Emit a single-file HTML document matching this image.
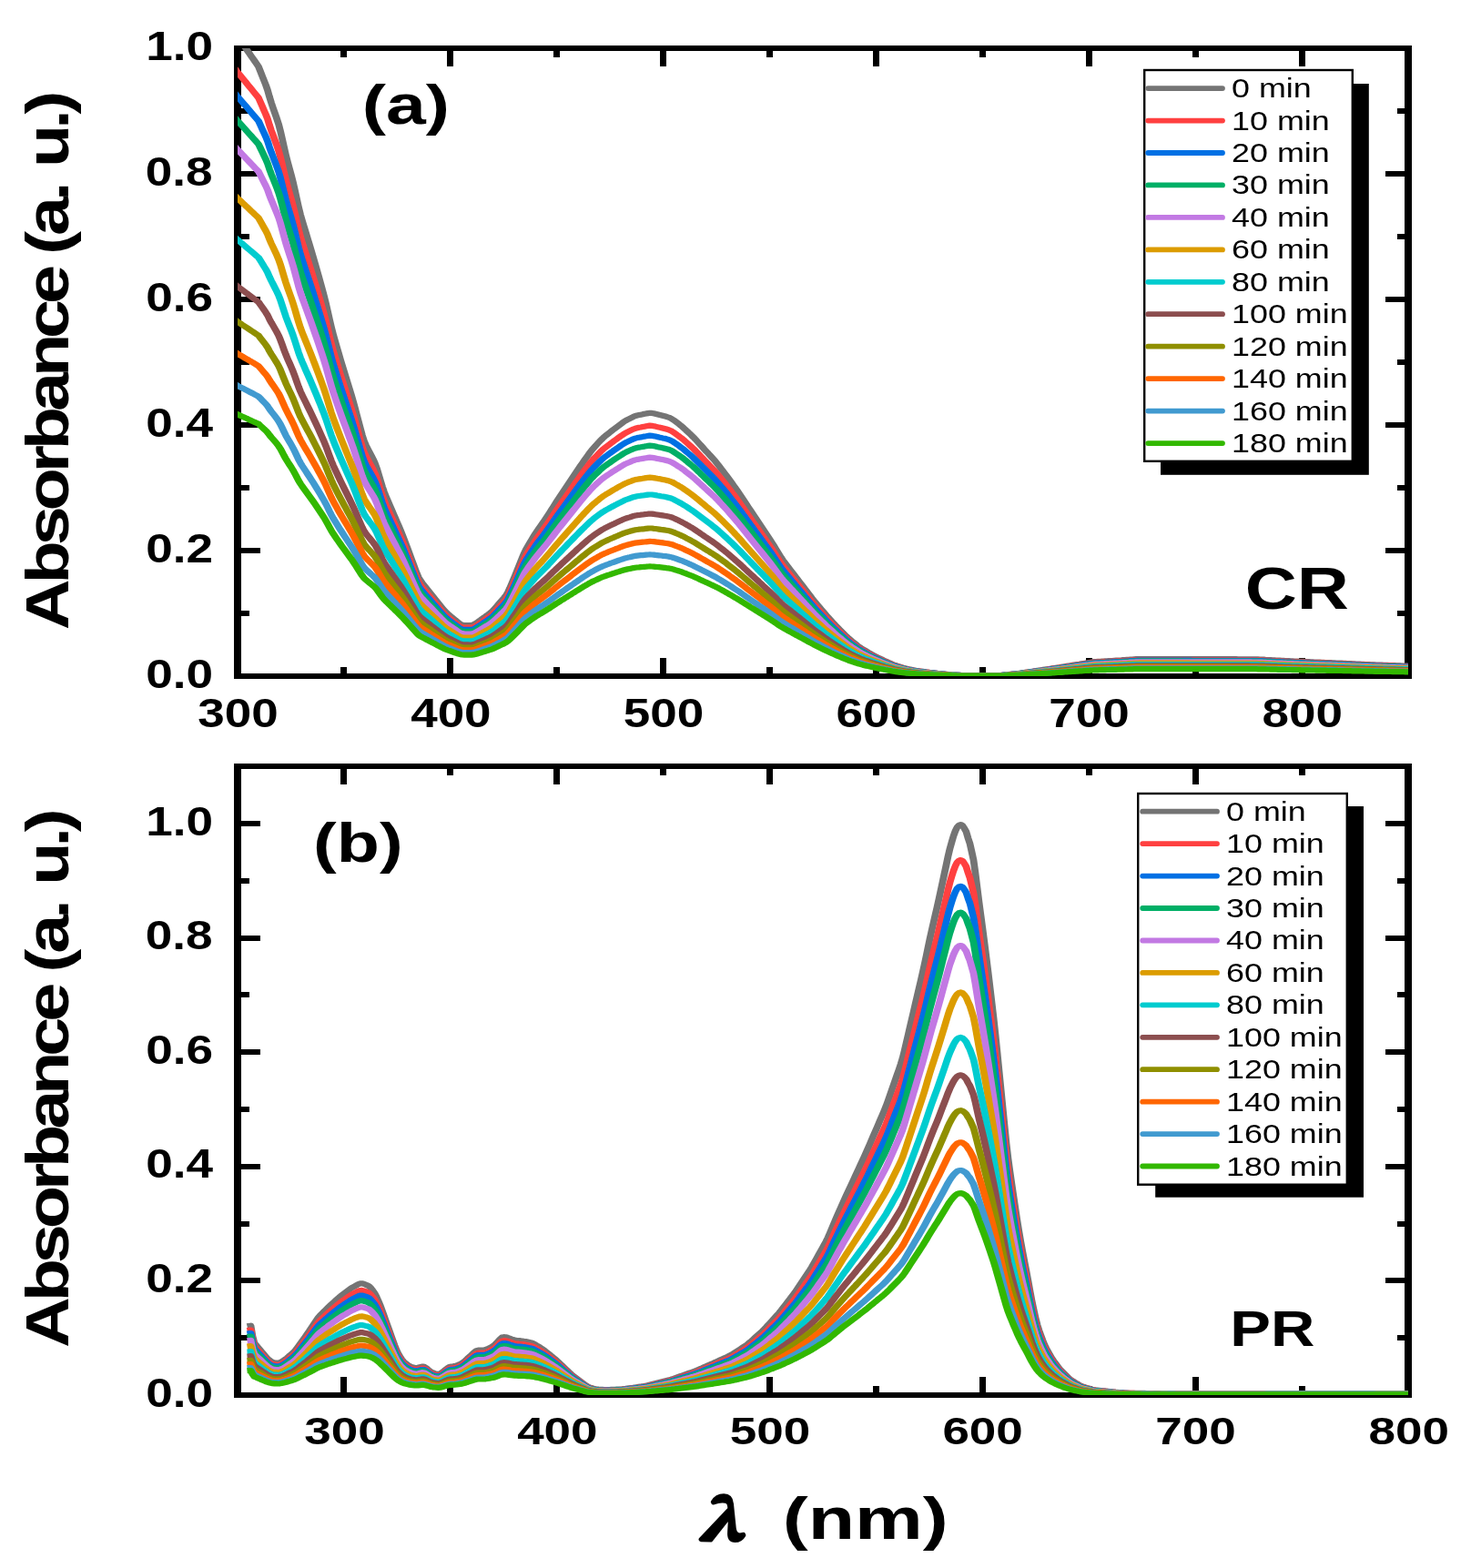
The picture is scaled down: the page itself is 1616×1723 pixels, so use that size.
<!DOCTYPE html><html><head><meta charset="utf-8"><title>Absorbance spectra</title><style>html,body{margin:0;padding:0;background:#fff}svg{display:block}</style></head><body><svg width="1616" height="1723" viewBox="0 0 1616 1723">
<defs><clipPath id="ca"><rect x="261" y="53" width="1286" height="690"/></clipPath><clipPath id="cb"><rect x="261" y="842" width="1286" height="691"/></clipPath></defs>
<rect width="100%" height="100%" fill="#fff"/>
<g fill="#000">
<rect x="257" y="50" width="1294" height="6"/>
<rect x="257" y="740" width="1294" height="6"/>
<rect x="257" y="50" width="8" height="696"/>
<rect x="1543" y="50" width="8" height="696"/>
<rect x="491" y="723" width="7" height="17"/>
<rect x="491" y="56" width="7" height="17"/>
<rect x="725" y="723" width="7" height="17"/>
<rect x="725" y="56" width="7" height="17"/>
<rect x="959" y="723" width="7" height="17"/>
<rect x="959" y="56" width="7" height="17"/>
<rect x="1193" y="723" width="7" height="17"/>
<rect x="1193" y="56" width="7" height="17"/>
<rect x="1427" y="723" width="7" height="17"/>
<rect x="1427" y="56" width="7" height="17"/>
<rect x="374" y="733" width="7" height="7"/>
<rect x="374" y="56" width="7" height="7"/>
<rect x="608" y="733" width="7" height="7"/>
<rect x="608" y="56" width="7" height="7"/>
<rect x="842" y="733" width="7" height="7"/>
<rect x="842" y="56" width="7" height="7"/>
<rect x="1076" y="733" width="7" height="7"/>
<rect x="1076" y="56" width="7" height="7"/>
<rect x="1310" y="733" width="7" height="7"/>
<rect x="1310" y="56" width="7" height="7"/>
<rect x="265" y="602" width="21" height="6"/>
<rect x="1522" y="602" width="21" height="6"/>
<rect x="265" y="464" width="21" height="6"/>
<rect x="1522" y="464" width="21" height="6"/>
<rect x="265" y="326" width="21" height="6"/>
<rect x="1522" y="326" width="21" height="6"/>
<rect x="265" y="188" width="21" height="6"/>
<rect x="1522" y="188" width="21" height="6"/>
<rect x="265" y="671" width="9" height="6"/>
<rect x="1535" y="671" width="8" height="6"/>
<rect x="265" y="533" width="9" height="6"/>
<rect x="1535" y="533" width="8" height="6"/>
<rect x="265" y="395" width="9" height="6"/>
<rect x="1535" y="395" width="8" height="6"/>
<rect x="265" y="257" width="9" height="6"/>
<rect x="1535" y="257" width="8" height="6"/>
<rect x="265" y="119" width="9" height="6"/>
<rect x="1535" y="119" width="8" height="6"/>
<rect x="257" y="839" width="1294" height="6"/>
<rect x="257" y="1530" width="1294" height="6"/>
<rect x="257" y="839" width="8" height="697"/>
<rect x="1543" y="839" width="8" height="697"/>
<rect x="374" y="1513" width="7" height="17"/>
<rect x="374" y="845" width="7" height="17"/>
<rect x="608" y="1513" width="7" height="17"/>
<rect x="608" y="845" width="7" height="17"/>
<rect x="842" y="1513" width="7" height="17"/>
<rect x="842" y="845" width="7" height="17"/>
<rect x="1076" y="1513" width="7" height="17"/>
<rect x="1076" y="845" width="7" height="17"/>
<rect x="1310" y="1513" width="7" height="17"/>
<rect x="1310" y="845" width="7" height="17"/>
<rect x="491" y="1523" width="7" height="7"/>
<rect x="491" y="845" width="7" height="7"/>
<rect x="725" y="1523" width="7" height="7"/>
<rect x="725" y="845" width="7" height="7"/>
<rect x="959" y="1523" width="7" height="7"/>
<rect x="959" y="845" width="7" height="7"/>
<rect x="1193" y="1523" width="7" height="7"/>
<rect x="1193" y="845" width="7" height="7"/>
<rect x="1427" y="1523" width="7" height="7"/>
<rect x="1427" y="845" width="7" height="7"/>
<rect x="265" y="1404" width="21" height="6"/>
<rect x="1522" y="1404" width="21" height="6"/>
<rect x="265" y="1279" width="21" height="6"/>
<rect x="1522" y="1279" width="21" height="6"/>
<rect x="265" y="1153" width="21" height="6"/>
<rect x="1522" y="1153" width="21" height="6"/>
<rect x="265" y="1028" width="21" height="6"/>
<rect x="1522" y="1028" width="21" height="6"/>
<rect x="265" y="902" width="21" height="6"/>
<rect x="1522" y="902" width="21" height="6"/>
<rect x="265" y="1467" width="9" height="6"/>
<rect x="1535" y="1467" width="8" height="6"/>
<rect x="265" y="1342" width="9" height="6"/>
<rect x="1535" y="1342" width="8" height="6"/>
<rect x="265" y="1216" width="9" height="6"/>
<rect x="1535" y="1216" width="8" height="6"/>
<rect x="265" y="1090" width="9" height="6"/>
<rect x="1535" y="1090" width="8" height="6"/>
<rect x="265" y="965" width="9" height="6"/>
<rect x="1535" y="965" width="8" height="6"/>
</g>
<g clip-path="url(#ca)"><g transform="scale(1.25,1)" fill="none" stroke-width="6.2" stroke-linejoin="round">
<path d="M200.00,24.3 L201.60,27.2 L203.20,30.1 L204.80,33 L206.40,35.8 L208.00,38.7 L209.60,41.6 L211.20,44.4 L212.80,47.3 L214.40,50.2 L216.00,53.1 L217.60,55.9 L219.20,58.8 L220.80,61.7 L222.40,64.6 L224.00,67.4 L225.60,70.3 L227.20,73.2 L228.80,78.2 L230.40,83.4 L232.00,88.4 L233.60,93.4 L235.20,99.1 L236.80,106.3 L238.40,112.8 L240.00,118.7 L241.60,124.4 L243.20,130.1 L244.80,136.2 L246.40,143.8 L248.00,152.5 L249.60,161.6 L251.20,170.2 L252.80,178 L254.40,185.4 L256.00,192.7 L257.60,200.6 L259.20,209.3 L260.80,218.5 L262.40,227.6 L264.00,235.7 L265.60,242.7 L267.20,249.3 L268.80,255.8 L270.40,262.4 L272.00,268.9 L273.60,275.6 L275.20,282.4 L276.80,289.4 L278.40,296.4 L280.00,303.4 L281.60,310.6 L283.20,317.9 L284.80,325.3 L286.40,333.3 L288.00,342 L289.60,351 L291.20,359.5 L292.80,367.3 L294.40,374.4 L296.00,381.4 L297.60,388.3 L299.20,395.1 L300.80,401.7 L302.40,408.3 L304.00,414.8 L305.60,421.3 L307.20,427.8 L308.80,434.3 L310.40,441.2 L312.00,448.5 L313.60,456.1 L315.20,463.7 L316.80,471.2 L318.40,478.5 L320.00,484.7 L321.60,489.3 L323.20,493.3 L324.80,497.1 L326.40,500.9 L328.00,504.9 L329.60,509.3 L331.20,514.8 L332.80,521.4 L334.40,528.1 L336.00,534.7 L337.60,540.6 L339.20,545.6 L340.80,550.3 L342.40,554.9 L344.00,559.6 L345.60,564.2 L347.20,568.8 L348.80,573.4 L350.40,578.1 L352.00,582.7 L353.60,587.6 L355.20,592.8 L356.80,598.1 L358.40,603.5 L360.00,608.9 L361.60,614.3 L363.20,619.7 L364.80,625.1 L366.40,630.3 L368.00,634.8 L369.60,638.1 L371.20,640.8 L372.80,643.3 L374.40,645.8 L376.00,648.3 L377.60,650.8 L379.20,653.3 L380.80,655.9 L382.40,658.4 L384.00,660.9 L385.60,663.4 L387.20,665.9 L388.80,668.4 L390.40,670.8 L392.00,672.8 L393.60,674.6 L395.20,676.3 L396.80,678 L398.40,679.6 L400.00,681.3 L401.60,682.9 L403.20,684.6 L404.80,686 L406.40,686.7 L408.00,687 L409.60,687 L411.20,687 L412.80,687 L414.40,686.9 L416.00,686.5 L417.60,685.5 L419.20,684.2 L420.80,682.7 L422.40,681.3 L424.00,679.8 L425.60,678.4 L427.20,676.9 L428.80,675.5 L430.40,674 L432.00,672.4 L433.60,670.5 L435.20,668.2 L436.80,665.9 L438.40,663.6 L440.00,661.3 L441.60,659 L443.20,656.7 L444.80,654.1 L446.40,650.7 L448.00,646.4 L449.60,641.7 L451.20,637 L452.80,632.2 L454.40,627.3 L456.00,622.3 L457.60,617.3 L459.20,612.3 L460.80,607.6 L462.40,603.5 L464.00,600 L465.60,596.6 L467.20,593.2 L468.80,589.9 L470.40,586.7 L472.00,583.7 L473.60,580.8 L475.20,577.9 L476.80,575.1 L478.40,572.2 L480.00,569.2 L481.60,566.2 L483.20,563.1 L484.80,559.9 L486.40,556.8 L488.00,553.6 L489.60,550.5 L491.20,547.5 L492.80,544.4 L494.40,541.4 L496.00,538.4 L497.60,535.4 L499.20,532.4 L500.80,529.4 L502.40,526.4 L504.00,523.4 L505.60,520.4 L507.20,517.4 L508.80,514.5 L510.40,511.5 L512.00,508.7 L513.60,505.8 L515.20,503 L516.80,500.2 L518.40,497.4 L520.00,494.8 L521.60,492.5 L523.20,490.2 L524.80,488 L526.40,485.8 L528.00,483.7 L529.60,481.7 L531.20,479.9 L532.80,478.3 L534.40,476.7 L536.00,475.1 L537.60,473.5 L539.20,471.9 L540.80,470.4 L542.40,468.9 L544.00,467.4 L545.60,465.9 L547.20,464.4 L548.80,463 L550.40,461.9 L552.00,460.8 L553.60,459.8 L555.20,458.8 L556.80,457.8 L558.40,457 L560.00,456.5 L561.60,456.1 L563.20,455.7 L564.80,455.3 L566.40,454.8 L568.00,454.4 L569.60,454.1 L571.20,453.8 L572.80,453.9 L574.40,454.3 L576.00,454.8 L577.60,455.3 L579.20,455.8 L580.80,456.3 L582.40,456.8 L584.00,457.3 L585.60,457.8 L587.20,458.5 L588.80,459.2 L590.40,460.3 L592.00,461.6 L593.60,463.1 L595.20,464.6 L596.80,466.1 L598.40,467.7 L600.00,469.4 L601.60,471.2 L603.20,473.1 L604.80,474.9 L606.40,476.8 L608.00,478.7 L609.60,480.7 L611.20,482.8 L612.80,485 L614.40,487.2 L616.00,489.4 L617.60,491.6 L619.20,493.9 L620.80,496.1 L622.40,498.2 L624.00,500.4 L625.60,502.6 L627.20,504.8 L628.80,507.1 L630.40,509.6 L632.00,512.2 L633.60,514.8 L635.20,517.4 L636.80,520 L638.40,522.6 L640.00,525.3 L641.60,528.1 L643.20,530.9 L644.80,533.7 L646.40,536.4 L648.00,539.3 L649.60,542.2 L651.20,545.2 L652.80,548.2 L654.40,551.2 L656.00,554.2 L657.60,557.3 L659.20,560.3 L660.80,563.3 L662.40,566.2 L664.00,569.2 L665.60,572.2 L667.20,575.2 L668.80,578.2 L670.40,581.2 L672.00,584.2 L673.60,587.2 L675.20,590.2 L676.80,593.2 L678.40,596.3 L680.00,599.5 L681.60,602.8 L683.20,606.1 L684.80,609.4 L686.40,612.6 L688.00,615.5 L689.60,618.1 L691.20,620.8 L692.80,623.4 L694.40,626 L696.00,628.6 L697.60,631.2 L699.20,633.8 L700.80,636.4 L702.40,639 L704.00,641.6 L705.60,644.2 L707.20,646.8 L708.80,649.4 L710.40,652 L712.00,654.6 L713.60,657.3 L715.20,659.8 L716.80,662.2 L718.40,664.6 L720.00,667 L721.60,669.4 L723.20,671.8 L724.80,674.1 L726.40,676.4 L728.00,678.6 L729.60,680.8 L731.20,683 L732.80,685.2 L734.40,687.3 L736.00,689.4 L737.60,691.5 L739.20,693.5 L740.80,695.5 L742.40,697.5 L744.00,699.4 L745.60,701.2 L747.20,702.9 L748.80,704.6 L750.40,706.2 L752.00,707.8 L753.60,709.4 L755.20,710.9 L756.80,712.2 L758.40,713.4 L760.00,714.6 L761.60,715.8 L763.20,717 L764.80,718.1 L766.40,719.2 L768.00,720.3 L769.60,721.3 L771.20,722.3 L772.80,723.3 L774.40,724.2 L776.00,725.2 L777.60,726.1 L779.20,727 L780.80,727.9 L782.40,728.8 L784.00,729.7 L785.60,730.5 L787.20,731.2 L788.80,731.9 L790.40,732.5 L792.00,733.1 L793.60,733.7 L795.20,734.2 L796.80,734.7 L798.40,735.2 L800.00,735.6 L801.60,736 L803.20,736.4 L804.80,736.8 L806.40,737.1 L808.00,737.4 L809.60,737.7 L811.20,737.9 L812.80,738.2 L814.40,738.5 L816.00,738.7 L817.60,739 L819.20,739.2 L820.80,739.4 L822.40,739.6 L824.00,739.9 L825.60,740.1 L827.20,740.3 L828.80,740.5 L830.40,740.7 L832.00,740.9 L833.60,741.1 L835.20,741.2 L836.80,741.3 L838.40,741.5 L840.00,741.6 L841.60,741.7 L843.20,741.8 L844.80,742 L846.40,742.1 L848.00,742.1 L849.60,742.1 L851.20,742.1 L852.80,742.1 L854.40,742.1 L856.00,742.1 L857.60,742.1 L859.20,742.1 L860.80,742.1 L862.40,742.1 L864.00,742.1 L865.60,742.1 L867.20,742.1 L868.80,742.1 L870.40,742.1 L872.00,742.1 L873.60,742.1 L875.20,742.1 L876.80,742.1 L878.40,742 L880.00,741.9 L881.60,741.7 L883.20,741.5 L884.80,741.3 L886.40,741.1 L888.00,740.9 L889.60,740.7 L891.20,740.5 L892.80,740.3 L894.40,740.1 L896.00,739.8 L897.60,739.5 L899.20,739.2 L900.80,738.9 L902.40,738.6 L904.00,738.3 L905.60,738 L907.20,737.7 L908.80,737.4 L910.40,737.1 L912.00,736.8 L913.60,736.5 L915.20,736.2 L916.80,735.9 L918.40,735.6 L920.00,735.3 L921.60,735 L923.20,734.7 L924.80,734.4 L926.40,734.1 L928.00,733.8 L929.60,733.5 L931.20,733.2 L932.80,732.8 L934.40,732.5 L936.00,732.2 L937.60,731.9 L939.20,731.6 L940.80,731.3 L942.40,730.9 L944.00,730.6 L945.60,730.3 L947.20,730 L948.80,729.7 L950.40,729.3 L952.00,729 L953.60,728.7 L955.20,728.4 L956.80,728 L958.40,727.7 L960.00,727.4 L961.60,727.2 L963.20,727 L964.80,726.9 L966.40,726.8 L968.00,726.7 L969.60,726.5 L971.20,726.4 L972.80,726.3 L974.40,726.2 L976.00,726.1 L977.60,726 L979.20,725.8 L980.80,725.7 L982.40,725.6 L984.00,725.5 L985.60,725.4 L987.20,725.2 L988.80,725.1 L990.40,724.9 L992.00,724.8 L993.60,724.6 L995.20,724.5 L996.80,724.3 L998.40,724.2 L1000.00,724.1 L1001.60,724.1 L1003.20,724.1 L1004.80,724.1 L1006.40,724.1 L1008.00,724.1 L1009.60,724.1 L1011.20,724.1 L1012.80,724.1 L1014.40,724.1 L1016.00,724.1 L1017.60,724.1 L1019.20,724.1 L1020.80,724.1 L1022.40,724.1 L1024.00,724.1 L1025.60,724.1 L1027.20,724.1 L1028.80,724.1 L1030.40,724.1 L1032.00,724.1 L1033.60,724.1 L1035.20,724.1 L1036.80,724.1 L1038.40,724.1 L1040.00,724.1 L1041.60,724.1 L1043.20,724.1 L1044.80,724.1 L1046.40,724.1 L1048.00,724.1 L1049.60,724.1 L1051.20,724.1 L1052.80,724.1 L1054.40,724.2 L1056.00,724.2 L1057.60,724.2 L1059.20,724.2 L1060.80,724.2 L1062.40,724.2 L1064.00,724.2 L1065.60,724.2 L1067.20,724.2 L1068.80,724.2 L1070.40,724.2 L1072.00,724.2 L1073.60,724.2 L1075.20,724.2 L1076.80,724.2 L1078.40,724.2 L1080.00,724.2 L1081.60,724.2 L1083.20,724.2 L1084.80,724.2 L1086.40,724.2 L1088.00,724.3 L1089.60,724.3 L1091.20,724.3 L1092.80,724.3 L1094.40,724.3 L1096.00,724.3 L1097.60,724.3 L1099.20,724.3 L1100.80,724.3 L1102.40,724.3 L1104.00,724.3 L1105.60,724.4 L1107.20,724.5 L1108.80,724.6 L1110.40,724.7 L1112.00,724.9 L1113.60,725 L1115.20,725.1 L1116.80,725.2 L1118.40,725.3 L1120.00,725.4 L1121.60,725.5 L1123.20,725.6 L1124.80,725.7 L1126.40,725.8 L1128.00,725.9 L1129.60,726 L1131.20,726.1 L1132.80,726.2 L1134.40,726.3 L1136.00,726.4 L1137.60,726.5 L1139.20,726.6 L1140.80,726.7 L1142.40,726.8 L1144.00,726.9 L1145.60,726.9 L1147.20,727 L1148.80,727.1 L1150.40,727.2 L1152.00,727.3 L1153.60,727.4 L1155.20,727.5 L1156.80,727.6 L1158.40,727.6 L1160.00,727.7 L1161.60,727.8 L1163.20,727.9 L1164.80,728 L1166.40,728 L1168.00,728.1 L1169.60,728.2 L1171.20,728.3 L1172.80,728.4 L1174.40,728.5 L1176.00,728.5 L1177.60,728.6 L1179.20,728.7 L1180.80,728.8 L1182.40,728.9 L1184.00,729 L1185.60,729.1 L1187.20,729.2 L1188.80,729.3 L1190.40,729.4 L1192.00,729.5 L1193.60,729.6 L1195.20,729.7 L1196.80,729.8 L1198.40,729.9 L1200.00,730 L1201.60,730.1 L1203.20,730.2 L1204.80,730.3 L1206.40,730.3 L1208.00,730.4 L1209.60,730.5 L1211.20,730.6 L1212.80,730.6 L1214.40,730.7 L1216.00,730.8 L1217.60,730.8 L1219.20,730.9 L1220.80,731 L1222.40,731.1 L1224.00,731.1 L1225.60,731.2 L1227.20,731.3 L1228.80,731.4 L1230.40,731.4 L1232.00,731.5 L1233.60,731.6 L1235.20,731.7 L1236.80,731.7 L1238.40,731.8" stroke="#747474"/>
<path d="M200.00,64.6 L201.60,67.3 L203.20,70 L204.80,72.7 L206.40,75.4 L208.00,78.1 L209.60,80.6 L211.20,83 L212.80,85.4 L214.40,87.9 L216.00,90.3 L217.60,92.8 L219.20,95.2 L220.80,97.7 L222.40,100.1 L224.00,102.6 L225.60,105 L227.20,107.5 L228.80,112 L230.40,116.6 L232.00,121.2 L233.60,125.7 L235.20,130.8 L236.80,137.4 L238.40,143.3 L240.00,148.7 L241.60,154.1 L243.20,159.5 L244.80,165.4 L246.40,172.5 L248.00,180.9 L249.60,189.5 L251.20,197.7 L252.80,205.1 L254.40,212.1 L256.00,219.1 L257.60,226.6 L259.20,234.9 L260.80,243.7 L262.40,252.3 L264.00,260 L265.60,266.7 L267.20,273 L268.80,279.2 L270.40,285.5 L272.00,291.7 L273.60,298 L275.20,304.5 L276.80,311.2 L278.40,317.8 L280.00,324.5 L281.60,331.3 L283.20,338.3 L284.80,345.4 L286.40,353 L288.00,361.3 L289.60,369.8 L291.20,377.9 L292.80,385.3 L294.40,392.1 L296.00,398.7 L297.60,405.3 L299.20,411.8 L300.80,418.1 L302.40,424.3 L304.00,430.5 L305.60,436.7 L307.20,442.9 L308.80,449.2 L310.40,455.7 L312.00,462.7 L313.60,469.8 L315.20,477.1 L316.80,484.3 L318.40,491.2 L320.00,497.1 L321.60,501.5 L323.20,505.3 L324.80,508.9 L326.40,512.6 L328.00,516.3 L329.60,520.5 L331.20,525.8 L332.80,532 L334.40,538.4 L336.00,544.7 L337.60,550.3 L339.20,555.1 L340.80,559.5 L342.40,564 L344.00,568.4 L345.60,572.8 L347.20,577.2 L348.80,581.6 L350.40,586 L352.00,590.4 L353.60,595.1 L355.20,600 L356.80,605.1 L358.40,610.2 L360.00,615.4 L361.60,620.5 L363.20,625.7 L364.80,630.8 L366.40,635.7 L368.00,640 L369.60,643.1 L371.20,645.7 L372.80,648.1 L374.40,650.5 L376.00,652.9 L377.60,655.3 L379.20,657.7 L380.80,660 L382.40,662.4 L384.00,664.8 L385.60,667.2 L387.20,669.6 L388.80,672 L390.40,674.3 L392.00,676.2 L393.60,677.9 L395.20,679.5 L396.80,681.1 L398.40,682.7 L400.00,684.2 L401.60,685.8 L403.20,687.4 L404.80,688.7 L406.40,689.4 L408.00,689.6 L409.60,689.7 L411.20,689.7 L412.80,689.7 L414.40,689.6 L416.00,689.2 L417.60,688.3 L419.20,687 L420.80,685.6 L422.40,684.2 L424.00,682.9 L425.60,681.5 L427.20,680.1 L428.80,678.7 L430.40,677.3 L432.00,675.8 L433.60,673.9 L435.20,671.8 L436.80,669.6 L438.40,667.5 L440.00,665.3 L441.60,663.1 L443.20,660.9 L444.80,658.4 L446.40,655.2 L448.00,651.1 L449.60,646.6 L451.20,642.1 L452.80,637.5 L454.40,632.9 L456.00,628.1 L457.60,623.3 L459.20,618.6 L460.80,614.1 L462.40,610.2 L464.00,606.8 L465.60,603.6 L467.20,600.4 L468.80,597.3 L470.40,594.2 L472.00,591.3 L473.60,588.6 L475.20,585.8 L476.80,583.1 L478.40,580.4 L480.00,577.6 L481.60,574.7 L483.20,571.7 L484.80,568.7 L486.40,565.7 L488.00,562.7 L489.60,559.8 L491.20,556.8 L492.80,554 L494.40,551.1 L496.00,548.3 L497.60,545.4 L499.20,542.5 L500.80,539.7 L502.40,536.8 L504.00,534 L505.60,531.1 L507.20,528.3 L508.80,525.4 L510.40,522.6 L512.00,519.9 L513.60,517.2 L515.20,514.5 L516.80,511.9 L518.40,509.2 L520.00,506.7 L521.60,504.5 L523.20,502.4 L524.80,500.3 L526.40,498.2 L528.00,496.1 L529.60,494.2 L531.20,492.5 L532.80,491 L534.40,489.5 L536.00,488 L537.60,486.4 L539.20,484.9 L540.80,483.5 L542.40,482.1 L544.00,480.6 L545.60,479.2 L547.20,477.8 L548.80,476.5 L550.40,475.4 L552.00,474.4 L553.60,473.4 L555.20,472.4 L556.80,471.5 L558.40,470.8 L560.00,470.3 L561.60,469.8 L563.20,469.5 L564.80,469.1 L566.40,468.7 L568.00,468.3 L569.60,467.9 L571.20,467.7 L572.80,467.8 L574.40,468.2 L576.00,468.6 L577.60,469.1 L579.20,469.6 L580.80,470 L582.40,470.5 L584.00,471 L585.60,471.5 L587.20,472.1 L588.80,472.9 L590.40,473.8 L592.00,475.1 L593.60,476.5 L595.20,478 L596.80,479.4 L598.40,480.9 L600.00,482.5 L601.60,484.2 L603.20,486 L604.80,487.8 L606.40,489.6 L608.00,491.4 L609.60,493.3 L611.20,495.3 L612.80,497.4 L614.40,499.5 L616.00,501.6 L617.60,503.7 L619.20,505.8 L620.80,507.9 L622.40,510 L624.00,512.1 L625.60,514.2 L627.20,516.3 L628.80,518.5 L630.40,520.8 L632.00,523.2 L633.60,525.7 L635.20,528.2 L636.80,530.7 L638.40,533.2 L640.00,535.8 L641.60,538.4 L643.20,541 L644.80,543.7 L646.40,546.4 L648.00,549.1 L649.60,551.8 L651.20,554.7 L652.80,557.5 L654.40,560.4 L656.00,563.3 L657.60,566.2 L659.20,569 L660.80,571.9 L662.40,574.7 L664.00,577.6 L665.60,580.4 L667.20,583.3 L668.80,586.1 L670.40,589 L672.00,591.8 L673.60,594.7 L675.20,597.5 L676.80,600.4 L678.40,603.3 L680.00,606.4 L681.60,609.6 L683.20,612.7 L684.80,615.8 L686.40,618.8 L688.00,621.6 L689.60,624.1 L691.20,626.6 L692.80,629.1 L694.40,631.6 L696.00,634.1 L697.60,636.6 L699.20,639 L700.80,641.5 L702.40,644 L704.00,646.4 L705.60,648.9 L707.20,651.4 L708.80,653.9 L710.40,656.4 L712.00,658.9 L713.60,661.4 L715.20,663.8 L716.80,666.1 L718.40,668.4 L720.00,670.7 L721.60,672.9 L723.20,675.2 L724.80,677.4 L726.40,679.6 L728.00,681.7 L729.60,683.8 L731.20,685.9 L732.80,688 L734.40,690 L736.00,692 L737.60,693.9 L739.20,695.8 L740.80,697.7 L742.40,699.6 L744.00,701.5 L745.60,703.3 L747.20,704.9 L748.80,706.4 L750.40,707.9 L752.00,709.5 L753.60,711 L755.20,712.4 L756.80,713.7 L758.40,714.8 L760.00,716 L761.60,717.1 L763.20,718.2 L764.80,719.3 L766.40,720.4 L768.00,721.3 L769.60,722.3 L771.20,723.2 L772.80,724.2 L774.40,725.1 L776.00,726.1 L777.60,726.9 L779.20,727.8 L780.80,728.7 L782.40,729.5 L784.00,730.4 L785.60,731.1 L787.20,731.8 L788.80,732.4 L790.40,733 L792.00,733.5 L793.60,734.1 L795.20,734.7 L796.80,735.1 L798.40,735.5 L800.00,735.9 L801.60,736.3 L803.20,736.7 L804.80,737.1 L806.40,737.4 L808.00,737.7 L809.60,737.9 L811.20,738.2 L812.80,738.4 L814.40,738.7 L816.00,738.9 L817.60,739.1 L819.20,739.4 L820.80,739.6 L822.40,739.8 L824.00,740 L825.60,740.2 L827.20,740.4 L828.80,740.7 L830.40,740.9 L832.00,741 L833.60,741.2 L835.20,741.3 L836.80,741.4 L838.40,741.5 L840.00,741.7 L841.60,741.8 L843.20,741.9 L844.80,742 L846.40,742.1 L848.00,742.1 L849.60,742.1 L851.20,742.1 L852.80,742.1 L854.40,742.1 L856.00,742.1 L857.60,742.1 L859.20,742.1 L860.80,742.1 L862.40,742.1 L864.00,742.1 L865.60,742.1 L867.20,742.1 L868.80,742.1 L870.40,742.1 L872.00,742.1 L873.60,742.1 L875.20,742.1 L876.80,742.1 L878.40,742.1 L880.00,742 L881.60,741.8 L883.20,741.6 L884.80,741.4 L886.40,741.2 L888.00,741 L889.60,740.8 L891.20,740.6 L892.80,740.4 L894.40,740.2 L896.00,740 L897.60,739.7 L899.20,739.4 L900.80,739.1 L902.40,738.8 L904.00,738.5 L905.60,738.3 L907.20,738 L908.80,737.7 L910.40,737.4 L912.00,737.1 L913.60,736.8 L915.20,736.6 L916.80,736.3 L918.40,736 L920.00,735.7 L921.60,735.4 L923.20,735.1 L924.80,734.8 L926.40,734.5 L928.00,734.2 L929.60,733.9 L931.20,733.6 L932.80,733.3 L934.40,733 L936.00,732.7 L937.60,732.4 L939.20,732.1 L940.80,731.8 L942.40,731.5 L944.00,731.2 L945.60,730.9 L947.20,730.6 L948.80,730.3 L950.40,730 L952.00,729.7 L953.60,729.4 L955.20,729.1 L956.80,728.8 L958.40,728.5 L960.00,728.2 L961.60,727.9 L963.20,727.8 L964.80,727.7 L966.40,727.6 L968.00,727.5 L969.60,727.3 L971.20,727.2 L972.80,727.1 L974.40,727 L976.00,726.9 L977.60,726.8 L979.20,726.7 L980.80,726.6 L982.40,726.4 L984.00,726.3 L985.60,726.2 L987.20,726.1 L988.80,725.9 L990.40,725.8 L992.00,725.7 L993.60,725.5 L995.20,725.4 L996.80,725.2 L998.40,725.1 L1000.00,725 L1001.60,725 L1003.20,725 L1004.80,725 L1006.40,725 L1008.00,725 L1009.60,725 L1011.20,725 L1012.80,725 L1014.40,725 L1016.00,725 L1017.60,725 L1019.20,725 L1020.80,725 L1022.40,725 L1024.00,725 L1025.60,725 L1027.20,725 L1028.80,725 L1030.40,725 L1032.00,725 L1033.60,725 L1035.20,725 L1036.80,725 L1038.40,725 L1040.00,725 L1041.60,725 L1043.20,725 L1044.80,725 L1046.40,725 L1048.00,725 L1049.60,725 L1051.20,725 L1052.80,725.1 L1054.40,725.1 L1056.00,725.1 L1057.60,725.1 L1059.20,725.1 L1060.80,725.1 L1062.40,725.1 L1064.00,725.1 L1065.60,725.1 L1067.20,725.1 L1068.80,725.1 L1070.40,725.1 L1072.00,725.1 L1073.60,725.1 L1075.20,725.1 L1076.80,725.1 L1078.40,725.1 L1080.00,725.1 L1081.60,725.1 L1083.20,725.1 L1084.80,725.1 L1086.40,725.1 L1088.00,725.2 L1089.60,725.2 L1091.20,725.2 L1092.80,725.2 L1094.40,725.2 L1096.00,725.2 L1097.60,725.2 L1099.20,725.2 L1100.80,725.2 L1102.40,725.2 L1104.00,725.2 L1105.60,725.3 L1107.20,725.4 L1108.80,725.5 L1110.40,725.6 L1112.00,725.7 L1113.60,725.8 L1115.20,725.9 L1116.80,726 L1118.40,726.2 L1120.00,726.3 L1121.60,726.4 L1123.20,726.5 L1124.80,726.6 L1126.40,726.7 L1128.00,726.8 L1129.60,726.8 L1131.20,726.9 L1132.80,727 L1134.40,727.1 L1136.00,727.2 L1137.60,727.3 L1139.20,727.4 L1140.80,727.5 L1142.40,727.5 L1144.00,727.6 L1145.60,727.7 L1147.20,727.8 L1148.80,727.9 L1150.40,728 L1152.00,728.1 L1153.60,728.1 L1155.20,728.2 L1156.80,728.3 L1158.40,728.4 L1160.00,728.4 L1161.60,728.5 L1163.20,728.6 L1164.80,728.7 L1166.40,728.8 L1168.00,728.8 L1169.60,728.9 L1171.20,729 L1172.80,729.1 L1174.40,729.2 L1176.00,729.2 L1177.60,729.3 L1179.20,729.4 L1180.80,729.5 L1182.40,729.6 L1184.00,729.7 L1185.60,729.8 L1187.20,729.9 L1188.80,729.9 L1190.40,730 L1192.00,730.1 L1193.60,730.2 L1195.20,730.3 L1196.80,730.4 L1198.40,730.5 L1200.00,730.6 L1201.60,730.7 L1203.20,730.8 L1204.80,730.9 L1206.40,730.9 L1208.00,731 L1209.60,731.1 L1211.20,731.2 L1212.80,731.2 L1214.40,731.3 L1216.00,731.4 L1217.60,731.4 L1219.20,731.5 L1220.80,731.6 L1222.40,731.6 L1224.00,731.7 L1225.60,731.8 L1227.20,731.8 L1228.80,731.9 L1230.40,732 L1232.00,732.1 L1233.60,732.1 L1235.20,732.2 L1236.80,732.3 L1238.40,732.3" stroke="#ff4040"/>
<path d="M200.00,91.9 L201.60,94.5 L203.20,97.1 L204.80,99.7 L206.40,102.3 L208.00,104.9 L209.60,107.2 L211.20,109.6 L212.80,111.9 L214.40,114.2 L216.00,116.5 L217.60,118.9 L219.20,121.2 L220.80,123.6 L222.40,125.9 L224.00,128.2 L225.60,130.6 L227.20,132.9 L228.80,137.3 L230.40,141.7 L232.00,146 L233.60,150.3 L235.20,155.3 L236.80,161.6 L238.40,167.3 L240.00,172.4 L241.60,177.6 L243.20,182.8 L244.80,188.4 L246.40,195.3 L248.00,203.3 L249.60,211.6 L251.20,219.5 L252.80,226.6 L254.40,233.3 L256.00,240 L257.60,247.2 L259.20,255.2 L260.80,263.6 L262.40,271.9 L264.00,279.3 L265.60,285.7 L267.20,291.8 L268.80,297.7 L270.40,303.7 L272.00,309.7 L273.60,315.8 L275.20,322 L276.80,328.4 L278.40,334.8 L280.00,341.2 L281.60,347.8 L283.20,354.4 L284.80,361.2 L286.40,368.6 L288.00,376.5 L289.60,384.7 L291.20,392.5 L292.80,399.6 L294.40,406.1 L296.00,412.5 L297.60,418.8 L299.20,425 L300.80,431.1 L302.40,437.1 L304.00,443 L305.60,448.9 L307.20,454.9 L308.80,460.9 L310.40,467.2 L312.00,473.8 L313.60,480.7 L315.20,487.7 L316.80,494.6 L318.40,501.3 L320.00,506.9 L321.60,511.2 L323.20,514.8 L324.80,518.3 L326.40,521.8 L328.00,525.3 L329.60,529.4 L331.20,534.5 L332.80,540.4 L334.40,546.6 L336.00,552.6 L337.60,558 L339.20,562.6 L340.80,566.9 L342.40,571.1 L344.00,575.3 L345.60,579.6 L347.20,583.8 L348.80,588 L350.40,592.3 L352.00,596.5 L353.60,601 L355.20,605.7 L356.80,610.6 L358.40,615.5 L360.00,620.5 L361.60,625.4 L363.20,630.3 L364.80,635.3 L366.40,640 L368.00,644.1 L369.60,647.1 L371.20,649.6 L372.80,651.9 L374.40,654.2 L376.00,656.5 L377.60,658.8 L379.20,661.1 L380.80,663.4 L382.40,665.7 L384.00,668 L385.60,670.3 L387.20,672.6 L388.80,674.8 L390.40,677 L392.00,678.9 L393.60,680.5 L395.20,682 L396.80,683.5 L398.40,685.1 L400.00,686.6 L401.60,688.1 L403.20,689.6 L404.80,690.9 L406.40,691.6 L408.00,691.8 L409.60,691.8 L411.20,691.8 L412.80,691.8 L414.40,691.8 L416.00,691.4 L417.60,690.5 L419.20,689.2 L420.80,687.9 L422.40,686.6 L424.00,685.3 L425.60,683.9 L427.20,682.6 L428.80,681.3 L430.40,679.9 L432.00,678.5 L433.60,676.7 L435.20,674.7 L436.80,672.6 L438.40,670.5 L440.00,668.4 L441.60,666.3 L443.20,664.1 L444.80,661.8 L446.40,658.7 L448.00,654.7 L449.60,650.5 L451.20,646.1 L452.80,641.7 L454.40,637.3 L456.00,632.7 L457.60,628.1 L459.20,623.5 L460.80,619.2 L462.40,615.5 L464.00,612.3 L465.60,609.2 L467.20,606.1 L468.80,603.1 L470.40,600.1 L472.00,597.4 L473.60,594.7 L475.20,592.1 L476.80,589.5 L478.40,586.9 L480.00,584.2 L481.60,581.4 L483.20,578.5 L484.80,575.7 L486.40,572.8 L488.00,569.9 L489.60,567.1 L491.20,564.3 L492.80,561.5 L494.40,558.8 L496.00,556 L497.60,553.3 L499.20,550.5 L500.80,547.8 L502.40,545.1 L504.00,542.3 L505.60,539.6 L507.20,536.8 L508.80,534.1 L510.40,531.4 L512.00,528.8 L513.60,526.2 L515.20,523.7 L516.80,521.1 L518.40,518.6 L520.00,516.2 L521.60,514 L523.20,512 L524.80,510 L526.40,508 L528.00,506 L529.60,504.2 L531.20,502.5 L532.80,501 L534.40,499.6 L536.00,498.1 L537.60,496.7 L539.20,495.2 L540.80,493.8 L542.40,492.5 L544.00,491.1 L545.60,489.7 L547.20,488.4 L548.80,487.1 L550.40,486 L552.00,485.1 L553.60,484.1 L555.20,483.2 L556.80,482.3 L558.40,481.6 L560.00,481.1 L561.60,480.7 L563.20,480.4 L564.80,480 L566.40,479.6 L568.00,479.3 L569.60,478.9 L571.20,478.7 L572.80,478.8 L574.40,479.2 L576.00,479.6 L577.60,480 L579.20,480.5 L580.80,480.9 L582.40,481.4 L584.00,481.8 L585.60,482.3 L587.20,482.9 L588.80,483.6 L590.40,484.6 L592.00,485.8 L593.60,487.2 L595.20,488.5 L596.80,489.9 L598.40,491.4 L600.00,492.9 L601.60,494.6 L603.20,496.3 L604.80,498 L606.40,499.7 L608.00,501.4 L609.60,503.2 L611.20,505.2 L612.80,507.2 L614.40,509.2 L616.00,511.2 L617.60,513.3 L619.20,515.3 L620.80,517.3 L622.40,519.3 L624.00,521.3 L625.60,523.3 L627.20,525.3 L628.80,527.4 L630.40,529.7 L632.00,532 L633.60,534.4 L635.20,536.8 L636.80,539.1 L638.40,541.5 L640.00,544 L641.60,546.6 L643.20,549.1 L644.80,551.7 L646.40,554.2 L648.00,556.8 L649.60,559.5 L651.20,562.2 L652.80,565 L654.40,567.7 L656.00,570.5 L657.60,573.2 L659.20,576 L660.80,578.7 L662.40,581.4 L664.00,584.2 L665.60,586.9 L667.20,589.6 L668.80,592.4 L670.40,595.1 L672.00,597.8 L673.60,600.6 L675.20,603.3 L676.80,606.1 L678.40,608.9 L680.00,611.9 L681.60,614.9 L683.20,617.9 L684.80,620.9 L686.40,623.8 L688.00,626.4 L689.60,628.9 L691.20,631.3 L692.80,633.7 L694.40,636 L696.00,638.4 L697.60,640.8 L699.20,643.2 L700.80,645.6 L702.40,647.9 L704.00,650.3 L705.60,652.7 L707.20,655.1 L708.80,657.5 L710.40,659.9 L712.00,662.2 L713.60,664.6 L715.20,666.9 L716.80,669.2 L718.40,671.4 L720.00,673.6 L721.60,675.7 L723.20,677.9 L724.80,680.1 L726.40,682.1 L728.00,684.1 L729.60,686.2 L731.20,688.2 L732.80,690.2 L734.40,692.1 L736.00,694 L737.60,695.9 L739.20,697.7 L740.80,699.5 L742.40,701.4 L744.00,703.2 L745.60,704.8 L747.20,706.4 L748.80,707.9 L750.40,709.3 L752.00,710.8 L753.60,712.3 L755.20,713.6 L756.80,714.8 L758.40,715.9 L760.00,717 L761.60,718.1 L763.20,719.2 L764.80,720.3 L766.40,721.3 L768.00,722.2 L769.60,723.1 L771.20,724 L772.80,725 L774.40,725.9 L776.00,726.7 L777.60,727.6 L779.20,728.4 L780.80,729.2 L782.40,730.1 L784.00,730.9 L785.60,731.6 L787.20,732.3 L788.80,732.8 L790.40,733.4 L792.00,733.9 L793.60,734.5 L795.20,735 L796.80,735.5 L798.40,735.8 L800.00,736.2 L801.60,736.6 L803.20,737 L804.80,737.3 L806.40,737.6 L808.00,737.9 L809.60,738.1 L811.20,738.4 L812.80,738.6 L814.40,738.9 L816.00,739.1 L817.60,739.3 L819.20,739.5 L820.80,739.7 L822.40,739.9 L824.00,740.1 L825.60,740.3 L827.20,740.5 L828.80,740.7 L830.40,740.9 L832.00,741.1 L833.60,741.2 L835.20,741.4 L836.80,741.5 L838.40,741.6 L840.00,741.7 L841.60,741.8 L843.20,741.9 L844.80,742.1 L846.40,742.1 L848.00,742.2 L849.60,742.2 L851.20,742.2 L852.80,742.2 L854.40,742.2 L856.00,742.2 L857.60,742.2 L859.20,742.2 L860.80,742.2 L862.40,742.2 L864.00,742.2 L865.60,742.2 L867.20,742.2 L868.80,742.2 L870.40,742.2 L872.00,742.2 L873.60,742.2 L875.20,742.2 L876.80,742.2 L878.40,742.1 L880.00,742 L881.60,741.8 L883.20,741.6 L884.80,741.5 L886.40,741.3 L888.00,741.1 L889.60,740.9 L891.20,740.7 L892.80,740.5 L894.40,740.3 L896.00,740.1 L897.60,739.8 L899.20,739.5 L900.80,739.3 L902.40,739 L904.00,738.7 L905.60,738.4 L907.20,738.2 L908.80,737.9 L910.40,737.6 L912.00,737.4 L913.60,737.1 L915.20,736.8 L916.80,736.5 L918.40,736.3 L920.00,736 L921.60,735.7 L923.20,735.4 L924.80,735.2 L926.40,734.9 L928.00,734.6 L929.60,734.3 L931.20,734 L932.80,733.7 L934.40,733.4 L936.00,733.1 L937.60,732.8 L939.20,732.6 L940.80,732.3 L942.40,732 L944.00,731.7 L945.60,731.4 L947.20,731.1 L948.80,730.8 L950.40,730.5 L952.00,730.2 L953.60,729.9 L955.20,729.6 L956.80,729.3 L958.40,729 L960.00,728.8 L961.60,728.5 L963.20,728.4 L964.80,728.3 L966.40,728.2 L968.00,728.1 L969.60,728 L971.20,727.9 L972.80,727.7 L974.40,727.6 L976.00,727.5 L977.60,727.4 L979.20,727.3 L980.80,727.2 L982.40,727.1 L984.00,727 L985.60,726.9 L987.20,726.8 L988.80,726.6 L990.40,726.5 L992.00,726.4 L993.60,726.2 L995.20,726.1 L996.80,725.9 L998.40,725.8 L1000.00,725.7 L1001.60,725.7 L1003.20,725.7 L1004.80,725.7 L1006.40,725.7 L1008.00,725.7 L1009.60,725.7 L1011.20,725.7 L1012.80,725.7 L1014.40,725.7 L1016.00,725.7 L1017.60,725.7 L1019.20,725.7 L1020.80,725.7 L1022.40,725.7 L1024.00,725.7 L1025.60,725.7 L1027.20,725.7 L1028.80,725.7 L1030.40,725.7 L1032.00,725.7 L1033.60,725.7 L1035.20,725.7 L1036.80,725.7 L1038.40,725.7 L1040.00,725.7 L1041.60,725.7 L1043.20,725.7 L1044.80,725.7 L1046.40,725.7 L1048.00,725.8 L1049.60,725.8 L1051.20,725.8 L1052.80,725.8 L1054.40,725.8 L1056.00,725.8 L1057.60,725.8 L1059.20,725.8 L1060.80,725.8 L1062.40,725.8 L1064.00,725.8 L1065.60,725.8 L1067.20,725.8 L1068.80,725.8 L1070.40,725.8 L1072.00,725.8 L1073.60,725.8 L1075.20,725.8 L1076.80,725.8 L1078.40,725.8 L1080.00,725.8 L1081.60,725.8 L1083.20,725.9 L1084.80,725.9 L1086.40,725.9 L1088.00,725.9 L1089.60,725.9 L1091.20,725.9 L1092.80,725.9 L1094.40,725.9 L1096.00,725.9 L1097.60,725.9 L1099.20,725.9 L1100.80,725.9 L1102.40,725.9 L1104.00,725.9 L1105.60,726 L1107.20,726.1 L1108.80,726.2 L1110.40,726.3 L1112.00,726.4 L1113.60,726.5 L1115.20,726.6 L1116.80,726.7 L1118.40,726.8 L1120.00,726.9 L1121.60,727 L1123.20,727.1 L1124.80,727.2 L1126.40,727.3 L1128.00,727.4 L1129.60,727.5 L1131.20,727.6 L1132.80,727.7 L1134.40,727.7 L1136.00,727.8 L1137.60,727.9 L1139.20,728 L1140.80,728.1 L1142.40,728.2 L1144.00,728.2 L1145.60,728.3 L1147.20,728.4 L1148.80,728.5 L1150.40,728.6 L1152.00,728.7 L1153.60,728.7 L1155.20,728.8 L1156.80,728.9 L1158.40,729 L1160.00,729 L1161.60,729.1 L1163.20,729.2 L1164.80,729.3 L1166.40,729.3 L1168.00,729.4 L1169.60,729.5 L1171.20,729.6 L1172.80,729.6 L1174.40,729.7 L1176.00,729.8 L1177.60,729.9 L1179.20,729.9 L1180.80,730 L1182.40,730.1 L1184.00,730.2 L1185.60,730.3 L1187.20,730.4 L1188.80,730.5 L1190.40,730.6 L1192.00,730.6 L1193.60,730.7 L1195.20,730.8 L1196.80,730.9 L1198.40,731 L1200.00,731.1 L1201.60,731.2 L1203.20,731.3 L1204.80,731.3 L1206.40,731.4 L1208.00,731.5 L1209.60,731.6 L1211.20,731.6 L1212.80,731.7 L1214.40,731.8 L1216.00,731.8 L1217.60,731.9 L1219.20,732 L1220.80,732 L1222.40,732.1 L1224.00,732.2 L1225.60,732.2 L1227.20,732.3 L1228.80,732.4 L1230.40,732.4 L1232.00,732.5 L1233.60,732.6 L1235.20,732.6 L1236.80,732.7 L1238.40,732.7" stroke="#0070e4"/>
<path d="M200.00,119.2 L201.60,121.7 L203.20,124.2 L204.80,126.7 L206.40,129.2 L208.00,131.7 L209.60,133.9 L211.20,136.1 L212.80,138.3 L214.40,140.5 L216.00,142.8 L217.60,145 L219.20,147.2 L220.80,149.4 L222.40,151.7 L224.00,153.9 L225.60,156.1 L227.20,158.4 L228.80,162.5 L230.40,166.7 L232.00,170.9 L233.60,175 L235.20,179.7 L236.80,185.8 L238.40,191.2 L240.00,196.1 L241.60,201.1 L243.20,206.1 L244.80,211.5 L246.40,218.1 L248.00,225.7 L249.60,233.7 L251.20,241.2 L252.80,248.1 L254.40,254.5 L256.00,261 L257.60,267.8 L259.20,275.4 L260.80,283.5 L262.40,291.5 L264.00,298.6 L265.60,304.7 L267.20,310.5 L268.80,316.3 L270.40,322 L272.00,327.7 L273.60,333.6 L275.20,339.5 L276.80,345.6 L278.40,351.8 L280.00,357.9 L281.60,364.2 L283.20,370.6 L284.80,377.1 L286.40,384.1 L288.00,391.7 L289.60,399.6 L291.20,407.1 L292.80,413.8 L294.40,420.1 L296.00,426.2 L297.60,432.3 L299.20,438.3 L300.80,444.1 L302.40,449.8 L304.00,455.5 L305.60,461.2 L307.20,466.9 L308.80,472.6 L310.40,478.6 L312.00,485 L313.60,491.6 L315.20,498.3 L316.80,504.9 L318.40,511.3 L320.00,516.7 L321.60,520.8 L323.20,524.3 L324.80,527.6 L326.40,531 L328.00,534.4 L329.60,538.2 L331.20,543.1 L332.80,548.8 L334.40,554.8 L336.00,560.5 L337.60,565.7 L339.20,570.1 L340.80,574.2 L342.40,578.2 L344.00,582.3 L345.60,586.4 L347.20,590.4 L348.80,594.5 L350.40,598.5 L352.00,602.6 L353.60,606.9 L355.20,611.4 L356.80,616.1 L358.40,620.8 L360.00,625.6 L361.60,630.3 L363.20,635 L364.80,639.7 L366.40,644.3 L368.00,648.2 L369.60,651.1 L371.20,653.4 L372.80,655.6 L374.40,657.9 L376.00,660.1 L377.60,662.3 L379.20,664.5 L380.80,666.7 L382.40,668.9 L384.00,671.1 L385.60,673.3 L387.20,675.5 L388.80,677.7 L390.40,679.7 L392.00,681.5 L393.60,683.1 L395.20,684.6 L396.80,686 L398.40,687.5 L400.00,688.9 L401.60,690.4 L403.20,691.8 L404.80,693 L406.40,693.7 L408.00,693.9 L409.60,693.9 L411.20,693.9 L412.80,693.9 L414.40,693.9 L416.00,693.5 L417.60,692.7 L419.20,691.5 L420.80,690.2 L422.40,688.9 L424.00,687.7 L425.60,686.4 L427.20,685.1 L428.80,683.9 L430.40,682.6 L432.00,681.1 L433.60,679.4 L435.20,677.5 L436.80,675.5 L438.40,673.5 L440.00,671.5 L441.60,669.5 L443.20,667.4 L444.80,665.1 L446.40,662.2 L448.00,658.4 L449.60,654.3 L451.20,650.1 L452.80,646 L454.40,641.7 L456.00,637.3 L457.60,632.9 L459.20,628.5 L460.80,624.4 L462.40,620.8 L464.00,617.7 L465.60,614.7 L467.20,611.8 L468.80,608.9 L470.40,606.1 L472.00,603.4 L473.60,600.9 L475.20,598.4 L476.80,595.9 L478.40,593.4 L480.00,590.8 L481.60,588.1 L483.20,585.4 L484.80,582.6 L486.40,579.9 L488.00,577.1 L489.60,574.4 L491.20,571.7 L492.80,569.1 L494.40,566.4 L496.00,563.8 L497.60,561.2 L499.20,558.5 L500.80,555.9 L502.40,553.3 L504.00,550.7 L505.60,548 L507.20,545.4 L508.80,542.8 L510.40,540.2 L512.00,537.7 L513.60,535.2 L515.20,532.8 L516.80,530.3 L518.40,527.9 L520.00,525.6 L521.60,523.5 L523.20,521.6 L524.80,519.7 L526.40,517.7 L528.00,515.8 L529.60,514.1 L531.20,512.5 L532.80,511.1 L534.40,509.7 L536.00,508.3 L537.60,506.9 L539.20,505.5 L540.80,504.2 L542.40,502.9 L544.00,501.6 L545.60,500.3 L547.20,499 L548.80,497.8 L550.40,496.7 L552.00,495.8 L553.60,494.9 L555.20,494 L556.80,493.2 L558.40,492.5 L560.00,492 L561.60,491.6 L563.20,491.3 L564.80,490.9 L566.40,490.6 L568.00,490.2 L569.60,489.9 L571.20,489.7 L572.80,489.8 L574.40,490.1 L576.00,490.5 L577.60,491 L579.20,491.4 L580.80,491.8 L582.40,492.2 L584.00,492.7 L585.60,493.2 L587.20,493.7 L588.80,494.4 L590.40,495.3 L592.00,496.5 L593.60,497.8 L595.20,499.1 L596.80,500.5 L598.40,501.8 L600.00,503.3 L601.60,504.9 L603.20,506.5 L604.80,508.2 L606.40,509.8 L608.00,511.5 L609.60,513.2 L611.20,515.1 L612.80,517 L614.40,518.9 L616.00,520.9 L617.60,522.8 L619.20,524.7 L620.80,526.7 L622.40,528.6 L624.00,530.5 L625.60,532.4 L627.20,534.4 L628.80,536.4 L630.40,538.5 L632.00,540.8 L633.60,543.1 L635.20,545.3 L636.80,547.6 L638.40,549.9 L640.00,552.3 L641.60,554.7 L643.20,557.2 L644.80,559.6 L646.40,562.1 L648.00,564.5 L649.60,567.1 L651.20,569.7 L652.80,572.4 L654.40,575 L656.00,577.7 L657.60,580.3 L659.20,582.9 L660.80,585.6 L662.40,588.2 L664.00,590.8 L665.60,593.4 L667.20,596 L668.80,598.6 L670.40,601.3 L672.00,603.9 L673.60,606.5 L675.20,609.1 L676.80,611.8 L678.40,614.5 L680.00,617.3 L681.60,620.2 L683.20,623.1 L684.80,626 L686.40,628.8 L688.00,631.3 L689.60,633.6 L691.20,635.9 L692.80,638.2 L694.40,640.5 L696.00,642.8 L697.60,645.1 L699.20,647.3 L700.80,649.6 L702.40,651.9 L704.00,654.2 L705.60,656.4 L707.20,658.7 L708.80,661 L710.40,663.3 L712.00,665.6 L713.60,667.9 L715.20,670.1 L716.80,672.3 L718.40,674.4 L720.00,676.4 L721.60,678.5 L723.20,680.6 L724.80,682.7 L726.40,684.7 L728.00,686.6 L729.60,688.5 L731.20,690.4 L732.80,692.4 L734.40,694.2 L736.00,696.1 L737.60,697.8 L739.20,699.6 L740.80,701.4 L742.40,703.1 L744.00,704.8 L745.60,706.4 L747.20,707.9 L748.80,709.3 L750.40,710.7 L752.00,712.1 L753.60,713.5 L755.20,714.8 L756.80,716 L758.40,717.1 L760.00,718.1 L761.60,719.2 L763.20,720.2 L764.80,721.2 L766.40,722.2 L768.00,723.1 L769.60,723.9 L771.20,724.8 L772.80,725.7 L774.40,726.6 L776.00,727.4 L777.60,728.2 L779.20,729 L780.80,729.8 L782.40,730.6 L784.00,731.4 L785.60,732.1 L787.20,732.7 L788.80,733.2 L790.40,733.8 L792.00,734.3 L793.60,734.8 L795.20,735.3 L796.80,735.8 L798.40,736.1 L800.00,736.5 L801.60,736.9 L803.20,737.2 L804.80,737.5 L806.40,737.9 L808.00,738.1 L809.60,738.3 L811.20,738.6 L812.80,738.8 L814.40,739 L816.00,739.2 L817.60,739.5 L819.20,739.7 L820.80,739.9 L822.40,740 L824.00,740.2 L825.60,740.4 L827.20,740.6 L828.80,740.8 L830.40,741 L832.00,741.2 L833.60,741.3 L835.20,741.4 L836.80,741.5 L838.40,741.6 L840.00,741.8 L841.60,741.9 L843.20,742 L844.80,742.1 L846.40,742.2 L848.00,742.2 L849.60,742.2 L851.20,742.2 L852.80,742.2 L854.40,742.2 L856.00,742.2 L857.60,742.2 L859.20,742.2 L860.80,742.2 L862.40,742.2 L864.00,742.2 L865.60,742.2 L867.20,742.2 L868.80,742.2 L870.40,742.2 L872.00,742.2 L873.60,742.2 L875.20,742.2 L876.80,742.2 L878.40,742.2 L880.00,742 L881.60,741.9 L883.20,741.7 L884.80,741.5 L886.40,741.4 L888.00,741.2 L889.60,741 L891.20,740.8 L892.80,740.6 L894.40,740.4 L896.00,740.2 L897.60,739.9 L899.20,739.7 L900.80,739.4 L902.40,739.2 L904.00,738.9 L905.60,738.6 L907.20,738.4 L908.80,738.1 L910.40,737.9 L912.00,737.6 L913.60,737.3 L915.20,737.1 L916.80,736.8 L918.40,736.6 L920.00,736.3 L921.60,736 L923.20,735.8 L924.80,735.5 L926.40,735.2 L928.00,734.9 L929.60,734.7 L931.20,734.4 L932.80,734.1 L934.40,733.8 L936.00,733.5 L937.60,733.3 L939.20,733 L940.80,732.7 L942.40,732.4 L944.00,732.2 L945.60,731.9 L947.20,731.6 L948.80,731.3 L950.40,731 L952.00,730.8 L953.60,730.5 L955.20,730.2 L956.80,729.9 L958.40,729.6 L960.00,729.4 L961.60,729.1 L963.20,729 L964.80,728.9 L966.40,728.8 L968.00,728.7 L969.60,728.6 L971.20,728.5 L972.80,728.4 L974.40,728.3 L976.00,728.2 L977.60,728.1 L979.20,728 L980.80,727.9 L982.40,727.8 L984.00,727.7 L985.60,727.6 L987.20,727.4 L988.80,727.3 L990.40,727.2 L992.00,727 L993.60,726.9 L995.20,726.8 L996.80,726.6 L998.40,726.5 L1000.00,726.5 L1001.60,726.4 L1003.20,726.4 L1004.80,726.4 L1006.40,726.4 L1008.00,726.4 L1009.60,726.4 L1011.20,726.4 L1012.80,726.4 L1014.40,726.4 L1016.00,726.4 L1017.60,726.4 L1019.20,726.4 L1020.80,726.4 L1022.40,726.4 L1024.00,726.4 L1025.60,726.4 L1027.20,726.4 L1028.80,726.4 L1030.40,726.4 L1032.00,726.4 L1033.60,726.4 L1035.20,726.4 L1036.80,726.4 L1038.40,726.4 L1040.00,726.5 L1041.60,726.5 L1043.20,726.5 L1044.80,726.5 L1046.40,726.5 L1048.00,726.5 L1049.60,726.5 L1051.20,726.5 L1052.80,726.5 L1054.40,726.5 L1056.00,726.5 L1057.60,726.5 L1059.20,726.5 L1060.80,726.5 L1062.40,726.5 L1064.00,726.5 L1065.60,726.5 L1067.20,726.5 L1068.80,726.5 L1070.40,726.5 L1072.00,726.5 L1073.60,726.5 L1075.20,726.5 L1076.80,726.5 L1078.40,726.6 L1080.00,726.6 L1081.60,726.6 L1083.20,726.6 L1084.80,726.6 L1086.40,726.6 L1088.00,726.6 L1089.60,726.6 L1091.20,726.6 L1092.80,726.6 L1094.40,726.6 L1096.00,726.6 L1097.60,726.6 L1099.20,726.6 L1100.80,726.6 L1102.40,726.6 L1104.00,726.7 L1105.60,726.7 L1107.20,726.8 L1108.80,726.9 L1110.40,727 L1112.00,727.1 L1113.60,727.2 L1115.20,727.3 L1116.80,727.4 L1118.40,727.5 L1120.00,727.6 L1121.60,727.7 L1123.20,727.8 L1124.80,727.9 L1126.40,728 L1128.00,728.1 L1129.60,728.1 L1131.20,728.2 L1132.80,728.3 L1134.40,728.4 L1136.00,728.5 L1137.60,728.5 L1139.20,728.6 L1140.80,728.7 L1142.40,728.8 L1144.00,728.9 L1145.60,728.9 L1147.20,729 L1148.80,729.1 L1150.40,729.2 L1152.00,729.2 L1153.60,729.3 L1155.20,729.4 L1156.80,729.5 L1158.40,729.5 L1160.00,729.6 L1161.60,729.7 L1163.20,729.8 L1164.80,729.8 L1166.40,729.9 L1168.00,730 L1169.60,730 L1171.20,730.1 L1172.80,730.2 L1174.40,730.3 L1176.00,730.3 L1177.60,730.4 L1179.20,730.5 L1180.80,730.6 L1182.40,730.6 L1184.00,730.7 L1185.60,730.8 L1187.20,730.9 L1188.80,731 L1190.40,731.1 L1192.00,731.2 L1193.60,731.2 L1195.20,731.3 L1196.80,731.4 L1198.40,731.5 L1200.00,731.6 L1201.60,731.7 L1203.20,731.8 L1204.80,731.8 L1206.40,731.9 L1208.00,732 L1209.60,732 L1211.20,732.1 L1212.80,732.2 L1214.40,732.2 L1216.00,732.3 L1217.60,732.4 L1219.20,732.4 L1220.80,732.5 L1222.40,732.5 L1224.00,732.6 L1225.60,732.7 L1227.20,732.7 L1228.80,732.8 L1230.40,732.9 L1232.00,732.9 L1233.60,733 L1235.20,733.1 L1236.80,733.1 L1238.40,733.2" stroke="#00af66"/>
<path d="M200.00,151.5 L201.60,153.9 L203.20,156.3 L204.80,158.6 L206.40,161 L208.00,163.4 L209.60,165.4 L211.20,167.5 L212.80,169.6 L214.40,171.7 L216.00,173.8 L217.60,175.9 L219.20,178 L220.80,180.1 L222.40,182.2 L224.00,184.3 L225.60,186.4 L227.20,188.5 L228.80,192.4 L230.40,196.4 L232.00,200.4 L233.60,204.3 L235.20,208.7 L236.80,214.4 L238.40,219.6 L240.00,224.2 L241.60,228.9 L243.20,233.7 L244.80,238.8 L246.40,245 L248.00,252.3 L249.60,259.9 L251.20,267 L252.80,273.5 L254.40,279.6 L256.00,285.7 L257.60,292.2 L259.20,299.5 L260.80,307.1 L262.40,314.7 L264.00,321.4 L265.60,327.3 L267.20,332.7 L268.80,338.2 L270.40,343.6 L272.00,349.1 L273.60,354.6 L275.20,360.3 L276.80,366.1 L278.40,371.9 L280.00,377.7 L281.60,383.7 L283.20,389.7 L284.80,395.9 L286.40,402.6 L288.00,409.8 L289.60,417.2 L291.20,424.3 L292.80,430.8 L294.40,436.7 L296.00,442.5 L297.60,448.2 L299.20,453.9 L300.80,459.4 L302.40,464.8 L304.00,470.2 L305.60,475.6 L307.20,481 L308.80,486.5 L310.40,492.2 L312.00,498.3 L313.60,504.6 L315.20,510.9 L316.80,517.2 L318.40,523.2 L320.00,528.3 L321.60,532.2 L323.20,535.5 L324.80,538.7 L326.40,541.9 L328.00,545.1 L329.60,548.8 L331.20,553.4 L332.80,558.8 L334.40,564.4 L336.00,569.9 L337.60,574.8 L339.20,579 L340.80,582.9 L342.40,586.7 L344.00,590.6 L345.60,594.4 L347.20,598.2 L348.80,602.1 L350.40,605.9 L352.00,609.8 L353.60,613.9 L355.20,618.2 L356.80,622.6 L358.40,627.1 L360.00,631.6 L361.60,636.1 L363.20,640.6 L364.80,645 L366.40,649.4 L368.00,653.1 L369.60,655.8 L371.20,658 L372.80,660.1 L374.40,662.2 L376.00,664.3 L377.60,666.4 L379.20,668.5 L380.80,670.6 L382.40,672.7 L384.00,674.8 L385.60,676.9 L387.20,679 L388.80,681 L390.40,683 L392.00,684.7 L393.60,686.2 L395.20,687.6 L396.80,688.9 L398.40,690.3 L400.00,691.7 L401.60,693.1 L403.20,694.5 L404.80,695.6 L406.40,696.2 L408.00,696.4 L409.60,696.5 L411.20,696.5 L412.80,696.5 L414.40,696.4 L416.00,696.1 L417.60,695.2 L419.20,694.1 L420.80,692.9 L422.40,691.7 L424.00,690.5 L425.60,689.3 L427.20,688.1 L428.80,686.9 L430.40,685.7 L432.00,684.3 L433.60,682.7 L435.20,680.9 L436.80,679 L438.40,677.1 L440.00,675.1 L441.60,673.2 L443.20,671.3 L444.80,669.1 L446.40,666.3 L448.00,662.8 L449.60,658.9 L451.20,654.9 L452.80,650.9 L454.40,646.9 L456.00,642.7 L457.60,638.5 L459.20,634.4 L460.80,630.4 L462.40,627.1 L464.00,624.1 L465.60,621.3 L467.20,618.5 L468.80,615.8 L470.40,613.1 L472.00,610.6 L473.60,608.2 L475.20,605.8 L476.80,603.4 L478.40,601 L480.00,598.6 L481.60,596.1 L483.20,593.5 L484.80,590.9 L486.40,588.3 L488.00,585.6 L489.60,583.1 L491.20,580.5 L492.80,578 L494.40,575.5 L496.00,573 L497.60,570.5 L499.20,568 L500.80,565.5 L502.40,563 L504.00,560.5 L505.60,558.1 L507.20,555.6 L508.80,553.1 L510.40,550.6 L512.00,548.3 L513.60,545.9 L515.20,543.6 L516.80,541.2 L518.40,538.9 L520.00,536.8 L521.60,534.8 L523.20,533 L524.80,531.1 L526.40,529.3 L528.00,527.5 L529.60,525.8 L531.20,524.4 L532.80,523 L534.40,521.7 L536.00,520.4 L537.60,519 L539.20,517.7 L540.80,516.5 L542.40,515.2 L544.00,514 L545.60,512.7 L547.20,511.5 L548.80,510.3 L550.40,509.4 L552.00,508.5 L553.60,507.7 L555.20,506.8 L556.80,506 L558.40,505.4 L560.00,504.9 L561.60,504.6 L563.20,504.2 L564.80,503.9 L566.40,503.5 L568.00,503.2 L569.60,502.9 L571.20,502.7 L572.80,502.8 L574.40,503.1 L576.00,503.5 L577.60,503.9 L579.20,504.3 L580.80,504.7 L582.40,505.1 L584.00,505.5 L585.60,506 L587.20,506.5 L588.80,507.2 L590.40,508 L592.00,509.1 L593.60,510.4 L595.20,511.7 L596.80,512.9 L598.40,514.2 L600.00,515.6 L601.60,517.1 L603.20,518.7 L604.80,520.2 L606.40,521.8 L608.00,523.4 L609.60,525 L611.20,526.8 L612.80,528.6 L614.40,530.5 L616.00,532.3 L617.60,534.1 L619.20,536 L620.80,537.8 L622.40,539.6 L624.00,541.4 L625.60,543.3 L627.20,545.1 L628.80,547 L630.40,549 L632.00,551.2 L633.60,553.3 L635.20,555.5 L636.80,557.6 L638.40,559.8 L640.00,562.1 L641.60,564.4 L643.20,566.7 L644.80,569 L646.40,571.4 L648.00,573.7 L649.60,576.1 L651.20,578.6 L652.80,581.1 L654.40,583.6 L656.00,586.1 L657.60,588.7 L659.20,591.2 L660.80,593.6 L662.40,596.1 L664.00,598.6 L665.60,601.1 L667.20,603.6 L668.80,606 L670.40,608.5 L672.00,611 L673.60,613.5 L675.20,616 L676.80,618.5 L678.40,621.1 L680.00,623.8 L681.60,626.5 L683.20,629.3 L684.80,632 L686.40,634.6 L688.00,637 L689.60,639.2 L691.20,641.4 L692.80,643.6 L694.40,645.8 L696.00,647.9 L697.60,650.1 L699.20,652.2 L700.80,654.4 L702.40,656.6 L704.00,658.7 L705.60,660.9 L707.20,663.1 L708.80,665.2 L710.40,667.4 L712.00,669.6 L713.60,671.7 L715.20,673.9 L716.80,675.9 L718.40,677.9 L720.00,679.9 L721.60,681.9 L723.20,683.8 L724.80,685.8 L726.40,687.7 L728.00,689.5 L729.60,691.3 L731.20,693.1 L732.80,695 L734.40,696.8 L736.00,698.5 L737.60,700.2 L739.20,701.8 L740.80,703.5 L742.40,705.2 L744.00,706.8 L745.60,708.3 L747.20,709.7 L748.80,711.1 L750.40,712.4 L752.00,713.7 L753.60,715 L755.20,716.3 L756.80,717.4 L758.40,718.4 L760.00,719.4 L761.60,720.4 L763.20,721.4 L764.80,722.3 L766.40,723.2 L768.00,724.1 L769.60,724.9 L771.20,725.8 L772.80,726.6 L774.40,727.4 L776.00,728.2 L777.60,729 L779.20,729.7 L780.80,730.5 L782.40,731.2 L784.00,732 L785.60,732.6 L787.20,733.2 L788.80,733.7 L790.40,734.2 L792.00,734.7 L793.60,735.2 L795.20,735.7 L796.80,736.1 L798.40,736.5 L800.00,736.8 L801.60,737.2 L803.20,737.5 L804.80,737.8 L806.40,738.1 L808.00,738.4 L809.60,738.6 L811.20,738.8 L812.80,739 L814.40,739.2 L816.00,739.4 L817.60,739.6 L819.20,739.8 L820.80,740 L822.40,740.2 L824.00,740.4 L825.60,740.6 L827.20,740.8 L828.80,740.9 L830.40,741.1 L832.00,741.3 L833.60,741.4 L835.20,741.5 L836.80,741.6 L838.40,741.7 L840.00,741.8 L841.60,741.9 L843.20,742 L844.80,742.1 L846.40,742.2 L848.00,742.2 L849.60,742.3 L851.20,742.3 L852.80,742.3 L854.40,742.3 L856.00,742.3 L857.60,742.3 L859.20,742.3 L860.80,742.3 L862.40,742.3 L864.00,742.3 L865.60,742.3 L867.20,742.3 L868.80,742.3 L870.40,742.3 L872.00,742.3 L873.60,742.3 L875.20,742.2 L876.80,742.2 L878.40,742.2 L880.00,742.1 L881.60,741.9 L883.20,741.8 L884.80,741.6 L886.40,741.4 L888.00,741.3 L889.60,741.1 L891.20,740.9 L892.80,740.8 L894.40,740.6 L896.00,740.3 L897.60,740.1 L899.20,739.9 L900.80,739.6 L902.40,739.4 L904.00,739.1 L905.60,738.9 L907.20,738.6 L908.80,738.4 L910.40,738.1 L912.00,737.9 L913.60,737.6 L915.20,737.4 L916.80,737.1 L918.40,736.9 L920.00,736.6 L921.60,736.4 L923.20,736.1 L924.80,735.9 L926.40,735.6 L928.00,735.3 L929.60,735.1 L931.20,734.8 L932.80,734.6 L934.40,734.3 L936.00,734 L937.60,733.8 L939.20,733.5 L940.80,733.2 L942.40,733 L944.00,732.7 L945.60,732.4 L947.20,732.2 L948.80,731.9 L950.40,731.7 L952.00,731.4 L953.60,731.1 L955.20,730.8 L956.80,730.6 L958.40,730.3 L960.00,730.1 L961.60,729.9 L963.20,729.7 L964.80,729.6 L966.40,729.5 L968.00,729.4 L969.60,729.3 L971.20,729.2 L972.80,729.1 L974.40,729 L976.00,728.9 L977.60,728.8 L979.20,728.7 L980.80,728.6 L982.40,728.5 L984.00,728.4 L985.60,728.3 L987.20,728.2 L988.80,728.1 L990.40,728 L992.00,727.9 L993.60,727.7 L995.20,727.6 L996.80,727.5 L998.40,727.4 L1000.00,727.3 L1001.60,727.3 L1003.20,727.3 L1004.80,727.3 L1006.40,727.3 L1008.00,727.3 L1009.60,727.3 L1011.20,727.3 L1012.80,727.3 L1014.40,727.3 L1016.00,727.3 L1017.60,727.3 L1019.20,727.3 L1020.80,727.3 L1022.40,727.3 L1024.00,727.3 L1025.60,727.3 L1027.20,727.3 L1028.80,727.3 L1030.40,727.3 L1032.00,727.3 L1033.60,727.3 L1035.20,727.3 L1036.80,727.3 L1038.40,727.3 L1040.00,727.3 L1041.60,727.3 L1043.20,727.3 L1044.80,727.3 L1046.40,727.3 L1048.00,727.3 L1049.60,727.3 L1051.20,727.3 L1052.80,727.3 L1054.40,727.3 L1056.00,727.3 L1057.60,727.3 L1059.20,727.3 L1060.80,727.4 L1062.40,727.4 L1064.00,727.4 L1065.60,727.4 L1067.20,727.4 L1068.80,727.4 L1070.40,727.4 L1072.00,727.4 L1073.60,727.4 L1075.20,727.4 L1076.80,727.4 L1078.40,727.4 L1080.00,727.4 L1081.60,727.4 L1083.20,727.4 L1084.80,727.4 L1086.40,727.4 L1088.00,727.4 L1089.60,727.4 L1091.20,727.4 L1092.80,727.4 L1094.40,727.4 L1096.00,727.4 L1097.60,727.4 L1099.20,727.4 L1100.80,727.5 L1102.40,727.5 L1104.00,727.5 L1105.60,727.6 L1107.20,727.6 L1108.80,727.7 L1110.40,727.8 L1112.00,727.9 L1113.60,728 L1115.20,728.1 L1116.80,728.2 L1118.40,728.3 L1120.00,728.4 L1121.60,728.5 L1123.20,728.6 L1124.80,728.7 L1126.40,728.7 L1128.00,728.8 L1129.60,728.9 L1131.20,729 L1132.80,729.1 L1134.40,729.1 L1136.00,729.2 L1137.60,729.3 L1139.20,729.4 L1140.80,729.4 L1142.40,729.5 L1144.00,729.6 L1145.60,729.7 L1147.20,729.7 L1148.80,729.8 L1150.40,729.9 L1152.00,730 L1153.60,730 L1155.20,730.1 L1156.80,730.2 L1158.40,730.2 L1160.00,730.3 L1161.60,730.4 L1163.20,730.4 L1164.80,730.5 L1166.40,730.6 L1168.00,730.6 L1169.60,730.7 L1171.20,730.8 L1172.80,730.8 L1174.40,730.9 L1176.00,731 L1177.60,731.1 L1179.20,731.1 L1180.80,731.2 L1182.40,731.3 L1184.00,731.4 L1185.60,731.4 L1187.20,731.5 L1188.80,731.6 L1190.40,731.7 L1192.00,731.8 L1193.60,731.8 L1195.20,731.9 L1196.80,732 L1198.40,732.1 L1200.00,732.2 L1201.60,732.2 L1203.20,732.3 L1204.80,732.4 L1206.40,732.5 L1208.00,732.5 L1209.60,732.6 L1211.20,732.7 L1212.80,732.7 L1214.40,732.8 L1216.00,732.8 L1217.60,732.9 L1219.20,733 L1220.80,733 L1222.40,733.1 L1224.00,733.1 L1225.60,733.2 L1227.20,733.3 L1228.80,733.3 L1230.40,733.4 L1232.00,733.4 L1233.60,733.5 L1235.20,733.6 L1236.80,733.6 L1238.40,733.7" stroke="#c279e3"/>
<path d="M200.00,206.2 L201.60,208.3 L203.20,210.5 L204.80,212.6 L206.40,214.7 L208.00,216.9 L209.60,218.8 L211.20,220.6 L212.80,222.5 L214.40,224.4 L216.00,226.2 L217.60,228.1 L219.20,230 L220.80,231.9 L222.40,233.8 L224.00,235.7 L225.60,237.5 L227.20,239.4 L228.80,243 L230.40,246.6 L232.00,250.1 L233.60,253.6 L235.20,257.6 L236.80,262.8 L238.40,267.5 L240.00,271.7 L241.60,275.9 L243.20,280.2 L244.80,284.9 L246.40,290.6 L248.00,297.2 L249.60,304 L251.20,310.5 L252.80,316.4 L254.40,322 L256.00,327.5 L257.60,333.5 L259.20,340 L260.80,347 L262.40,353.8 L264.00,360 L265.60,365.3 L267.20,370.3 L268.80,375.2 L270.40,380.1 L272.00,385.1 L273.60,390.1 L275.20,395.3 L276.80,400.5 L278.40,405.8 L280.00,411.1 L281.60,416.5 L283.20,422 L284.80,427.7 L286.40,433.7 L288.00,440.3 L289.60,447 L291.20,453.5 L292.80,459.3 L294.40,464.7 L296.00,470 L297.60,475.2 L299.20,480.4 L300.80,485.4 L302.40,490.3 L304.00,495.2 L305.60,500.1 L307.20,505 L308.80,510 L310.40,515.2 L312.00,520.7 L313.60,526.4 L315.20,532.1 L316.80,537.8 L318.40,543.3 L320.00,548 L321.60,551.5 L323.20,554.5 L324.80,557.4 L326.40,560.2 L328.00,563.2 L329.60,566.5 L331.20,570.7 L332.80,575.7 L334.40,580.8 L336.00,585.7 L337.60,590.2 L339.20,594 L340.80,597.5 L342.40,601 L344.00,604.5 L345.60,608 L347.20,611.5 L348.80,615 L350.40,618.5 L352.00,622 L353.60,625.7 L355.20,629.6 L356.80,633.6 L358.40,637.7 L360.00,641.8 L361.60,645.9 L363.20,649.9 L364.80,654 L366.40,657.9 L368.00,661.3 L369.60,663.8 L371.20,665.8 L372.80,667.7 L374.40,669.6 L376.00,671.5 L377.60,673.4 L379.20,675.3 L380.80,677.2 L382.40,679.1 L384.00,681 L385.60,682.9 L387.20,684.8 L388.80,686.7 L390.40,688.5 L392.00,690 L393.60,691.4 L395.20,692.6 L396.80,693.9 L398.40,695.1 L400.00,696.4 L401.60,697.7 L403.20,698.9 L404.80,699.9 L406.40,700.5 L408.00,700.7 L409.60,700.7 L411.20,700.7 L412.80,700.7 L414.40,700.7 L416.00,700.4 L417.60,699.6 L419.20,698.6 L420.80,697.5 L422.40,696.4 L424.00,695.3 L425.60,694.2 L427.20,693.1 L428.80,692 L430.40,690.9 L432.00,689.7 L433.60,688.2 L435.20,686.6 L436.80,684.8 L438.40,683.1 L440.00,681.3 L441.60,679.6 L443.20,677.9 L444.80,675.9 L446.40,673.3 L448.00,670.1 L449.60,666.6 L451.20,663 L452.80,659.4 L454.40,655.7 L456.00,651.9 L457.60,648.1 L459.20,644.3 L460.80,640.7 L462.40,637.7 L464.00,635 L465.60,632.5 L467.20,629.9 L468.80,627.4 L470.40,625 L472.00,622.7 L473.60,620.5 L475.20,618.4 L476.80,616.2 L478.40,614 L480.00,611.8 L481.60,609.5 L483.20,607.1 L484.80,604.8 L486.40,602.4 L488.00,600 L489.60,597.7 L491.20,595.4 L492.80,593.1 L494.40,590.8 L496.00,588.6 L497.60,586.3 L499.20,584 L500.80,581.8 L502.40,579.5 L504.00,577.2 L505.60,575 L507.20,572.7 L508.80,570.4 L510.40,568.2 L512.00,566.1 L513.60,563.9 L515.20,561.8 L516.80,559.7 L518.40,557.6 L520.00,555.6 L521.60,553.8 L523.20,552.2 L524.80,550.5 L526.40,548.9 L528.00,547.2 L529.60,545.7 L531.20,544.4 L532.80,543.1 L534.40,541.9 L536.00,540.7 L537.60,539.5 L539.20,538.3 L540.80,537.2 L542.40,536 L544.00,534.9 L545.60,533.8 L547.20,532.7 L548.80,531.6 L550.40,530.7 L552.00,529.9 L553.60,529.2 L555.20,528.4 L556.80,527.7 L558.40,527.1 L560.00,526.7 L561.60,526.4 L563.20,526.1 L564.80,525.8 L566.40,525.4 L568.00,525.1 L569.60,524.8 L571.20,524.7 L572.80,524.8 L574.40,525.1 L576.00,525.4 L577.60,525.8 L579.20,526.1 L580.80,526.5 L582.40,526.9 L584.00,527.3 L585.60,527.7 L587.20,528.2 L588.80,528.8 L590.40,529.5 L592.00,530.5 L593.60,531.7 L595.20,532.8 L596.80,534 L598.40,535.1 L600.00,536.4 L601.60,537.8 L603.20,539.2 L604.80,540.6 L606.40,542 L608.00,543.5 L609.60,545 L611.20,546.6 L612.80,548.2 L614.40,549.9 L616.00,551.6 L617.60,553.2 L619.20,554.9 L620.80,556.6 L622.40,558.2 L624.00,559.9 L625.60,561.5 L627.20,563.2 L628.80,564.9 L630.40,566.8 L632.00,568.7 L633.60,570.7 L635.20,572.6 L636.80,574.6 L638.40,576.6 L640.00,578.6 L641.60,580.7 L643.20,582.8 L644.80,584.9 L646.40,587.1 L648.00,589.2 L649.60,591.4 L651.20,593.6 L652.80,595.9 L654.40,598.2 L656.00,600.5 L657.60,602.8 L659.20,605 L660.80,607.3 L662.40,609.6 L664.00,611.8 L665.60,614.1 L667.20,616.3 L668.80,618.6 L670.40,620.8 L672.00,623.1 L673.60,625.4 L675.20,627.6 L676.80,629.9 L678.40,632.2 L680.00,634.7 L681.60,637.2 L683.20,639.7 L684.80,642.1 L686.40,644.5 L688.00,646.7 L689.60,648.7 L691.20,650.7 L692.80,652.7 L694.40,654.7 L696.00,656.6 L697.60,658.6 L699.20,660.5 L700.80,662.5 L702.40,664.5 L704.00,666.4 L705.60,668.4 L707.20,670.4 L708.80,672.3 L710.40,674.3 L712.00,676.3 L713.60,678.3 L715.20,680.2 L716.80,682 L718.40,683.8 L720.00,685.6 L721.60,687.4 L723.20,689.2 L724.80,691 L726.40,692.7 L728.00,694.4 L729.60,696 L731.20,697.7 L732.80,699.3 L734.40,701 L736.00,702.6 L737.60,704.1 L739.20,705.6 L740.80,707.1 L742.40,708.6 L744.00,710.1 L745.60,711.5 L747.20,712.8 L748.80,714 L750.40,715.2 L752.00,716.4 L753.60,717.6 L755.20,718.7 L756.80,719.7 L758.40,720.6 L760.00,721.5 L761.60,722.5 L763.20,723.4 L764.80,724.2 L766.40,725.1 L768.00,725.8 L769.60,726.6 L771.20,727.3 L772.80,728.1 L774.40,728.8 L776.00,729.6 L777.60,730.3 L779.20,730.9 L780.80,731.6 L782.40,732.3 L784.00,733 L785.60,733.6 L787.20,734.1 L788.80,734.6 L790.40,735 L792.00,735.5 L793.60,736 L795.20,736.4 L796.80,736.8 L798.40,737.1 L800.00,737.4 L801.60,737.7 L803.20,738 L804.80,738.3 L806.40,738.6 L808.00,738.8 L809.60,739 L811.20,739.2 L812.80,739.4 L814.40,739.6 L816.00,739.8 L817.60,739.9 L819.20,740.1 L820.80,740.3 L822.40,740.5 L824.00,740.6 L825.60,740.8 L827.20,741 L828.80,741.1 L830.40,741.3 L832.00,741.4 L833.60,741.5 L835.20,741.6 L836.80,741.7 L838.40,741.8 L840.00,741.9 L841.60,742 L843.20,742.1 L844.80,742.2 L846.40,742.3 L848.00,742.3 L849.60,742.3 L851.20,742.3 L852.80,742.3 L854.40,742.3 L856.00,742.3 L857.60,742.3 L859.20,742.3 L860.80,742.3 L862.40,742.3 L864.00,742.3 L865.60,742.3 L867.20,742.3 L868.80,742.3 L870.40,742.3 L872.00,742.3 L873.60,742.3 L875.20,742.3 L876.80,742.3 L878.40,742.3 L880.00,742.2 L881.60,742 L883.20,741.9 L884.80,741.7 L886.40,741.6 L888.00,741.4 L889.60,741.3 L891.20,741.1 L892.80,741 L894.40,740.8 L896.00,740.6 L897.60,740.4 L899.20,740.1 L900.80,739.9 L902.40,739.7 L904.00,739.5 L905.60,739.2 L907.20,739 L908.80,738.8 L910.40,738.6 L912.00,738.3 L913.60,738.1 L915.20,737.9 L916.80,737.7 L918.40,737.4 L920.00,737.2 L921.60,737 L923.20,736.8 L924.80,736.5 L926.40,736.3 L928.00,736 L929.60,735.8 L931.20,735.6 L932.80,735.3 L934.40,735.1 L936.00,734.8 L937.60,734.6 L939.20,734.4 L940.80,734.1 L942.40,733.9 L944.00,733.7 L945.60,733.4 L947.20,733.2 L948.80,732.9 L950.40,732.7 L952.00,732.4 L953.60,732.2 L955.20,732 L956.80,731.7 L958.40,731.5 L960.00,731.2 L961.60,731.1 L963.20,730.9 L964.80,730.8 L966.40,730.8 L968.00,730.7 L969.60,730.6 L971.20,730.5 L972.80,730.4 L974.40,730.3 L976.00,730.2 L977.60,730.1 L979.20,730 L980.80,730 L982.40,729.9 L984.00,729.8 L985.60,729.7 L987.20,729.6 L988.80,729.5 L990.40,729.4 L992.00,729.2 L993.60,729.1 L995.20,729 L996.80,728.9 L998.40,728.8 L1000.00,728.8 L1001.60,728.7 L1003.20,728.7 L1004.80,728.7 L1006.40,728.7 L1008.00,728.7 L1009.60,728.7 L1011.20,728.7 L1012.80,728.7 L1014.40,728.7 L1016.00,728.7 L1017.60,728.7 L1019.20,728.7 L1020.80,728.7 L1022.40,728.7 L1024.00,728.7 L1025.60,728.7 L1027.20,728.7 L1028.80,728.7 L1030.40,728.7 L1032.00,728.7 L1033.60,728.7 L1035.20,728.7 L1036.80,728.7 L1038.40,728.7 L1040.00,728.7 L1041.60,728.7 L1043.20,728.7 L1044.80,728.7 L1046.40,728.8 L1048.00,728.8 L1049.60,728.8 L1051.20,728.8 L1052.80,728.8 L1054.40,728.8 L1056.00,728.8 L1057.60,728.8 L1059.20,728.8 L1060.80,728.8 L1062.40,728.8 L1064.00,728.8 L1065.60,728.8 L1067.20,728.8 L1068.80,728.8 L1070.40,728.8 L1072.00,728.8 L1073.60,728.8 L1075.20,728.8 L1076.80,728.8 L1078.40,728.8 L1080.00,728.8 L1081.60,728.8 L1083.20,728.8 L1084.80,728.8 L1086.40,728.8 L1088.00,728.8 L1089.60,728.8 L1091.20,728.9 L1092.80,728.9 L1094.40,728.9 L1096.00,728.9 L1097.60,728.9 L1099.20,728.9 L1100.80,728.9 L1102.40,728.9 L1104.00,728.9 L1105.60,729 L1107.20,729.1 L1108.80,729.1 L1110.40,729.2 L1112.00,729.3 L1113.60,729.4 L1115.20,729.5 L1116.80,729.6 L1118.40,729.6 L1120.00,729.7 L1121.60,729.8 L1123.20,729.9 L1124.80,730 L1126.40,730.1 L1128.00,730.1 L1129.60,730.2 L1131.20,730.3 L1132.80,730.3 L1134.40,730.4 L1136.00,730.5 L1137.60,730.5 L1139.20,730.6 L1140.80,730.7 L1142.40,730.7 L1144.00,730.8 L1145.60,730.9 L1147.20,730.9 L1148.80,731 L1150.40,731.1 L1152.00,731.1 L1153.60,731.2 L1155.20,731.3 L1156.80,731.3 L1158.40,731.4 L1160.00,731.5 L1161.60,731.5 L1163.20,731.6 L1164.80,731.6 L1166.40,731.7 L1168.00,731.8 L1169.60,731.8 L1171.20,731.9 L1172.80,732 L1174.40,732 L1176.00,732.1 L1177.60,732.1 L1179.20,732.2 L1180.80,732.3 L1182.40,732.4 L1184.00,732.4 L1185.60,732.5 L1187.20,732.6 L1188.80,732.6 L1190.40,732.7 L1192.00,732.8 L1193.60,732.9 L1195.20,732.9 L1196.80,733 L1198.40,733.1 L1200.00,733.2 L1201.60,733.2 L1203.20,733.3 L1204.80,733.4 L1206.40,733.4 L1208.00,733.5 L1209.60,733.6 L1211.20,733.6 L1212.80,733.7 L1214.40,733.7 L1216.00,733.8 L1217.60,733.8 L1219.20,733.9 L1220.80,733.9 L1222.40,734 L1224.00,734 L1225.60,734.1 L1227.20,734.2 L1228.80,734.2 L1230.40,734.3 L1232.00,734.3 L1233.60,734.4 L1235.20,734.4 L1236.80,734.5 L1238.40,734.5" stroke="#dc9c00"/>
<path d="M200.00,252.9 L201.60,254.8 L203.20,256.8 L204.80,258.8 L206.40,260.7 L208.00,262.7 L209.60,264.3 L211.20,266 L212.80,267.7 L214.40,269.4 L216.00,271.1 L217.60,272.8 L219.20,274.5 L220.80,276.2 L222.40,277.9 L224.00,279.6 L225.60,281.3 L227.20,283 L228.80,286.2 L230.40,289.4 L232.00,292.7 L233.60,295.8 L235.20,299.5 L236.80,304.2 L238.40,308.4 L240.00,312.3 L241.60,316.2 L243.20,320.1 L244.80,324.3 L246.40,329.5 L248.00,335.6 L249.60,341.8 L251.20,347.8 L252.80,353.1 L254.40,358.2 L256.00,363.3 L257.60,368.7 L259.20,374.7 L260.80,381.1 L262.40,387.3 L264.00,392.9 L265.60,397.8 L267.20,402.3 L268.80,406.9 L270.40,411.4 L272.00,415.9 L273.60,420.5 L275.20,425.2 L276.80,430 L278.40,434.8 L280.00,439.7 L281.60,444.6 L283.20,449.7 L284.80,454.8 L286.40,460.3 L288.00,466.3 L289.60,472.5 L291.20,478.4 L292.80,483.7 L294.40,488.7 L296.00,493.5 L297.60,498.3 L299.20,503 L300.80,507.5 L302.40,512 L304.00,516.5 L305.60,521 L307.20,525.5 L308.80,530 L310.40,534.8 L312.00,539.8 L313.60,545 L315.20,550.3 L316.80,555.5 L318.40,560.5 L320.00,564.8 L321.60,568 L323.20,570.7 L324.80,573.3 L326.40,576 L328.00,578.7 L329.60,581.7 L331.20,585.6 L332.80,590.1 L334.40,594.7 L336.00,599.3 L337.60,603.3 L339.20,606.8 L340.80,610 L342.40,613.2 L344.00,616.4 L345.60,619.6 L347.20,622.8 L348.80,626 L350.40,629.2 L352.00,632.4 L353.60,635.8 L355.20,639.3 L356.80,643 L358.40,646.8 L360.00,650.5 L361.60,654.2 L363.20,657.9 L364.80,661.7 L366.40,665.3 L368.00,668.3 L369.60,670.6 L371.20,672.5 L372.80,674.2 L374.40,675.9 L376.00,677.7 L377.60,679.4 L379.20,681.1 L380.80,682.9 L382.40,684.6 L384.00,686.3 L385.60,688.1 L387.20,689.8 L388.80,691.5 L390.40,693.2 L392.00,694.6 L393.60,695.8 L395.20,697 L396.80,698.1 L398.40,699.3 L400.00,700.4 L401.60,701.6 L403.20,702.7 L404.80,703.6 L406.40,704.2 L408.00,704.3 L409.60,704.4 L411.20,704.4 L412.80,704.4 L414.40,704.3 L416.00,704 L417.60,703.3 L419.20,702.4 L420.80,701.4 L422.40,700.4 L424.00,699.4 L425.60,698.4 L427.20,697.4 L428.80,696.4 L430.40,695.4 L432.00,694.3 L433.60,692.9 L435.20,691.4 L436.80,689.8 L438.40,688.2 L440.00,686.7 L441.60,685.1 L443.20,683.5 L444.80,681.7 L446.40,679.3 L448.00,676.4 L449.60,673.1 L451.20,669.9 L452.80,666.6 L454.40,663.2 L456.00,659.7 L457.60,656.3 L459.20,652.8 L460.80,649.5 L462.40,646.7 L464.00,644.3 L465.60,642 L467.20,639.7 L468.80,637.4 L470.40,635.1 L472.00,633.1 L473.60,631.1 L475.20,629.1 L476.80,627.1 L478.40,625.1 L480.00,623.1 L481.60,621 L483.20,618.8 L484.80,616.7 L486.40,614.5 L488.00,612.3 L489.60,610.2 L491.20,608.1 L492.80,606 L494.40,603.9 L496.00,601.9 L497.60,599.8 L499.20,597.7 L500.80,595.6 L502.40,593.6 L504.00,591.5 L505.60,589.4 L507.20,587.4 L508.80,585.3 L510.40,583.3 L512.00,581.3 L513.60,579.4 L515.20,577.4 L516.80,575.5 L518.40,573.6 L520.00,571.8 L521.60,570.1 L523.20,568.6 L524.80,567.1 L526.40,565.6 L528.00,564.1 L529.60,562.7 L531.20,561.5 L532.80,560.3 L534.40,559.2 L536.00,558.1 L537.60,557 L539.20,556 L540.80,554.9 L542.40,553.9 L544.00,552.8 L545.60,551.8 L547.20,550.8 L548.80,549.8 L550.40,549 L552.00,548.3 L553.60,547.6 L555.20,546.9 L556.80,546.2 L558.40,545.7 L560.00,545.3 L561.60,545 L563.20,544.7 L564.80,544.5 L566.40,544.2 L568.00,543.9 L569.60,543.6 L571.20,543.5 L572.80,543.5 L574.40,543.8 L576.00,544.1 L577.60,544.5 L579.20,544.8 L580.80,545.2 L582.40,545.5 L584.00,545.8 L585.60,546.2 L587.20,546.7 L588.80,547.2 L590.40,547.9 L592.00,548.8 L593.60,549.9 L595.20,550.9 L596.80,552 L598.40,553 L600.00,554.2 L601.60,555.4 L603.20,556.7 L604.80,558 L606.40,559.3 L608.00,560.6 L609.60,562 L611.20,563.5 L612.80,565 L614.40,566.5 L616.00,568 L617.60,569.6 L619.20,571.1 L620.80,572.6 L622.40,574.1 L624.00,575.6 L625.60,577.1 L627.20,578.7 L628.80,580.3 L630.40,581.9 L632.00,583.7 L633.60,585.5 L635.20,587.3 L636.80,589.1 L638.40,590.9 L640.00,592.8 L641.60,594.7 L643.20,596.6 L644.80,598.5 L646.40,600.5 L648.00,602.4 L649.60,604.4 L651.20,606.5 L652.80,608.6 L654.40,610.7 L656.00,612.8 L657.60,614.8 L659.20,616.9 L660.80,619 L662.40,621 L664.00,623.1 L665.60,625.2 L667.20,627.2 L668.80,629.3 L670.40,631.3 L672.00,633.4 L673.60,635.5 L675.20,637.6 L676.80,639.6 L678.40,641.8 L680.00,644 L681.60,646.3 L683.20,648.6 L684.80,650.8 L686.40,653 L688.00,655 L689.60,656.9 L691.20,658.7 L692.80,660.5 L694.40,662.3 L696.00,664.1 L697.60,665.9 L699.20,667.6 L700.80,669.4 L702.40,671.2 L704.00,673 L705.60,674.8 L707.20,676.6 L708.80,678.4 L710.40,680.2 L712.00,682 L713.60,683.8 L715.20,685.6 L716.80,687.3 L718.40,688.9 L720.00,690.6 L721.60,692.2 L723.20,693.9 L724.80,695.5 L726.40,697 L728.00,698.6 L729.60,700.1 L731.20,701.6 L732.80,703.1 L734.40,704.6 L736.00,706 L737.60,707.4 L739.20,708.8 L740.80,710.2 L742.40,711.6 L744.00,712.9 L745.60,714.2 L747.20,715.4 L748.80,716.5 L750.40,717.6 L752.00,718.7 L753.60,719.8 L755.20,720.8 L756.80,721.7 L758.40,722.6 L760.00,723.4 L761.60,724.2 L763.20,725 L764.80,725.8 L766.40,726.6 L768.00,727.3 L769.60,728 L771.20,728.7 L772.80,729.4 L774.40,730.1 L776.00,730.7 L777.60,731.4 L779.20,732 L780.80,732.6 L782.40,733.2 L784.00,733.8 L785.60,734.4 L787.20,734.9 L788.80,735.3 L790.40,735.7 L792.00,736.1 L793.60,736.6 L795.20,737 L796.80,737.3 L798.40,737.6 L800.00,737.9 L801.60,738.2 L803.20,738.4 L804.80,738.7 L806.40,738.9 L808.00,739.2 L809.60,739.3 L811.20,739.5 L812.80,739.7 L814.40,739.9 L816.00,740 L817.60,740.2 L819.20,740.4 L820.80,740.5 L822.40,740.7 L824.00,740.8 L825.60,741 L827.20,741.1 L828.80,741.3 L830.40,741.4 L832.00,741.6 L833.60,741.7 L835.20,741.8 L836.80,741.8 L838.40,741.9 L840.00,742 L841.60,742.1 L843.20,742.2 L844.80,742.3 L846.40,742.3 L848.00,742.4 L849.60,742.4 L851.20,742.4 L852.80,742.4 L854.40,742.4 L856.00,742.4 L857.60,742.4 L859.20,742.4 L860.80,742.4 L862.40,742.4 L864.00,742.4 L865.60,742.4 L867.20,742.4 L868.80,742.4 L870.40,742.4 L872.00,742.4 L873.60,742.4 L875.20,742.4 L876.80,742.4 L878.40,742.3 L880.00,742.2 L881.60,742.1 L883.20,742 L884.80,741.8 L886.40,741.7 L888.00,741.6 L889.60,741.4 L891.20,741.3 L892.80,741.1 L894.40,741 L896.00,740.8 L897.60,740.6 L899.20,740.4 L900.80,740.2 L902.40,740 L904.00,739.8 L905.60,739.6 L907.20,739.4 L908.80,739.2 L910.40,738.9 L912.00,738.7 L913.60,738.5 L915.20,738.3 L916.80,738.1 L918.40,737.9 L920.00,737.7 L921.60,737.5 L923.20,737.3 L924.80,737.1 L926.40,736.9 L928.00,736.6 L929.60,736.4 L931.20,736.2 L932.80,736 L934.40,735.8 L936.00,735.6 L937.60,735.3 L939.20,735.1 L940.80,734.9 L942.40,734.7 L944.00,734.5 L945.60,734.2 L947.20,734 L948.80,733.8 L950.40,733.6 L952.00,733.4 L953.60,733.1 L955.20,732.9 L956.80,732.7 L958.40,732.5 L960.00,732.3 L961.60,732.1 L963.20,732 L964.80,731.9 L966.40,731.8 L968.00,731.7 L969.60,731.6 L971.20,731.6 L972.80,731.5 L974.40,731.4 L976.00,731.3 L977.60,731.2 L979.20,731.2 L980.80,731.1 L982.40,731 L984.00,730.9 L985.60,730.8 L987.20,730.7 L988.80,730.6 L990.40,730.5 L992.00,730.4 L993.60,730.3 L995.20,730.2 L996.80,730.1 L998.40,730 L1000.00,730 L1001.60,730 L1003.20,730 L1004.80,730 L1006.40,730 L1008.00,730 L1009.60,730 L1011.20,730 L1012.80,730 L1014.40,730 L1016.00,730 L1017.60,730 L1019.20,730 L1020.80,730 L1022.40,730 L1024.00,730 L1025.60,730 L1027.20,730 L1028.80,730 L1030.40,730 L1032.00,730 L1033.60,730 L1035.20,730 L1036.80,730 L1038.40,730 L1040.00,730 L1041.60,730 L1043.20,730 L1044.80,730 L1046.40,730 L1048.00,730 L1049.60,730 L1051.20,730 L1052.80,730 L1054.40,730 L1056.00,730 L1057.60,730 L1059.20,730 L1060.80,730 L1062.40,730 L1064.00,730 L1065.60,730 L1067.20,730 L1068.80,730 L1070.40,730 L1072.00,730 L1073.60,730 L1075.20,730 L1076.80,730 L1078.40,730 L1080.00,730 L1081.60,730.1 L1083.20,730.1 L1084.80,730.1 L1086.40,730.1 L1088.00,730.1 L1089.60,730.1 L1091.20,730.1 L1092.80,730.1 L1094.40,730.1 L1096.00,730.1 L1097.60,730.1 L1099.20,730.1 L1100.80,730.1 L1102.40,730.1 L1104.00,730.1 L1105.60,730.2 L1107.20,730.3 L1108.80,730.3 L1110.40,730.4 L1112.00,730.5 L1113.60,730.6 L1115.20,730.6 L1116.80,730.7 L1118.40,730.8 L1120.00,730.9 L1121.60,730.9 L1123.20,731 L1124.80,731.1 L1126.40,731.2 L1128.00,731.2 L1129.60,731.3 L1131.20,731.4 L1132.80,731.4 L1134.40,731.5 L1136.00,731.5 L1137.60,731.6 L1139.20,731.7 L1140.80,731.7 L1142.40,731.8 L1144.00,731.9 L1145.60,731.9 L1147.20,732 L1148.80,732 L1150.40,732.1 L1152.00,732.2 L1153.60,732.2 L1155.20,732.3 L1156.80,732.3 L1158.40,732.4 L1160.00,732.5 L1161.60,732.5 L1163.20,732.6 L1164.80,732.6 L1166.40,732.7 L1168.00,732.7 L1169.60,732.8 L1171.20,732.9 L1172.80,732.9 L1174.40,733 L1176.00,733 L1177.60,733.1 L1179.20,733.1 L1180.80,733.2 L1182.40,733.3 L1184.00,733.3 L1185.60,733.4 L1187.20,733.5 L1188.80,733.5 L1190.40,733.6 L1192.00,733.7 L1193.60,733.7 L1195.20,733.8 L1196.80,733.9 L1198.40,733.9 L1200.00,734 L1201.60,734.1 L1203.20,734.1 L1204.80,734.2 L1206.40,734.3 L1208.00,734.3 L1209.60,734.4 L1211.20,734.4 L1212.80,734.5 L1214.40,734.5 L1216.00,734.6 L1217.60,734.6 L1219.20,734.7 L1220.80,734.7 L1222.40,734.8 L1224.00,734.8 L1225.60,734.9 L1227.20,734.9 L1228.80,735 L1230.40,735 L1232.00,735.1 L1233.60,735.1 L1235.20,735.2 L1236.80,735.2 L1238.40,735.3" stroke="#00cccf"/>
<path d="M200.00,305.3 L201.60,307.1 L203.20,308.8 L204.80,310.6 L206.40,312.3 L208.00,314.1 L209.60,315.6 L211.20,317 L212.80,318.5 L214.40,320 L216.00,321.5 L217.60,322.9 L219.20,324.4 L220.80,325.9 L222.40,327.4 L224.00,328.9 L225.60,330.4 L227.20,331.9 L228.80,334.7 L230.40,337.6 L232.00,340.4 L233.60,343.3 L235.20,346.5 L236.80,350.7 L238.40,354.4 L240.00,357.8 L241.60,361.3 L243.20,364.8 L244.80,368.6 L246.40,373.3 L248.00,378.7 L249.60,384.3 L251.20,389.6 L252.80,394.4 L254.40,398.9 L256.00,403.5 L257.60,408.3 L259.20,413.7 L260.80,419.4 L262.40,425 L264.00,430 L265.60,434.3 L267.20,438.4 L268.80,442.4 L270.40,446.5 L272.00,450.5 L273.60,454.6 L275.20,458.8 L276.80,463.1 L278.40,467.4 L280.00,471.8 L281.60,476.2 L283.20,480.7 L284.80,485.3 L286.40,490.2 L288.00,495.6 L289.60,501.1 L291.20,506.4 L292.80,511.2 L294.40,515.6 L296.00,519.9 L297.60,524.2 L299.20,528.4 L300.80,532.4 L302.40,536.5 L304.00,540.5 L305.60,544.5 L307.20,548.5 L308.80,552.6 L310.40,556.8 L312.00,561.3 L313.60,566 L315.20,570.7 L316.80,575.3 L318.40,579.8 L320.00,583.6 L321.60,586.5 L323.20,588.9 L324.80,591.3 L326.40,593.7 L328.00,596.1 L329.60,598.8 L331.20,602.2 L332.80,606.2 L334.40,610.4 L336.00,614.5 L337.60,618.1 L339.20,621.2 L340.80,624.1 L342.40,627 L344.00,629.8 L345.60,632.7 L347.20,635.5 L348.80,638.4 L350.40,641.2 L352.00,644.1 L353.60,647.1 L355.20,650.3 L356.80,653.6 L358.40,656.9 L360.00,660.3 L361.60,663.6 L363.20,666.9 L364.80,670.3 L366.40,673.5 L368.00,676.2 L369.60,678.3 L371.20,679.9 L372.80,681.5 L374.40,683 L376.00,684.6 L377.60,686.1 L379.20,687.7 L380.80,689.2 L382.40,690.8 L384.00,692.3 L385.60,693.9 L387.20,695.4 L388.80,697 L390.40,698.4 L392.00,699.7 L393.60,700.8 L395.20,701.8 L396.80,702.9 L398.40,703.9 L400.00,704.9 L401.60,705.9 L403.20,707 L404.80,707.8 L406.40,708.3 L408.00,708.4 L409.60,708.4 L411.20,708.4 L412.80,708.5 L414.40,708.4 L416.00,708.2 L417.60,707.5 L419.20,706.7 L420.80,705.8 L422.40,704.9 L424.00,704 L425.60,703.1 L427.20,702.2 L428.80,701.3 L430.40,700.4 L432.00,699.4 L433.60,698.2 L435.20,696.9 L436.80,695.5 L438.40,694 L440.00,692.6 L441.60,691.2 L443.20,689.8 L444.80,688.2 L446.40,686.1 L448.00,683.4 L449.60,680.5 L451.20,677.6 L452.80,674.6 L454.40,671.6 L456.00,668.6 L457.60,665.4 L459.20,662.3 L460.80,659.4 L462.40,656.9 L464.00,654.7 L465.60,652.7 L467.20,650.6 L468.80,648.5 L470.40,646.6 L472.00,644.7 L473.60,642.9 L475.20,641.1 L476.80,639.4 L478.40,637.6 L480.00,635.8 L481.60,633.9 L483.20,632 L484.80,630 L486.40,628.1 L488.00,626.2 L489.60,624.2 L491.20,622.4 L492.80,620.5 L494.40,618.6 L496.00,616.8 L497.60,614.9 L499.20,613.1 L500.80,611.2 L502.40,609.4 L504.00,607.5 L505.60,605.7 L507.20,603.8 L508.80,602 L510.40,600.2 L512.00,598.4 L513.60,596.7 L515.20,594.9 L516.80,593.2 L518.40,591.5 L520.00,589.9 L521.60,588.4 L523.20,587 L524.80,585.7 L526.40,584.3 L528.00,583 L529.60,581.8 L531.20,580.7 L532.80,579.7 L534.40,578.7 L536.00,577.7 L537.60,576.7 L539.20,575.8 L540.80,574.8 L542.40,573.9 L544.00,572.9 L545.60,572 L547.20,571.1 L548.80,570.3 L550.40,569.5 L552.00,568.9 L553.60,568.3 L555.20,567.6 L556.80,567 L558.40,566.6 L560.00,566.2 L561.60,566 L563.20,565.7 L564.80,565.5 L566.40,565.2 L568.00,565 L569.60,564.7 L571.20,564.6 L572.80,564.6 L574.40,564.9 L576.00,565.2 L577.60,565.5 L579.20,565.8 L580.80,566.1 L582.40,566.4 L584.00,566.7 L585.60,567 L587.20,567.4 L588.80,567.9 L590.40,568.5 L592.00,569.4 L593.60,570.3 L595.20,571.2 L596.80,572.2 L598.40,573.1 L600.00,574.2 L601.60,575.3 L603.20,576.4 L604.80,577.6 L606.40,578.8 L608.00,579.9 L609.60,581.2 L611.20,582.5 L612.80,583.8 L614.40,585.2 L616.00,586.6 L617.60,587.9 L619.20,589.3 L620.80,590.6 L622.40,592 L624.00,593.3 L625.60,594.7 L627.20,596.1 L628.80,597.5 L630.40,599 L632.00,600.6 L633.60,602.2 L635.20,603.8 L636.80,605.4 L638.40,607 L640.00,608.7 L641.60,610.4 L643.20,612.1 L644.80,613.8 L646.40,615.6 L648.00,617.3 L649.60,619.1 L651.20,620.9 L652.80,622.8 L654.40,624.7 L656.00,626.5 L657.60,628.4 L659.20,630.3 L660.80,632.1 L662.40,633.9 L664.00,635.8 L665.60,637.6 L667.20,639.5 L668.80,641.3 L670.40,643.2 L672.00,645 L673.60,646.9 L675.20,648.7 L676.80,650.6 L678.40,652.5 L680.00,654.5 L681.60,656.5 L683.20,658.6 L684.80,660.6 L686.40,662.5 L688.00,664.3 L689.60,666 L691.20,667.6 L692.80,669.2 L694.40,670.8 L696.00,672.4 L697.60,674 L699.20,675.6 L700.80,677.2 L702.40,678.8 L704.00,680.4 L705.60,682 L707.20,683.6 L708.80,685.3 L710.40,686.9 L712.00,688.5 L713.60,690.1 L715.20,691.7 L716.80,693.2 L718.40,694.7 L720.00,696.1 L721.60,697.6 L723.20,699.1 L724.80,700.5 L726.40,701.9 L728.00,703.3 L729.60,704.6 L731.20,706 L732.80,707.3 L734.40,708.7 L736.00,709.9 L737.60,711.2 L739.20,712.4 L740.80,713.7 L742.40,714.9 L744.00,716.1 L745.60,717.2 L747.20,718.3 L748.80,719.3 L750.40,720.3 L752.00,721.3 L753.60,722.2 L755.20,723.2 L756.80,724 L758.40,724.7 L760.00,725.5 L761.60,726.2 L763.20,726.9 L764.80,727.7 L766.40,728.3 L768.00,729 L769.60,729.6 L771.20,730.2 L772.80,730.8 L774.40,731.4 L776.00,732 L777.60,732.6 L779.20,733.1 L780.80,733.7 L782.40,734.3 L784.00,734.8 L785.60,735.3 L787.20,735.7 L788.80,736.1 L790.40,736.5 L792.00,736.9 L793.60,737.2 L795.20,737.6 L796.80,737.9 L798.40,738.2 L800.00,738.4 L801.60,738.7 L803.20,738.9 L804.80,739.2 L806.40,739.4 L808.00,739.6 L809.60,739.7 L811.20,739.9 L812.80,740 L814.40,740.2 L816.00,740.4 L817.60,740.5 L819.20,740.6 L820.80,740.8 L822.40,740.9 L824.00,741.1 L825.60,741.2 L827.20,741.3 L828.80,741.5 L830.40,741.6 L832.00,741.7 L833.60,741.8 L835.20,741.9 L836.80,742 L838.40,742 L840.00,742.1 L841.60,742.2 L843.20,742.3 L844.80,742.4 L846.40,742.4 L848.00,742.4 L849.60,742.4 L851.20,742.4 L852.80,742.4 L854.40,742.4 L856.00,742.4 L857.60,742.4 L859.20,742.4 L860.80,742.4 L862.40,742.4 L864.00,742.4 L865.60,742.4 L867.20,742.4 L868.80,742.4 L870.40,742.4 L872.00,742.4 L873.60,742.4 L875.20,742.4 L876.80,742.4 L878.40,742.4 L880.00,742.3 L881.60,742.2 L883.20,742.1 L884.80,742 L886.40,741.8 L888.00,741.7 L889.60,741.6 L891.20,741.5 L892.80,741.3 L894.40,741.2 L896.00,741 L897.60,740.8 L899.20,740.7 L900.80,740.5 L902.40,740.3 L904.00,740.1 L905.60,739.9 L907.20,739.7 L908.80,739.6 L910.40,739.4 L912.00,739.2 L913.60,739 L915.20,738.8 L916.80,738.6 L918.40,738.5 L920.00,738.3 L921.60,738.1 L923.20,737.9 L924.80,737.7 L926.40,737.5 L928.00,737.3 L929.60,737.1 L931.20,736.9 L932.80,736.7 L934.40,736.5 L936.00,736.3 L937.60,736.1 L939.20,735.9 L940.80,735.8 L942.40,735.6 L944.00,735.4 L945.60,735.2 L947.20,735 L948.80,734.8 L950.40,734.6 L952.00,734.4 L953.60,734.2 L955.20,734 L956.80,733.8 L958.40,733.6 L960.00,733.4 L961.60,733.2 L963.20,733.1 L964.80,733.1 L966.40,733 L968.00,732.9 L969.60,732.9 L971.20,732.8 L972.80,732.7 L974.40,732.6 L976.00,732.6 L977.60,732.5 L979.20,732.4 L980.80,732.3 L982.40,732.3 L984.00,732.2 L985.60,732.1 L987.20,732 L988.80,731.9 L990.40,731.9 L992.00,731.8 L993.60,731.7 L995.20,731.6 L996.80,731.5 L998.40,731.4 L1000.00,731.4 L1001.60,731.3 L1003.20,731.3 L1004.80,731.3 L1006.40,731.3 L1008.00,731.3 L1009.60,731.3 L1011.20,731.3 L1012.80,731.3 L1014.40,731.3 L1016.00,731.3 L1017.60,731.3 L1019.20,731.3 L1020.80,731.3 L1022.40,731.3 L1024.00,731.3 L1025.60,731.3 L1027.20,731.3 L1028.80,731.3 L1030.40,731.3 L1032.00,731.3 L1033.60,731.3 L1035.20,731.3 L1036.80,731.3 L1038.40,731.3 L1040.00,731.3 L1041.60,731.3 L1043.20,731.3 L1044.80,731.4 L1046.40,731.4 L1048.00,731.4 L1049.60,731.4 L1051.20,731.4 L1052.80,731.4 L1054.40,731.4 L1056.00,731.4 L1057.60,731.4 L1059.20,731.4 L1060.80,731.4 L1062.40,731.4 L1064.00,731.4 L1065.60,731.4 L1067.20,731.4 L1068.80,731.4 L1070.40,731.4 L1072.00,731.4 L1073.60,731.4 L1075.20,731.4 L1076.80,731.4 L1078.40,731.4 L1080.00,731.4 L1081.60,731.4 L1083.20,731.4 L1084.80,731.4 L1086.40,731.4 L1088.00,731.4 L1089.60,731.4 L1091.20,731.4 L1092.80,731.4 L1094.40,731.4 L1096.00,731.4 L1097.60,731.4 L1099.20,731.5 L1100.80,731.5 L1102.40,731.5 L1104.00,731.5 L1105.60,731.5 L1107.20,731.6 L1108.80,731.7 L1110.40,731.7 L1112.00,731.8 L1113.60,731.9 L1115.20,731.9 L1116.80,732 L1118.40,732.1 L1120.00,732.2 L1121.60,732.2 L1123.20,732.3 L1124.80,732.4 L1126.40,732.4 L1128.00,732.5 L1129.60,732.5 L1131.20,732.6 L1132.80,732.6 L1134.40,732.7 L1136.00,732.8 L1137.60,732.8 L1139.20,732.9 L1140.80,732.9 L1142.40,733 L1144.00,733 L1145.60,733.1 L1147.20,733.1 L1148.80,733.2 L1150.40,733.3 L1152.00,733.3 L1153.60,733.4 L1155.20,733.4 L1156.80,733.5 L1158.40,733.5 L1160.00,733.6 L1161.60,733.6 L1163.20,733.7 L1164.80,733.7 L1166.40,733.8 L1168.00,733.8 L1169.60,733.9 L1171.20,733.9 L1172.80,734 L1174.40,734 L1176.00,734.1 L1177.60,734.1 L1179.20,734.2 L1180.80,734.2 L1182.40,734.3 L1184.00,734.4 L1185.60,734.4 L1187.20,734.5 L1188.80,734.5 L1190.40,734.6 L1192.00,734.7 L1193.60,734.7 L1195.20,734.8 L1196.80,734.8 L1198.40,734.9 L1200.00,735 L1201.60,735 L1203.20,735.1 L1204.80,735.1 L1206.40,735.2 L1208.00,735.2 L1209.60,735.3 L1211.20,735.3 L1212.80,735.4 L1214.40,735.4 L1216.00,735.5 L1217.60,735.5 L1219.20,735.5 L1220.80,735.6 L1222.40,735.6 L1224.00,735.7 L1225.60,735.7 L1227.20,735.8 L1228.80,735.8 L1230.40,735.9 L1232.00,735.9 L1233.60,736 L1235.20,736 L1236.80,736 L1238.40,736.1" stroke="#8c4e4f"/>
<path d="M200.00,344.9 L201.60,346.5 L203.20,348 L204.80,349.6 L206.40,351.2 L208.00,352.8 L209.60,354.1 L211.20,355.4 L212.80,356.8 L214.40,358.1 L216.00,359.4 L217.60,360.7 L219.20,362 L220.80,363.4 L222.40,364.7 L224.00,366 L225.60,367.4 L227.20,368.7 L228.80,371.3 L230.40,373.9 L232.00,376.4 L233.60,379 L235.20,381.9 L236.80,385.7 L238.40,389.1 L240.00,392.2 L241.60,395.3 L243.20,398.5 L244.80,402 L246.40,406.2 L248.00,411.2 L249.60,416.3 L251.20,421.1 L252.80,425.5 L254.40,429.6 L256.00,433.7 L257.60,438.1 L259.20,443 L260.80,448.2 L262.40,453.3 L264.00,457.9 L265.60,461.8 L267.20,465.5 L268.80,469.2 L270.40,472.9 L272.00,476.6 L273.60,480.3 L275.20,484.2 L276.80,488.1 L278.40,492 L280.00,496 L281.60,500 L283.20,504.1 L284.80,508.3 L286.40,512.8 L288.00,517.7 L289.60,522.7 L291.20,527.5 L292.80,531.8 L294.40,535.8 L296.00,539.8 L297.60,543.7 L299.20,547.5 L300.80,551.2 L302.40,554.9 L304.00,558.5 L305.60,562.2 L307.20,565.8 L308.80,569.5 L310.40,573.4 L312.00,577.5 L313.60,581.7 L315.20,586 L316.80,590.3 L318.40,594.4 L320.00,597.8 L321.60,600.4 L323.20,602.7 L324.80,604.8 L326.40,607 L328.00,609.2 L329.60,611.6 L331.20,614.8 L332.80,618.4 L334.40,622.2 L336.00,625.9 L337.60,629.2 L339.20,632.1 L340.80,634.7 L342.40,637.3 L344.00,639.9 L345.60,642.5 L347.20,645.1 L348.80,647.7 L350.40,650.3 L352.00,652.9 L353.60,655.7 L355.20,658.6 L356.80,661.6 L358.40,664.6 L360.00,667.7 L361.60,670.7 L363.20,673.7 L364.80,676.8 L366.40,679.7 L368.00,682.2 L369.60,684 L371.20,685.5 L372.80,687 L374.40,688.4 L376.00,689.8 L377.60,691.2 L379.20,692.6 L380.80,694 L382.40,695.4 L384.00,696.9 L385.60,698.3 L387.20,699.7 L388.80,701.1 L390.40,702.4 L392.00,703.6 L393.60,704.6 L395.20,705.5 L396.80,706.4 L398.40,707.4 L400.00,708.3 L401.60,709.3 L403.20,710.2 L404.80,710.9 L406.40,711.4 L408.00,711.5 L409.60,711.5 L411.20,711.5 L412.80,711.5 L414.40,711.5 L416.00,711.3 L417.60,710.7 L419.20,709.9 L420.80,709.1 L422.40,708.3 L424.00,707.5 L425.60,706.7 L427.20,705.9 L428.80,705.1 L430.40,704.2 L432.00,703.3 L433.60,702.2 L435.20,701 L436.80,699.7 L438.40,698.4 L440.00,697.1 L441.60,695.8 L443.20,694.5 L444.80,693.1 L446.40,691.2 L448.00,688.7 L449.60,686.1 L451.20,683.4 L452.80,680.7 L454.40,678 L456.00,675.2 L457.60,672.4 L459.20,669.5 L460.80,666.9 L462.40,664.6 L464.00,662.6 L465.60,660.7 L467.20,658.8 L468.80,657 L470.40,655.1 L472.00,653.4 L473.60,651.8 L475.20,650.2 L476.80,648.6 L478.40,647 L480.00,645.3 L481.60,643.6 L483.20,641.9 L484.80,640.1 L486.40,638.3 L488.00,636.6 L489.60,634.8 L491.20,633.1 L492.80,631.4 L494.40,629.7 L496.00,628 L497.60,626.3 L499.20,624.7 L500.80,623 L502.40,621.3 L504.00,619.6 L505.60,617.9 L507.20,616.2 L508.80,614.6 L510.40,612.9 L512.00,611.3 L513.60,609.7 L515.20,608.1 L516.80,606.6 L518.40,605 L520.00,603.5 L521.60,602.2 L523.20,600.9 L524.80,599.7 L526.40,598.5 L528.00,597.3 L529.60,596.1 L531.20,595.1 L532.80,594.2 L534.40,593.3 L536.00,592.4 L537.60,591.5 L539.20,590.7 L540.80,589.8 L542.40,589 L544.00,588.1 L545.60,587.3 L547.20,586.4 L548.80,585.7 L550.40,585 L552.00,584.4 L553.60,583.8 L555.20,583.3 L556.80,582.7 L558.40,582.3 L560.00,582 L561.60,581.7 L563.20,581.5 L564.80,581.3 L566.40,581.1 L568.00,580.8 L569.60,580.6 L571.20,580.5 L572.80,580.5 L574.40,580.8 L576.00,581 L577.60,581.3 L579.20,581.6 L580.80,581.9 L582.40,582.1 L584.00,582.4 L585.60,582.7 L587.20,583.1 L588.80,583.5 L590.40,584.1 L592.00,584.8 L593.60,585.7 L595.20,586.5 L596.80,587.4 L598.40,588.3 L600.00,589.2 L601.60,590.2 L603.20,591.3 L604.80,592.3 L606.40,593.4 L608.00,594.5 L609.60,595.6 L611.20,596.8 L612.80,598 L614.40,599.3 L616.00,600.5 L617.60,601.7 L619.20,603 L620.80,604.2 L622.40,605.4 L624.00,606.7 L625.60,607.9 L627.20,609.2 L628.80,610.4 L630.40,611.8 L632.00,613.3 L633.60,614.7 L635.20,616.2 L636.80,617.6 L638.40,619.1 L640.00,620.7 L641.60,622.2 L643.20,623.8 L644.80,625.3 L646.40,626.9 L648.00,628.5 L649.60,630.1 L651.20,631.8 L652.80,633.5 L654.40,635.2 L656.00,636.9 L657.60,638.6 L659.20,640.3 L660.80,642 L662.40,643.7 L664.00,645.3 L665.60,647 L667.20,648.7 L668.80,650.4 L670.40,652.1 L672.00,653.7 L673.60,655.4 L675.20,657.1 L676.80,658.8 L678.40,660.6 L680.00,662.4 L681.60,664.2 L683.20,666.1 L684.80,667.9 L686.40,669.7 L688.00,671.3 L689.60,672.8 L691.20,674.3 L692.80,675.8 L694.40,677.2 L696.00,678.7 L697.60,680.2 L699.20,681.6 L700.80,683.1 L702.40,684.5 L704.00,686 L705.60,687.5 L707.20,688.9 L708.80,690.4 L710.40,691.9 L712.00,693.3 L713.60,694.8 L715.20,696.2 L716.80,697.6 L718.40,699 L720.00,700.3 L721.60,701.6 L723.20,703 L724.80,704.3 L726.40,705.6 L728.00,706.8 L729.60,708 L731.20,709.3 L732.80,710.5 L734.40,711.7 L736.00,712.9 L737.60,714 L739.20,715.2 L740.80,716.3 L742.40,717.4 L744.00,718.5 L745.60,719.5 L747.20,720.5 L748.80,721.4 L750.40,722.3 L752.00,723.2 L753.60,724.1 L755.20,724.9 L756.80,725.7 L758.40,726.4 L760.00,727 L761.60,727.7 L763.20,728.4 L764.80,729 L766.40,729.6 L768.00,730.2 L769.60,730.8 L771.20,731.3 L772.80,731.9 L774.40,732.5 L776.00,733 L777.60,733.5 L779.20,734 L780.80,734.5 L782.40,735 L784.00,735.5 L785.60,736 L787.20,736.4 L788.80,736.7 L790.40,737.1 L792.00,737.4 L793.60,737.8 L795.20,738.1 L796.80,738.4 L798.40,738.6 L800.00,738.8 L801.60,739.1 L803.20,739.3 L804.80,739.5 L806.40,739.7 L808.00,739.9 L809.60,740 L811.20,740.2 L812.80,740.3 L814.40,740.5 L816.00,740.6 L817.60,740.7 L819.20,740.9 L820.80,741 L822.40,741.1 L824.00,741.2 L825.60,741.4 L827.20,741.5 L828.80,741.6 L830.40,741.7 L832.00,741.8 L833.60,741.9 L835.20,742 L836.80,742.1 L838.40,742.1 L840.00,742.2 L841.60,742.3 L843.20,742.4 L844.80,742.4 L846.40,742.5 L848.00,742.5 L849.60,742.5 L851.20,742.5 L852.80,742.5 L854.40,742.5 L856.00,742.5 L857.60,742.5 L859.20,742.5 L860.80,742.5 L862.40,742.5 L864.00,742.5 L865.60,742.5 L867.20,742.5 L868.80,742.5 L870.40,742.5 L872.00,742.5 L873.60,742.5 L875.20,742.5 L876.80,742.5 L878.40,742.5 L880.00,742.4 L881.60,742.3 L883.20,742.2 L884.80,742.1 L886.40,741.9 L888.00,741.8 L889.60,741.7 L891.20,741.6 L892.80,741.5 L894.40,741.4 L896.00,741.2 L897.60,741 L899.20,740.9 L900.80,740.7 L902.40,740.5 L904.00,740.4 L905.60,740.2 L907.20,740 L908.80,739.9 L910.40,739.7 L912.00,739.5 L913.60,739.4 L915.20,739.2 L916.80,739 L918.40,738.9 L920.00,738.7 L921.60,738.5 L923.20,738.4 L924.80,738.2 L926.40,738 L928.00,737.8 L929.60,737.6 L931.20,737.5 L932.80,737.3 L934.40,737.1 L936.00,736.9 L937.60,736.8 L939.20,736.6 L940.80,736.4 L942.40,736.2 L944.00,736 L945.60,735.9 L947.20,735.7 L948.80,735.5 L950.40,735.3 L952.00,735.1 L953.60,735 L955.20,734.8 L956.80,734.6 L958.40,734.4 L960.00,734.2 L961.60,734.1 L963.20,734 L964.80,734 L966.40,733.9 L968.00,733.8 L969.60,733.8 L971.20,733.7 L972.80,733.6 L974.40,733.6 L976.00,733.5 L977.60,733.4 L979.20,733.4 L980.80,733.3 L982.40,733.2 L984.00,733.2 L985.60,733.1 L987.20,733 L988.80,732.9 L990.40,732.8 L992.00,732.8 L993.60,732.7 L995.20,732.6 L996.80,732.5 L998.40,732.4 L1000.00,732.4 L1001.60,732.4 L1003.20,732.4 L1004.80,732.4 L1006.40,732.4 L1008.00,732.4 L1009.60,732.4 L1011.20,732.4 L1012.80,732.4 L1014.40,732.4 L1016.00,732.4 L1017.60,732.4 L1019.20,732.4 L1020.80,732.4 L1022.40,732.4 L1024.00,732.4 L1025.60,732.4 L1027.20,732.4 L1028.80,732.4 L1030.40,732.4 L1032.00,732.4 L1033.60,732.4 L1035.20,732.4 L1036.80,732.4 L1038.40,732.4 L1040.00,732.4 L1041.60,732.4 L1043.20,732.4 L1044.80,732.4 L1046.40,732.4 L1048.00,732.4 L1049.60,732.4 L1051.20,732.4 L1052.80,732.4 L1054.40,732.4 L1056.00,732.4 L1057.60,732.4 L1059.20,732.4 L1060.80,732.4 L1062.40,732.4 L1064.00,732.4 L1065.60,732.4 L1067.20,732.4 L1068.80,732.4 L1070.40,732.4 L1072.00,732.4 L1073.60,732.4 L1075.20,732.4 L1076.80,732.4 L1078.40,732.4 L1080.00,732.4 L1081.60,732.5 L1083.20,732.5 L1084.80,732.5 L1086.40,732.5 L1088.00,732.5 L1089.60,732.5 L1091.20,732.5 L1092.80,732.5 L1094.40,732.5 L1096.00,732.5 L1097.60,732.5 L1099.20,732.5 L1100.80,732.5 L1102.40,732.5 L1104.00,732.5 L1105.60,732.6 L1107.20,732.6 L1108.80,732.7 L1110.40,732.7 L1112.00,732.8 L1113.60,732.9 L1115.20,732.9 L1116.80,733 L1118.40,733.1 L1120.00,733.1 L1121.60,733.2 L1123.20,733.2 L1124.80,733.3 L1126.40,733.4 L1128.00,733.4 L1129.60,733.5 L1131.20,733.5 L1132.80,733.6 L1134.40,733.6 L1136.00,733.7 L1137.60,733.7 L1139.20,733.8 L1140.80,733.8 L1142.40,733.9 L1144.00,733.9 L1145.60,734 L1147.20,734 L1148.80,734.1 L1150.40,734.1 L1152.00,734.2 L1153.60,734.2 L1155.20,734.3 L1156.80,734.3 L1158.40,734.4 L1160.00,734.4 L1161.60,734.5 L1163.20,734.5 L1164.80,734.5 L1166.40,734.6 L1168.00,734.6 L1169.60,734.7 L1171.20,734.7 L1172.80,734.8 L1174.40,734.8 L1176.00,734.9 L1177.60,734.9 L1179.20,735 L1180.80,735 L1182.40,735.1 L1184.00,735.1 L1185.60,735.2 L1187.20,735.2 L1188.80,735.3 L1190.40,735.3 L1192.00,735.4 L1193.60,735.5 L1195.20,735.5 L1196.80,735.6 L1198.40,735.6 L1200.00,735.7 L1201.60,735.7 L1203.20,735.8 L1204.80,735.8 L1206.40,735.9 L1208.00,735.9 L1209.60,736 L1211.20,736 L1212.80,736 L1214.40,736.1 L1216.00,736.1 L1217.60,736.2 L1219.20,736.2 L1220.80,736.3 L1222.40,736.3 L1224.00,736.3 L1225.60,736.4 L1227.20,736.4 L1228.80,736.5 L1230.40,736.5 L1232.00,736.5 L1233.60,736.6 L1235.20,736.6 L1236.80,736.7 L1238.40,736.7" stroke="#8f8f00"/>
<path d="M200.00,380.8 L201.60,382.2 L203.20,383.7 L204.80,385.1 L206.40,386.6 L208.00,388 L209.60,389.2 L211.20,390.4 L212.80,391.5 L214.40,392.7 L216.00,393.9 L217.60,395.1 L219.20,396.3 L220.80,397.4 L222.40,398.6 L224.00,399.8 L225.60,401 L227.20,402.2 L228.80,404.5 L230.40,406.9 L232.00,409.2 L233.60,411.5 L235.20,414.1 L236.80,417.5 L238.40,420.6 L240.00,423.4 L241.60,426.3 L243.20,429.2 L244.80,432.3 L246.40,436.2 L248.00,440.7 L249.60,445.3 L251.20,449.7 L252.80,453.7 L254.40,457.5 L256.00,461.3 L257.60,465.3 L259.20,469.7 L260.80,474.5 L262.40,479.1 L264.00,483.2 L265.60,486.8 L267.20,490.2 L268.80,493.6 L270.40,496.9 L272.00,500.3 L273.60,503.7 L275.20,507.2 L276.80,510.8 L278.40,514.3 L280.00,517.9 L281.60,521.6 L283.20,525.3 L284.80,529.1 L286.40,533.2 L288.00,537.7 L289.60,542.3 L291.20,546.7 L292.80,550.6 L294.40,554.3 L296.00,557.8 L297.60,561.4 L299.20,564.9 L300.80,568.3 L302.40,571.6 L304.00,574.9 L305.60,578.3 L307.20,581.6 L308.80,585 L310.40,588.5 L312.00,592.2 L313.60,596.1 L315.20,600 L316.80,603.9 L318.40,607.6 L320.00,610.7 L321.60,613.1 L323.20,615.2 L324.80,617.1 L326.40,619.1 L328.00,621.1 L329.60,623.3 L331.20,626.2 L332.80,629.5 L334.40,633 L336.00,636.4 L337.60,639.4 L339.20,641.9 L340.80,644.3 L342.40,646.7 L344.00,649.1 L345.60,651.4 L347.20,653.8 L348.80,656.2 L350.40,658.6 L352.00,660.9 L353.60,663.4 L355.20,666.1 L356.80,668.8 L358.40,671.6 L360.00,674.4 L361.60,677.1 L363.20,679.9 L364.80,682.6 L366.40,685.3 L368.00,687.6 L369.60,689.3 L371.20,690.7 L372.80,691.9 L374.40,693.2 L376.00,694.5 L377.60,695.8 L379.20,697.1 L380.80,698.4 L382.40,699.7 L384.00,701 L385.60,702.3 L387.20,703.5 L388.80,704.8 L390.40,706 L392.00,707.1 L393.60,708 L395.20,708.8 L396.80,709.7 L398.40,710.5 L400.00,711.4 L401.60,712.3 L403.20,713.1 L404.80,713.8 L406.40,714.2 L408.00,714.3 L409.60,714.3 L411.20,714.3 L412.80,714.3 L414.40,714.3 L416.00,714.1 L417.60,713.6 L419.20,712.9 L420.80,712.1 L422.40,711.4 L424.00,710.7 L425.60,709.9 L427.20,709.2 L428.80,708.4 L430.40,707.7 L432.00,706.8 L433.60,705.9 L435.20,704.7 L436.80,703.5 L438.40,702.4 L440.00,701.2 L441.60,700 L443.20,698.8 L444.80,697.5 L446.40,695.8 L448.00,693.6 L449.60,691.2 L451.20,688.7 L452.80,686.3 L454.40,683.8 L456.00,681.2 L457.60,678.6 L459.20,676.1 L460.80,673.7 L462.40,671.6 L464.00,669.8 L465.60,668 L467.20,666.3 L468.80,664.6 L470.40,663 L472.00,661.4 L473.60,659.9 L475.20,658.5 L476.80,657 L478.40,655.5 L480.00,654 L481.60,652.5 L483.20,650.9 L484.80,649.3 L486.40,647.7 L488.00,646 L489.60,644.5 L491.20,642.9 L492.80,641.3 L494.40,639.8 L496.00,638.3 L497.60,636.7 L499.20,635.2 L500.80,633.7 L502.40,632.1 L504.00,630.6 L505.60,629 L507.20,627.5 L508.80,626 L510.40,624.5 L512.00,623 L513.60,621.6 L515.20,620.1 L516.80,618.7 L518.40,617.3 L520.00,615.9 L521.60,614.7 L523.20,613.6 L524.80,612.5 L526.40,611.3 L528.00,610.2 L529.60,609.2 L531.20,608.3 L532.80,607.5 L534.40,606.6 L536.00,605.8 L537.60,605 L539.20,604.2 L540.80,603.4 L542.40,602.7 L544.00,601.9 L545.60,601.1 L547.20,600.4 L548.80,599.7 L550.40,599.1 L552.00,598.5 L553.60,598 L555.20,597.5 L556.80,597 L558.40,596.6 L560.00,596.3 L561.60,596.1 L563.20,595.9 L564.80,595.7 L566.40,595.5 L568.00,595.3 L569.60,595.1 L571.20,594.9 L572.80,595 L574.40,595.2 L576.00,595.4 L577.60,595.7 L579.20,595.9 L580.80,596.2 L582.40,596.4 L584.00,596.7 L585.60,597 L587.20,597.3 L588.80,597.7 L590.40,598.2 L592.00,598.9 L593.60,599.7 L595.20,600.5 L596.80,601.2 L598.40,602 L600.00,602.9 L601.60,603.8 L603.20,604.8 L604.80,605.7 L606.40,606.7 L608.00,607.7 L609.60,608.7 L611.20,609.8 L612.80,610.9 L614.40,612 L616.00,613.2 L617.60,614.3 L619.20,615.4 L620.80,616.6 L622.40,617.7 L624.00,618.8 L625.60,619.9 L627.20,621.1 L628.80,622.2 L630.40,623.5 L632.00,624.8 L633.60,626.1 L635.20,627.5 L636.80,628.8 L638.40,630.2 L640.00,631.5 L641.60,633 L643.20,634.4 L644.80,635.8 L646.40,637.2 L648.00,638.7 L649.60,640.2 L651.20,641.7 L652.80,643.3 L654.40,644.8 L656.00,646.4 L657.60,647.9 L659.20,649.4 L660.80,651 L662.40,652.5 L664.00,654 L665.60,655.6 L667.20,657.1 L668.80,658.6 L670.40,660.2 L672.00,661.7 L673.60,663.2 L675.20,664.8 L676.80,666.3 L678.40,667.9 L680.00,669.5 L681.60,671.2 L683.20,672.9 L684.80,674.6 L686.40,676.2 L688.00,677.7 L689.60,679.1 L691.20,680.4 L692.80,681.8 L694.40,683.1 L696.00,684.4 L697.60,685.8 L699.20,687.1 L700.80,688.4 L702.40,689.7 L704.00,691.1 L705.60,692.4 L707.20,693.7 L708.80,695.1 L710.40,696.4 L712.00,697.8 L713.60,699.1 L715.20,700.4 L716.80,701.7 L718.40,702.9 L720.00,704.1 L721.60,705.3 L723.20,706.5 L724.80,707.7 L726.40,708.9 L728.00,710 L729.60,711.2 L731.20,712.3 L732.80,713.4 L734.40,714.5 L736.00,715.6 L737.60,716.6 L739.20,717.6 L740.80,718.7 L742.40,719.7 L744.00,720.7 L745.60,721.6 L747.20,722.5 L748.80,723.3 L750.40,724.1 L752.00,725 L753.60,725.8 L755.20,726.5 L756.80,727.2 L758.40,727.8 L760.00,728.5 L761.60,729.1 L763.20,729.7 L764.80,730.3 L766.40,730.8 L768.00,731.4 L769.60,731.9 L771.20,732.4 L772.80,732.9 L774.40,733.4 L776.00,733.9 L777.60,734.4 L779.20,734.8 L780.80,735.3 L782.40,735.7 L784.00,736.2 L785.60,736.6 L787.20,737 L788.80,737.3 L790.40,737.6 L792.00,737.9 L793.60,738.2 L795.20,738.5 L796.80,738.8 L798.40,739 L800.00,739.2 L801.60,739.4 L803.20,739.6 L804.80,739.8 L806.40,740 L808.00,740.1 L809.60,740.3 L811.20,740.4 L812.80,740.5 L814.40,740.7 L816.00,740.8 L817.60,740.9 L819.20,741 L820.80,741.2 L822.40,741.3 L824.00,741.4 L825.60,741.5 L827.20,741.6 L828.80,741.7 L830.40,741.8 L832.00,741.9 L833.60,742 L835.20,742.1 L836.80,742.1 L838.40,742.2 L840.00,742.3 L841.60,742.3 L843.20,742.4 L844.80,742.5 L846.40,742.5 L848.00,742.5 L849.60,742.5 L851.20,742.5 L852.80,742.5 L854.40,742.5 L856.00,742.5 L857.60,742.5 L859.20,742.5 L860.80,742.5 L862.40,742.5 L864.00,742.5 L865.60,742.5 L867.20,742.5 L868.80,742.5 L870.40,742.5 L872.00,742.5 L873.60,742.5 L875.20,742.5 L876.80,742.5 L878.40,742.5 L880.00,742.4 L881.60,742.3 L883.20,742.2 L884.80,742.1 L886.40,742 L888.00,741.9 L889.60,741.8 L891.20,741.7 L892.80,741.6 L894.40,741.5 L896.00,741.4 L897.60,741.2 L899.20,741.1 L900.80,740.9 L902.40,740.8 L904.00,740.6 L905.60,740.5 L907.20,740.3 L908.80,740.1 L910.40,740 L912.00,739.8 L913.60,739.7 L915.20,739.5 L916.80,739.4 L918.40,739.2 L920.00,739.1 L921.60,738.9 L923.20,738.8 L924.80,738.6 L926.40,738.4 L928.00,738.3 L929.60,738.1 L931.20,738 L932.80,737.8 L934.40,737.6 L936.00,737.5 L937.60,737.3 L939.20,737.1 L940.80,737 L942.40,736.8 L944.00,736.7 L945.60,736.5 L947.20,736.3 L948.80,736.2 L950.40,736 L952.00,735.8 L953.60,735.7 L955.20,735.5 L956.80,735.3 L958.40,735.2 L960.00,735 L961.60,734.9 L963.20,734.8 L964.80,734.8 L966.40,734.7 L968.00,734.6 L969.60,734.6 L971.20,734.5 L972.80,734.5 L974.40,734.4 L976.00,734.3 L977.60,734.3 L979.20,734.2 L980.80,734.2 L982.40,734.1 L984.00,734 L985.60,734 L987.20,733.9 L988.80,733.8 L990.40,733.8 L992.00,733.7 L993.60,733.6 L995.20,733.5 L996.80,733.4 L998.40,733.4 L1000.00,733.3 L1001.60,733.3 L1003.20,733.3 L1004.80,733.3 L1006.40,733.3 L1008.00,733.3 L1009.60,733.3 L1011.20,733.3 L1012.80,733.3 L1014.40,733.3 L1016.00,733.3 L1017.60,733.3 L1019.20,733.3 L1020.80,733.3 L1022.40,733.3 L1024.00,733.3 L1025.60,733.3 L1027.20,733.3 L1028.80,733.3 L1030.40,733.3 L1032.00,733.3 L1033.60,733.3 L1035.20,733.3 L1036.80,733.3 L1038.40,733.3 L1040.00,733.3 L1041.60,733.3 L1043.20,733.3 L1044.80,733.3 L1046.40,733.3 L1048.00,733.3 L1049.60,733.3 L1051.20,733.3 L1052.80,733.3 L1054.40,733.3 L1056.00,733.4 L1057.60,733.4 L1059.20,733.4 L1060.80,733.4 L1062.40,733.4 L1064.00,733.4 L1065.60,733.4 L1067.20,733.4 L1068.80,733.4 L1070.40,733.4 L1072.00,733.4 L1073.60,733.4 L1075.20,733.4 L1076.80,733.4 L1078.40,733.4 L1080.00,733.4 L1081.60,733.4 L1083.20,733.4 L1084.80,733.4 L1086.40,733.4 L1088.00,733.4 L1089.60,733.4 L1091.20,733.4 L1092.80,733.4 L1094.40,733.4 L1096.00,733.4 L1097.60,733.4 L1099.20,733.4 L1100.80,733.4 L1102.40,733.4 L1104.00,733.4 L1105.60,733.5 L1107.20,733.5 L1108.80,733.6 L1110.40,733.7 L1112.00,733.7 L1113.60,733.8 L1115.20,733.8 L1116.80,733.9 L1118.40,733.9 L1120.00,734 L1121.60,734.1 L1123.20,734.1 L1124.80,734.2 L1126.40,734.2 L1128.00,734.3 L1129.60,734.3 L1131.20,734.4 L1132.80,734.4 L1134.40,734.5 L1136.00,734.5 L1137.60,734.5 L1139.20,734.6 L1140.80,734.6 L1142.40,734.7 L1144.00,734.7 L1145.60,734.8 L1147.20,734.8 L1148.80,734.9 L1150.40,734.9 L1152.00,735 L1153.60,735 L1155.20,735 L1156.80,735.1 L1158.40,735.1 L1160.00,735.2 L1161.60,735.2 L1163.20,735.3 L1164.80,735.3 L1166.40,735.3 L1168.00,735.4 L1169.60,735.4 L1171.20,735.5 L1172.80,735.5 L1174.40,735.6 L1176.00,735.6 L1177.60,735.6 L1179.20,735.7 L1180.80,735.7 L1182.40,735.8 L1184.00,735.8 L1185.60,735.9 L1187.20,735.9 L1188.80,736 L1190.40,736 L1192.00,736.1 L1193.60,736.1 L1195.20,736.2 L1196.80,736.2 L1198.40,736.3 L1200.00,736.3 L1201.60,736.4 L1203.20,736.4 L1204.80,736.5 L1206.40,736.5 L1208.00,736.6 L1209.60,736.6 L1211.20,736.6 L1212.80,736.7 L1214.40,736.7 L1216.00,736.7 L1217.60,736.8 L1219.20,736.8 L1220.80,736.9 L1222.40,736.9 L1224.00,736.9 L1225.60,737 L1227.20,737 L1228.80,737 L1230.40,737.1 L1232.00,737.1 L1233.60,737.2 L1235.20,737.2 L1236.80,737.2 L1238.40,737.3" stroke="#ff6600"/>
<path d="M200.00,416.7 L201.60,418 L203.20,419.3 L204.80,420.6 L206.40,421.9 L208.00,423.2 L209.60,424.3 L211.20,425.3 L212.80,426.3 L214.40,427.4 L216.00,428.4 L217.60,429.4 L219.20,430.5 L220.80,431.5 L222.40,432.5 L224.00,433.6 L225.60,434.6 L227.20,435.7 L228.80,437.7 L230.40,439.8 L232.00,441.9 L233.60,443.9 L235.20,446.3 L236.80,449.4 L238.40,452.1 L240.00,454.6 L241.60,457.2 L243.20,459.8 L244.80,462.7 L246.40,466.1 L248.00,470.2 L249.60,474.4 L251.20,478.4 L252.80,482 L254.40,485.4 L256.00,488.8 L257.60,492.4 L259.20,496.4 L260.80,500.7 L262.40,504.9 L264.00,508.6 L265.60,511.9 L267.20,514.9 L268.80,517.9 L270.40,521 L272.00,524 L273.60,527.1 L275.20,530.2 L276.80,533.4 L278.40,536.7 L280.00,539.9 L281.60,543.2 L283.20,546.6 L284.80,550 L286.40,553.7 L288.00,557.7 L289.60,561.9 L291.20,565.8 L292.80,569.4 L294.40,572.7 L296.00,575.9 L297.60,579.1 L299.20,582.3 L300.80,585.3 L302.40,588.4 L304.00,591.4 L305.60,594.4 L307.20,597.4 L308.80,600.4 L310.40,603.6 L312.00,607 L313.60,610.4 L315.20,613.9 L316.80,617.4 L318.40,620.8 L320.00,623.7 L321.60,625.8 L323.20,627.6 L324.80,629.4 L326.40,631.2 L328.00,633 L329.60,635 L331.20,637.6 L332.80,640.6 L334.40,643.7 L336.00,646.8 L337.60,649.5 L339.20,651.8 L340.80,654 L342.40,656.1 L344.00,658.2 L345.60,660.4 L347.20,662.5 L348.80,664.7 L350.40,666.8 L352.00,669 L353.60,671.2 L355.20,673.6 L356.80,676.1 L358.40,678.6 L360.00,681.1 L361.60,683.6 L363.20,686.1 L364.80,688.5 L366.40,690.9 L368.00,693 L369.60,694.5 L371.20,695.8 L372.80,696.9 L374.40,698.1 L376.00,699.3 L377.60,700.4 L379.20,701.6 L380.80,702.7 L382.40,703.9 L384.00,705.1 L385.60,706.2 L387.20,707.4 L388.80,708.5 L390.40,709.6 L392.00,710.6 L393.60,711.4 L395.20,712.2 L396.80,712.9 L398.40,713.7 L400.00,714.5 L401.60,715.3 L403.20,716 L404.80,716.6 L406.40,717 L408.00,717.1 L409.60,717.1 L411.20,717.1 L412.80,717.1 L414.40,717.1 L416.00,716.9 L417.60,716.4 L419.20,715.8 L420.80,715.2 L422.40,714.5 L424.00,713.8 L425.60,713.1 L427.20,712.5 L428.80,711.8 L430.40,711.1 L432.00,710.4 L433.60,709.5 L435.20,708.5 L436.80,707.4 L438.40,706.3 L440.00,705.3 L441.60,704.2 L443.20,703.1 L444.80,701.9 L446.40,700.4 L448.00,698.4 L449.60,696.2 L451.20,694 L452.80,691.8 L454.40,689.6 L456.00,687.3 L457.60,684.9 L459.20,682.6 L460.80,680.4 L462.40,678.5 L464.00,676.9 L465.60,675.4 L467.20,673.8 L468.80,672.3 L470.40,670.8 L472.00,669.4 L473.60,668 L475.20,666.7 L476.80,665.4 L478.40,664.1 L480.00,662.7 L481.60,661.3 L483.20,659.9 L484.80,658.4 L486.40,657 L488.00,655.5 L489.60,654.1 L491.20,652.7 L492.80,651.3 L494.40,649.9 L496.00,648.5 L497.60,647.1 L499.20,645.7 L500.80,644.3 L502.40,642.9 L504.00,641.6 L505.60,640.2 L507.20,638.8 L508.80,637.4 L510.40,636.1 L512.00,634.7 L513.60,633.4 L515.20,632.1 L516.80,630.8 L518.40,629.6 L520.00,628.3 L521.60,627.3 L523.20,626.2 L524.80,625.2 L526.40,624.2 L528.00,623.2 L529.60,622.3 L531.20,621.5 L532.80,620.7 L534.40,620 L536.00,619.2 L537.60,618.5 L539.20,617.8 L540.80,617.1 L542.40,616.4 L544.00,615.7 L545.60,615 L547.20,614.3 L548.80,613.7 L550.40,613.1 L552.00,612.6 L553.60,612.2 L555.20,611.7 L556.80,611.2 L558.40,610.9 L560.00,610.6 L561.60,610.4 L563.20,610.2 L564.80,610.1 L566.40,609.9 L568.00,609.7 L569.60,609.5 L571.20,609.4 L572.80,609.5 L574.40,609.6 L576.00,609.9 L577.60,610.1 L579.20,610.3 L580.80,610.5 L582.40,610.8 L584.00,611 L585.60,611.2 L587.20,611.5 L588.80,611.9 L590.40,612.4 L592.00,613 L593.60,613.7 L595.20,614.4 L596.80,615.1 L598.40,615.8 L600.00,616.6 L601.60,617.4 L603.20,618.3 L604.80,619.1 L606.40,620 L608.00,620.9 L609.60,621.8 L611.20,622.8 L612.80,623.8 L614.40,624.8 L616.00,625.9 L617.60,626.9 L619.20,627.9 L620.80,628.9 L622.40,629.9 L624.00,630.9 L625.60,632 L627.20,633 L628.80,634 L630.40,635.2 L632.00,636.4 L633.60,637.5 L635.20,638.8 L636.80,640 L638.40,641.2 L640.00,642.4 L641.60,643.7 L643.20,645 L644.80,646.3 L646.40,647.6 L648.00,648.9 L649.60,650.2 L651.20,651.6 L652.80,653 L654.40,654.4 L656.00,655.8 L657.60,657.2 L659.20,658.6 L660.80,660 L662.40,661.3 L664.00,662.7 L665.60,664.1 L667.20,665.5 L668.80,666.9 L670.40,668.2 L672.00,669.6 L673.60,671 L675.20,672.4 L676.80,673.8 L678.40,675.2 L680.00,676.7 L681.60,678.2 L683.20,679.8 L684.80,681.3 L686.40,682.7 L688.00,684.1 L689.60,685.3 L691.20,686.5 L692.80,687.7 L694.40,688.9 L696.00,690.1 L697.60,691.3 L699.20,692.5 L700.80,693.7 L702.40,694.9 L704.00,696.1 L705.60,697.3 L707.20,698.6 L708.80,699.8 L710.40,701 L712.00,702.2 L713.60,703.4 L715.20,704.6 L716.80,705.7 L718.40,706.8 L720.00,707.9 L721.60,709 L723.20,710.1 L724.80,711.2 L726.40,712.2 L728.00,713.3 L729.60,714.3 L731.20,715.3 L732.80,716.3 L734.40,717.3 L736.00,718.3 L737.60,719.2 L739.20,720.1 L740.80,721 L742.40,722 L744.00,722.9 L745.60,723.7 L747.20,724.5 L748.80,725.2 L750.40,726 L752.00,726.7 L753.60,727.5 L755.20,728.1 L756.80,728.8 L758.40,729.3 L760.00,729.9 L761.60,730.4 L763.20,731 L764.80,731.5 L766.40,732 L768.00,732.5 L769.60,733 L771.20,733.4 L772.80,733.9 L774.40,734.3 L776.00,734.8 L777.60,735.2 L779.20,735.6 L780.80,736 L782.40,736.5 L784.00,736.9 L785.60,737.2 L787.20,737.6 L788.80,737.9 L790.40,738.1 L792.00,738.4 L793.60,738.7 L795.20,739 L796.80,739.2 L798.40,739.4 L800.00,739.6 L801.60,739.8 L803.20,739.9 L804.80,740.1 L806.40,740.3 L808.00,740.4 L809.60,740.5 L811.20,740.7 L812.80,740.8 L814.40,740.9 L816.00,741 L817.60,741.1 L819.20,741.2 L820.80,741.3 L822.40,741.4 L824.00,741.5 L825.60,741.7 L827.20,741.8 L828.80,741.9 L830.40,742 L832.00,742 L833.60,742.1 L835.20,742.2 L836.80,742.2 L838.40,742.3 L840.00,742.3 L841.60,742.4 L843.20,742.5 L844.80,742.5 L846.40,742.6 L848.00,742.6 L849.60,742.6 L851.20,742.6 L852.80,742.6 L854.40,742.6 L856.00,742.6 L857.60,742.6 L859.20,742.6 L860.80,742.6 L862.40,742.6 L864.00,742.6 L865.60,742.6 L867.20,742.6 L868.80,742.6 L870.40,742.6 L872.00,742.6 L873.60,742.6 L875.20,742.6 L876.80,742.6 L878.40,742.6 L880.00,742.5 L881.60,742.4 L883.20,742.3 L884.80,742.2 L886.40,742.1 L888.00,742 L889.60,741.9 L891.20,741.9 L892.80,741.8 L894.40,741.6 L896.00,741.5 L897.60,741.4 L899.20,741.2 L900.80,741.1 L902.40,741 L904.00,740.8 L905.60,740.7 L907.20,740.6 L908.80,740.4 L910.40,740.3 L912.00,740.1 L913.60,740 L915.20,739.9 L916.80,739.7 L918.40,739.6 L920.00,739.5 L921.60,739.3 L923.20,739.2 L924.80,739 L926.40,738.9 L928.00,738.7 L929.60,738.6 L931.20,738.5 L932.80,738.3 L934.40,738.2 L936.00,738 L937.60,737.9 L939.20,737.7 L940.80,737.6 L942.40,737.4 L944.00,737.3 L945.60,737.1 L947.20,737 L948.80,736.8 L950.40,736.7 L952.00,736.5 L953.60,736.4 L955.20,736.2 L956.80,736.1 L958.40,735.9 L960.00,735.8 L961.60,735.7 L963.20,735.6 L964.80,735.6 L966.40,735.5 L968.00,735.5 L969.60,735.4 L971.20,735.3 L972.80,735.3 L974.40,735.2 L976.00,735.2 L977.60,735.1 L979.20,735.1 L980.80,735 L982.40,735 L984.00,734.9 L985.60,734.9 L987.20,734.8 L988.80,734.7 L990.40,734.7 L992.00,734.6 L993.60,734.5 L995.20,734.4 L996.80,734.4 L998.40,734.3 L1000.00,734.3 L1001.60,734.3 L1003.20,734.3 L1004.80,734.3 L1006.40,734.3 L1008.00,734.3 L1009.60,734.3 L1011.20,734.3 L1012.80,734.3 L1014.40,734.3 L1016.00,734.3 L1017.60,734.3 L1019.20,734.3 L1020.80,734.3 L1022.40,734.3 L1024.00,734.3 L1025.60,734.3 L1027.20,734.3 L1028.80,734.3 L1030.40,734.3 L1032.00,734.3 L1033.60,734.3 L1035.20,734.3 L1036.80,734.3 L1038.40,734.3 L1040.00,734.3 L1041.60,734.3 L1043.20,734.3 L1044.80,734.3 L1046.40,734.3 L1048.00,734.3 L1049.60,734.3 L1051.20,734.3 L1052.80,734.3 L1054.40,734.3 L1056.00,734.3 L1057.60,734.3 L1059.20,734.3 L1060.80,734.3 L1062.40,734.3 L1064.00,734.3 L1065.60,734.3 L1067.20,734.3 L1068.80,734.3 L1070.40,734.3 L1072.00,734.3 L1073.60,734.3 L1075.20,734.3 L1076.80,734.3 L1078.40,734.3 L1080.00,734.3 L1081.60,734.3 L1083.20,734.3 L1084.80,734.3 L1086.40,734.3 L1088.00,734.3 L1089.60,734.3 L1091.20,734.3 L1092.80,734.3 L1094.40,734.3 L1096.00,734.3 L1097.60,734.4 L1099.20,734.4 L1100.80,734.4 L1102.40,734.4 L1104.00,734.4 L1105.60,734.4 L1107.20,734.5 L1108.80,734.5 L1110.40,734.6 L1112.00,734.6 L1113.60,734.7 L1115.20,734.7 L1116.80,734.8 L1118.40,734.8 L1120.00,734.9 L1121.60,734.9 L1123.20,735 L1124.80,735 L1126.40,735.1 L1128.00,735.1 L1129.60,735.2 L1131.20,735.2 L1132.80,735.2 L1134.40,735.3 L1136.00,735.3 L1137.60,735.4 L1139.20,735.4 L1140.80,735.5 L1142.40,735.5 L1144.00,735.5 L1145.60,735.6 L1147.20,735.6 L1148.80,735.7 L1150.40,735.7 L1152.00,735.7 L1153.60,735.8 L1155.20,735.8 L1156.80,735.9 L1158.40,735.9 L1160.00,735.9 L1161.60,736 L1163.20,736 L1164.80,736.1 L1166.40,736.1 L1168.00,736.1 L1169.60,736.2 L1171.20,736.2 L1172.80,736.2 L1174.40,736.3 L1176.00,736.3 L1177.60,736.4 L1179.20,736.4 L1180.80,736.4 L1182.40,736.5 L1184.00,736.5 L1185.60,736.6 L1187.20,736.6 L1188.80,736.7 L1190.40,736.7 L1192.00,736.8 L1193.60,736.8 L1195.20,736.8 L1196.80,736.9 L1198.40,736.9 L1200.00,737 L1201.60,737 L1203.20,737.1 L1204.80,737.1 L1206.40,737.1 L1208.00,737.2 L1209.60,737.2 L1211.20,737.3 L1212.80,737.3 L1214.40,737.3 L1216.00,737.4 L1217.60,737.4 L1219.20,737.4 L1220.80,737.5 L1222.40,737.5 L1224.00,737.5 L1225.60,737.6 L1227.20,737.6 L1228.80,737.6 L1230.40,737.7 L1232.00,737.7 L1233.60,737.7 L1235.20,737.8 L1236.80,737.8 L1238.40,737.8" stroke="#419ad0"/>
<path d="M200.00,449.1 L201.60,450.2 L203.20,451.4 L204.80,452.6 L206.40,453.8 L208.00,454.9 L209.60,455.8 L211.20,456.7 L212.80,457.6 L214.40,458.5 L216.00,459.4 L217.60,460.3 L219.20,461.3 L220.80,462.2 L222.40,463.1 L224.00,464 L225.60,464.9 L227.20,465.8 L228.80,467.7 L230.40,469.5 L232.00,471.4 L233.60,473.2 L235.20,475.3 L236.80,478 L238.40,480.5 L240.00,482.7 L241.60,485 L243.20,487.4 L244.80,490 L246.40,493.1 L248.00,496.8 L249.60,500.6 L251.20,504.1 L252.80,507.4 L254.40,510.5 L256.00,513.5 L257.60,516.8 L259.20,520.4 L260.80,524.3 L262.40,528.1 L264.00,531.4 L265.60,534.4 L267.20,537.1 L268.80,539.9 L270.40,542.6 L272.00,545.3 L273.60,548.1 L275.20,550.9 L276.80,553.8 L278.40,556.8 L280.00,559.7 L281.60,562.7 L283.20,565.7 L284.80,568.8 L286.40,572.2 L288.00,575.8 L289.60,579.5 L291.20,583.1 L292.80,586.3 L294.40,589.3 L296.00,592.2 L297.60,595.1 L299.20,597.9 L300.80,600.7 L302.40,603.4 L304.00,606.1 L305.60,608.8 L307.20,611.6 L308.80,614.3 L310.40,617.2 L312.00,620.2 L313.60,623.4 L315.20,626.5 L316.80,629.7 L318.40,632.7 L320.00,635.3 L321.60,637.2 L323.20,638.9 L324.80,640.5 L326.40,642.1 L328.00,643.7 L329.60,645.5 L331.20,647.9 L332.80,650.6 L334.40,653.4 L336.00,656.1 L337.60,658.6 L339.20,660.7 L340.80,662.6 L342.40,664.6 L344.00,666.5 L345.60,668.4 L347.20,670.4 L348.80,672.3 L350.40,674.2 L352.00,676.2 L353.60,678.2 L355.20,680.4 L356.80,682.6 L358.40,684.8 L360.00,687.1 L361.60,689.3 L363.20,691.6 L364.80,693.8 L366.40,696 L368.00,697.9 L369.60,699.3 L371.20,700.4 L372.80,701.4 L374.40,702.5 L376.00,703.5 L377.60,704.6 L379.20,705.6 L380.80,706.7 L382.40,707.7 L384.00,708.8 L385.60,709.8 L387.20,710.9 L388.80,711.9 L390.40,712.9 L392.00,713.7 L393.60,714.5 L395.20,715.2 L396.80,715.9 L398.40,716.6 L400.00,717.3 L401.60,718 L403.20,718.6 L404.80,719.2 L406.40,719.5 L408.00,719.6 L409.60,719.6 L411.20,719.6 L412.80,719.6 L414.40,719.6 L416.00,719.4 L417.60,719 L419.20,718.5 L420.80,717.9 L422.40,717.3 L424.00,716.7 L425.60,716.1 L427.20,715.4 L428.80,714.8 L430.40,714.2 L432.00,713.6 L433.60,712.7 L435.20,711.8 L436.80,710.9 L438.40,709.9 L440.00,708.9 L441.60,708 L443.20,707 L444.80,705.9 L446.40,704.5 L448.00,702.7 L449.60,700.8 L451.20,698.8 L452.80,696.8 L454.40,694.8 L456.00,692.7 L457.60,690.6 L459.20,688.5 L460.80,686.5 L462.40,684.8 L464.00,683.4 L465.60,681.9 L467.20,680.5 L468.80,679.2 L470.40,677.8 L472.00,676.6 L473.60,675.3 L475.20,674.2 L476.80,673 L478.40,671.8 L480.00,670.5 L481.60,669.3 L483.20,668 L484.80,666.7 L486.40,665.3 L488.00,664 L489.60,662.7 L491.20,661.5 L492.80,660.2 L494.40,658.9 L496.00,657.7 L497.60,656.4 L499.20,655.2 L500.80,653.9 L502.40,652.7 L504.00,651.4 L505.60,650.2 L507.20,648.9 L508.80,647.7 L510.40,646.5 L512.00,645.3 L513.60,644.1 L515.20,642.9 L516.80,641.8 L518.40,640.6 L520.00,639.5 L521.60,638.5 L523.20,637.6 L524.80,636.7 L526.40,635.8 L528.00,634.9 L529.60,634 L531.20,633.3 L532.80,632.6 L534.40,631.9 L536.00,631.3 L537.60,630.6 L539.20,630 L540.80,629.3 L542.40,628.7 L544.00,628.1 L545.60,627.4 L547.20,626.8 L548.80,626.3 L550.40,625.8 L552.00,625.3 L553.60,624.9 L555.20,624.5 L556.80,624.1 L558.40,623.8 L560.00,623.5 L561.60,623.4 L563.20,623.2 L564.80,623 L566.40,622.8 L568.00,622.7 L569.60,622.5 L571.20,622.4 L572.80,622.5 L574.40,622.6 L576.00,622.8 L577.60,623 L579.20,623.2 L580.80,623.4 L582.40,623.6 L584.00,623.8 L585.60,624.1 L587.20,624.3 L588.80,624.7 L590.40,625.1 L592.00,625.7 L593.60,626.3 L595.20,626.9 L596.80,627.5 L598.40,628.2 L600.00,628.9 L601.60,629.7 L603.20,630.4 L604.80,631.2 L606.40,632 L608.00,632.8 L609.60,633.6 L611.20,634.5 L612.80,635.4 L614.40,636.3 L616.00,637.3 L617.60,638.2 L619.20,639.1 L620.80,640 L622.40,640.9 L624.00,641.9 L625.60,642.8 L627.20,643.7 L628.80,644.6 L630.40,645.7 L632.00,646.7 L633.60,647.8 L635.20,648.9 L636.80,650 L638.40,651.1 L640.00,652.2 L641.60,653.4 L643.20,654.5 L644.80,655.7 L646.40,656.9 L648.00,658 L649.60,659.3 L651.20,660.5 L652.80,661.8 L654.40,663 L656.00,664.3 L657.60,665.5 L659.20,666.8 L660.80,668.1 L662.40,669.3 L664.00,670.5 L665.60,671.8 L667.20,673 L668.80,674.3 L670.40,675.5 L672.00,676.8 L673.60,678 L675.20,679.3 L676.80,680.5 L678.40,681.8 L680.00,683.2 L681.60,684.5 L683.20,685.9 L684.80,687.3 L686.40,688.6 L688.00,689.8 L689.60,690.9 L691.20,692 L692.80,693.1 L694.40,694.2 L696.00,695.3 L697.60,696.4 L699.20,697.5 L700.80,698.5 L702.40,699.6 L704.00,700.7 L705.60,701.8 L707.20,702.9 L708.80,704 L710.40,705.1 L712.00,706.2 L713.60,707.2 L715.20,708.3 L716.80,709.3 L718.40,710.3 L720.00,711.3 L721.60,712.3 L723.20,713.3 L724.80,714.3 L726.40,715.2 L728.00,716.1 L729.60,717.1 L731.20,718 L732.80,718.9 L734.40,719.8 L736.00,720.7 L737.60,721.5 L739.20,722.3 L740.80,723.2 L742.40,724 L744.00,724.8 L745.60,725.6 L747.20,726.3 L748.80,727 L750.40,727.6 L752.00,728.3 L753.60,729 L755.20,729.6 L756.80,730.1 L758.40,730.7 L760.00,731.2 L761.60,731.7 L763.20,732.1 L764.80,732.6 L766.40,733.1 L768.00,733.5 L769.60,733.9 L771.20,734.3 L772.80,734.8 L774.40,735.2 L776.00,735.6 L777.60,736 L779.20,736.3 L780.80,736.7 L782.40,737.1 L784.00,737.5 L785.60,737.8 L787.20,738.1 L788.80,738.4 L790.40,738.6 L792.00,738.9 L793.60,739.1 L795.20,739.3 L796.80,739.6 L798.40,739.7 L800.00,739.9 L801.60,740.1 L803.20,740.2 L804.80,740.4 L806.40,740.6 L808.00,740.7 L809.60,740.8 L811.20,740.9 L812.80,741 L814.40,741.1 L816.00,741.2 L817.60,741.3 L819.20,741.4 L820.80,741.5 L822.40,741.6 L824.00,741.7 L825.60,741.8 L827.20,741.9 L828.80,742 L830.40,742.1 L832.00,742.1 L833.60,742.2 L835.20,742.2 L836.80,742.3 L838.40,742.4 L840.00,742.4 L841.60,742.5 L843.20,742.5 L844.80,742.6 L846.40,742.6 L848.00,742.6 L849.60,742.6 L851.20,742.6 L852.80,742.6 L854.40,742.6 L856.00,742.6 L857.60,742.6 L859.20,742.6 L860.80,742.6 L862.40,742.6 L864.00,742.6 L865.60,742.6 L867.20,742.6 L868.80,742.6 L870.40,742.6 L872.00,742.6 L873.60,742.6 L875.20,742.6 L876.80,742.6 L878.40,742.6 L880.00,742.5 L881.60,742.5 L883.20,742.4 L884.80,742.3 L886.40,742.2 L888.00,742.1 L889.60,742 L891.20,742 L892.80,741.9 L894.40,741.8 L896.00,741.7 L897.60,741.5 L899.20,741.4 L900.80,741.3 L902.40,741.2 L904.00,741 L905.60,740.9 L907.20,740.8 L908.80,740.7 L910.40,740.6 L912.00,740.4 L913.60,740.3 L915.20,740.2 L916.80,740.1 L918.40,739.9 L920.00,739.8 L921.60,739.7 L923.20,739.6 L924.80,739.4 L926.40,739.3 L928.00,739.2 L929.60,739 L931.20,738.9 L932.80,738.8 L934.40,738.6 L936.00,738.5 L937.60,738.4 L939.20,738.2 L940.80,738.1 L942.40,738 L944.00,737.8 L945.60,737.7 L947.20,737.6 L948.80,737.4 L950.40,737.3 L952.00,737.2 L953.60,737 L955.20,736.9 L956.80,736.8 L958.40,736.6 L960.00,736.5 L961.60,736.4 L963.20,736.3 L964.80,736.3 L966.40,736.2 L968.00,736.2 L969.60,736.1 L971.20,736.1 L972.80,736 L974.40,736 L976.00,735.9 L977.60,735.9 L979.20,735.8 L980.80,735.8 L982.40,735.7 L984.00,735.7 L985.60,735.6 L987.20,735.6 L988.80,735.5 L990.40,735.5 L992.00,735.4 L993.60,735.3 L995.20,735.3 L996.80,735.2 L998.40,735.2 L1000.00,735.1 L1001.60,735.1 L1003.20,735.1 L1004.80,735.1 L1006.40,735.1 L1008.00,735.1 L1009.60,735.1 L1011.20,735.1 L1012.80,735.1 L1014.40,735.1 L1016.00,735.1 L1017.60,735.1 L1019.20,735.1 L1020.80,735.1 L1022.40,735.1 L1024.00,735.1 L1025.60,735.1 L1027.20,735.1 L1028.80,735.1 L1030.40,735.1 L1032.00,735.1 L1033.60,735.1 L1035.20,735.1 L1036.80,735.1 L1038.40,735.1 L1040.00,735.1 L1041.60,735.1 L1043.20,735.1 L1044.80,735.1 L1046.40,735.1 L1048.00,735.1 L1049.60,735.1 L1051.20,735.1 L1052.80,735.1 L1054.40,735.1 L1056.00,735.1 L1057.60,735.1 L1059.20,735.1 L1060.80,735.1 L1062.40,735.1 L1064.00,735.2 L1065.60,735.2 L1067.20,735.2 L1068.80,735.2 L1070.40,735.2 L1072.00,735.2 L1073.60,735.2 L1075.20,735.2 L1076.80,735.2 L1078.40,735.2 L1080.00,735.2 L1081.60,735.2 L1083.20,735.2 L1084.80,735.2 L1086.40,735.2 L1088.00,735.2 L1089.60,735.2 L1091.20,735.2 L1092.80,735.2 L1094.40,735.2 L1096.00,735.2 L1097.60,735.2 L1099.20,735.2 L1100.80,735.2 L1102.40,735.2 L1104.00,735.2 L1105.60,735.3 L1107.20,735.3 L1108.80,735.3 L1110.40,735.4 L1112.00,735.4 L1113.60,735.5 L1115.20,735.5 L1116.80,735.6 L1118.40,735.6 L1120.00,735.7 L1121.60,735.7 L1123.20,735.8 L1124.80,735.8 L1126.40,735.8 L1128.00,735.9 L1129.60,735.9 L1131.20,736 L1132.80,736 L1134.40,736 L1136.00,736.1 L1137.60,736.1 L1139.20,736.2 L1140.80,736.2 L1142.40,736.2 L1144.00,736.3 L1145.60,736.3 L1147.20,736.3 L1148.80,736.4 L1150.40,736.4 L1152.00,736.5 L1153.60,736.5 L1155.20,736.5 L1156.80,736.6 L1158.40,736.6 L1160.00,736.6 L1161.60,736.7 L1163.20,736.7 L1164.80,736.7 L1166.40,736.8 L1168.00,736.8 L1169.60,736.8 L1171.20,736.9 L1172.80,736.9 L1174.40,736.9 L1176.00,737 L1177.60,737 L1179.20,737 L1180.80,737.1 L1182.40,737.1 L1184.00,737.2 L1185.60,737.2 L1187.20,737.2 L1188.80,737.3 L1190.40,737.3 L1192.00,737.4 L1193.60,737.4 L1195.20,737.4 L1196.80,737.5 L1198.40,737.5 L1200.00,737.6 L1201.60,737.6 L1203.20,737.6 L1204.80,737.7 L1206.40,737.7 L1208.00,737.8 L1209.60,737.8 L1211.20,737.8 L1212.80,737.8 L1214.40,737.9 L1216.00,737.9 L1217.60,737.9 L1219.20,738 L1220.80,738 L1222.40,738 L1224.00,738.1 L1225.60,738.1 L1227.20,738.1 L1228.80,738.1 L1230.40,738.2 L1232.00,738.2 L1233.60,738.2 L1235.20,738.3 L1236.80,738.3 L1238.40,738.3" stroke="#32b800"/>
</g></g>
<g clip-path="url(#cb)"><g transform="scale(1.25,1)" fill="none" stroke-width="6.2" stroke-linejoin="round">
<path d="M217.20,1457.3 L218.80,1457 L220.40,1456.7 L222.00,1468.5 L223.60,1475.9 L225.20,1478.3 L226.80,1480.7 L228.40,1483 L230.00,1485.4 L231.60,1487.8 L233.20,1490.2 L234.80,1492.5 L236.40,1494.3 L238.00,1495.8 L239.60,1496.9 L241.20,1497.3 L242.80,1497.5 L244.40,1497.6 L246.00,1497.2 L247.60,1496.3 L249.20,1495.1 L250.80,1493.7 L252.40,1492 L254.00,1490.2 L255.60,1488.5 L257.20,1486.8 L258.80,1484.9 L260.40,1482.6 L262.00,1479.9 L263.60,1477.1 L265.20,1474.3 L266.80,1471.5 L268.40,1468.7 L270.00,1465.9 L271.60,1463 L273.20,1459.9 L274.80,1456.9 L276.40,1453.9 L278.00,1450.9 L279.60,1448 L281.20,1445.7 L282.80,1443.6 L284.40,1441.6 L286.00,1439.7 L287.60,1437.7 L289.20,1435.7 L290.80,1433.8 L292.40,1432 L294.00,1430.2 L295.60,1428.4 L297.20,1426.7 L298.80,1424.9 L300.40,1423.3 L302.00,1421.8 L303.60,1420.3 L305.20,1418.8 L306.80,1417.3 L308.40,1415.8 L310.00,1414.6 L311.60,1413.5 L313.20,1412.4 L314.80,1411.3 L316.40,1410.4 L318.00,1410.3 L319.60,1410.8 L321.20,1411.6 L322.80,1412.3 L324.40,1413.5 L326.00,1415.5 L327.60,1418.2 L329.20,1421.1 L330.80,1424.8 L332.40,1429.2 L334.00,1434 L335.60,1439.4 L337.20,1444.9 L338.80,1450.5 L340.40,1456.1 L342.00,1461.7 L343.60,1467.3 L345.20,1472.8 L346.80,1478.4 L348.40,1483.5 L350.00,1487.6 L351.60,1490.9 L353.20,1494 L354.80,1496.3 L356.40,1498 L358.00,1499.5 L359.60,1500.9 L361.20,1501.8 L362.80,1502.4 L364.40,1503 L366.00,1503.2 L367.60,1502.8 L369.20,1502.1 L370.80,1501.6 L372.40,1501.6 L374.00,1502.7 L375.60,1504.3 L377.20,1506 L378.80,1507.5 L380.40,1508.4 L382.00,1509.1 L383.60,1509.6 L385.20,1510 L386.80,1509.5 L388.40,1508.2 L390.00,1506.6 L391.60,1505 L393.20,1503.5 L394.80,1502.2 L396.40,1501.5 L398.00,1501.4 L399.60,1501.2 L401.20,1500.6 L402.80,1499.8 L404.40,1498.9 L406.00,1497.9 L407.60,1496.5 L409.20,1494.8 L410.80,1492.9 L412.40,1491.1 L414.00,1489.3 L415.60,1487.4 L417.20,1485.6 L418.80,1484.2 L420.40,1483.7 L422.00,1483.6 L423.60,1483.6 L425.20,1483.5 L426.80,1483.1 L428.40,1482.3 L430.00,1481.3 L431.60,1480.3 L433.20,1479.2 L434.80,1477.8 L436.40,1475.8 L438.00,1473.5 L439.60,1471.3 L441.20,1469.6 L442.80,1469.2 L444.40,1469.3 L446.00,1469.8 L447.60,1470.5 L449.20,1471.3 L450.80,1472 L452.40,1472.5 L454.00,1472.8 L455.60,1473 L457.20,1473.2 L458.80,1473.5 L460.40,1473.8 L462.00,1474 L463.60,1474.4 L465.20,1474.9 L466.80,1475.4 L468.40,1476.1 L470.00,1477.1 L471.60,1478.4 L473.20,1479.6 L474.80,1480.8 L476.40,1482.1 L478.00,1483.5 L479.60,1485.1 L481.20,1486.7 L482.80,1488.3 L484.40,1489.9 L486.00,1491.5 L487.60,1493.2 L489.20,1494.9 L490.80,1496.8 L492.40,1498.7 L494.00,1500.6 L495.60,1502.5 L497.20,1504.4 L498.80,1506.3 L500.40,1508.2 L502.00,1510.1 L503.60,1511.7 L505.20,1513.2 L506.80,1514.7 L508.40,1516.2 L510.00,1517.7 L511.60,1519.2 L513.20,1520.7 L514.80,1522.2 L516.40,1523.5 L518.00,1524.3 L519.60,1525 L521.20,1525.6 L522.80,1526.2 L524.40,1526.5 L526.00,1526.7 L527.60,1526.8 L529.20,1526.9 L530.80,1527.1 L532.40,1527.1 L534.00,1527.1 L535.60,1527 L537.20,1526.9 L538.80,1526.9 L540.40,1526.8 L542.00,1526.7 L543.60,1526.6 L545.20,1526.5 L546.80,1526.4 L548.40,1526.1 L550.00,1525.9 L551.60,1525.6 L553.20,1525.3 L554.80,1525 L556.40,1524.8 L558.00,1524.5 L559.60,1524.2 L561.20,1523.9 L562.80,1523.7 L564.40,1523.4 L566.00,1523.1 L567.60,1522.7 L569.20,1522.3 L570.80,1521.8 L572.40,1521.3 L574.00,1520.8 L575.60,1520.3 L577.20,1519.8 L578.80,1519.3 L580.40,1518.8 L582.00,1518.3 L583.60,1517.8 L585.20,1517.3 L586.80,1516.8 L588.40,1516.3 L590.00,1515.7 L591.60,1515 L593.20,1514.3 L594.80,1513.6 L596.40,1512.9 L598.00,1512.2 L599.60,1511.5 L601.20,1510.8 L602.80,1510.1 L604.40,1509.4 L606.00,1508.7 L607.60,1508 L609.20,1507.3 L610.80,1506.6 L612.40,1505.8 L614.00,1504.9 L615.60,1504 L617.20,1503.2 L618.80,1502.3 L620.40,1501.4 L622.00,1500.5 L623.60,1499.6 L625.20,1498.7 L626.80,1497.9 L628.40,1497 L630.00,1496.1 L631.60,1495.2 L633.20,1494.3 L634.80,1493.4 L636.40,1492.5 L638.00,1491.6 L639.60,1490.7 L641.20,1489.7 L642.80,1488.7 L644.40,1487.5 L646.00,1486.2 L647.60,1484.9 L649.20,1483.6 L650.80,1482.3 L652.40,1481 L654.00,1479.7 L655.60,1478.4 L657.20,1476.9 L658.80,1475.2 L660.40,1473.5 L662.00,1471.7 L663.60,1469.9 L665.20,1468.1 L666.80,1466.3 L668.40,1464.5 L670.00,1462.7 L671.60,1460.7 L673.20,1458.6 L674.80,1456.4 L676.40,1454.2 L678.00,1452 L679.60,1449.8 L681.20,1447.6 L682.80,1445.4 L684.40,1443.2 L686.00,1440.8 L687.60,1438.2 L689.20,1435.6 L690.80,1433 L692.40,1430.4 L694.00,1427.8 L695.60,1425.2 L697.20,1422.6 L698.80,1419.9 L700.40,1417 L702.00,1414 L703.60,1411 L705.20,1408 L706.80,1405 L708.40,1402 L710.00,1399 L711.60,1396 L713.20,1392.8 L714.80,1389.3 L716.40,1385.8 L718.00,1382.2 L719.60,1378.6 L721.20,1375 L722.80,1371.4 L724.40,1367.8 L726.00,1364.2 L727.60,1360.1 L729.20,1355.5 L730.80,1350.7 L732.40,1346 L734.00,1341.2 L735.60,1336.6 L737.20,1332 L738.80,1327.5 L740.40,1323 L742.00,1318.5 L743.60,1314.2 L745.20,1309.9 L746.80,1305.6 L748.40,1301.3 L750.00,1297 L751.60,1292.7 L753.20,1288.3 L754.80,1284 L756.40,1279.7 L758.00,1275.4 L759.60,1271.1 L761.20,1266.6 L762.80,1262 L764.40,1257.4 L766.00,1252.7 L767.60,1248.1 L769.20,1243.5 L770.80,1238.9 L772.40,1234.3 L774.00,1229.6 L775.60,1225 L777.20,1220.3 L778.80,1215.3 L780.40,1209.8 L782.00,1204.1 L783.60,1198.3 L785.20,1192.6 L786.80,1186.9 L788.40,1181.2 L790.00,1175.5 L791.60,1169.6 L793.20,1163 L794.80,1155.1 L796.40,1146.5 L798.00,1138 L799.60,1129.4 L801.20,1120.8 L802.80,1112.2 L804.40,1103.6 L806.00,1095.1 L807.60,1086.5 L809.20,1078 L810.80,1069.4 L812.40,1060.4 L814.00,1050.9 L815.60,1041.3 L817.20,1031.7 L818.80,1022.7 L820.40,1014 L822.00,1005.4 L823.60,996.7 L825.20,987.8 L826.80,978.5 L828.40,969.2 L830.00,959.9 L831.60,950.6 L833.20,941.1 L834.80,932.6 L836.40,925.5 L838.00,918.6 L839.60,913.2 L841.20,909 L842.80,906.8 L844.40,906.1 L846.00,907.3 L847.60,910.4 L849.20,914.1 L850.80,921 L852.40,927 L854.00,935.9 L855.60,945 L857.20,959.4 L858.80,975.4 L860.40,991.4 L862.00,1006.2 L863.60,1021.1 L865.20,1036.3 L866.80,1052 L868.40,1068.1 L870.00,1084.8 L871.60,1101.6 L873.20,1118.6 L874.80,1136.7 L876.40,1156.3 L878.00,1176.4 L879.60,1196.5 L881.20,1216.6 L882.80,1236.7 L884.40,1256.2 L886.00,1273.3 L887.60,1287.8 L889.20,1301.5 L890.80,1315.2 L892.40,1328.6 L894.00,1341.7 L895.60,1353.9 L897.20,1365.4 L898.80,1376.3 L900.40,1386.7 L902.00,1396.9 L903.60,1407.6 L905.20,1418.7 L906.80,1429.3 L908.40,1438.8 L910.00,1447.7 L911.60,1455.7 L913.20,1462.1 L914.80,1467.7 L916.40,1473 L918.00,1477.9 L919.60,1481.9 L921.20,1485.5 L922.80,1489.2 L924.40,1492.5 L926.00,1495.5 L927.60,1498.2 L929.20,1500.9 L930.80,1503.5 L932.40,1505.7 L934.00,1507.7 L935.60,1509.7 L937.20,1511.7 L938.80,1513.7 L940.40,1515.5 L942.00,1516.9 L943.60,1518.1 L945.20,1519.4 L946.80,1520.6 L948.40,1521.8 L950.00,1522.8 L951.60,1523.5 L953.20,1524.2 L954.80,1524.8 L956.40,1525.4 L958.00,1526 L959.60,1526.6 L961.20,1527.1 L962.80,1527.4 L964.40,1527.6 L966.00,1527.8 L967.60,1528 L969.20,1528.2 L970.80,1528.4 L972.40,1528.7 L974.00,1528.9 L975.60,1529.1 L977.20,1529.3 L978.80,1529.5 L980.40,1529.7 L982.00,1529.8 L983.60,1530 L985.20,1530.2 L986.80,1530.4 L988.40,1530.6 L990.00,1530.7 L991.60,1530.7 L993.20,1530.8 L994.80,1530.8 L996.40,1530.8 L998.00,1530.8 L999.60,1530.8 L1001.20,1530.9 L1002.80,1530.9 L1004.40,1530.9 L1006.00,1530.9 L1007.60,1531 L1009.20,1531 L1010.80,1531 L1012.40,1531 L1014.00,1531.1 L1015.60,1531.1 L1017.20,1531.1 L1018.80,1531.1 L1020.40,1531.1 L1022.00,1531.2 L1023.60,1531.2 L1025.20,1531.2 L1026.80,1531.2 L1028.40,1531.3 L1030.00,1531.3 L1031.60,1531.3 L1033.20,1531.3 L1034.80,1531.4 L1036.40,1531.4 L1038.00,1531.4 L1039.60,1531.4 L1041.20,1531.4 L1042.80,1531.4 L1044.40,1531.4 L1046.00,1531.4 L1047.60,1531.4 L1049.20,1531.4 L1050.80,1531.4 L1052.40,1531.4 L1054.00,1531.4 L1055.60,1531.4 L1057.20,1531.4 L1058.80,1531.4 L1060.40,1531.4 L1062.00,1531.4 L1063.60,1531.4 L1065.20,1531.4 L1066.80,1531.4 L1068.40,1531.4 L1070.00,1531.4 L1071.60,1531.4 L1073.20,1531.4 L1074.80,1531.4 L1076.40,1531.4 L1078.00,1531.4 L1079.60,1531.4 L1081.20,1531.4 L1082.80,1531.4 L1084.40,1531.4 L1086.00,1531.4 L1087.60,1531.4 L1089.20,1531.3 L1090.80,1531.3 L1092.40,1531.3 L1094.00,1531.3 L1095.60,1531.3 L1097.20,1531.3 L1098.80,1531.3 L1100.40,1531.3 L1102.00,1531.3 L1103.60,1531.3 L1105.20,1531.3 L1106.80,1531.3 L1108.40,1531.3 L1110.00,1531.3 L1111.60,1531.3 L1113.20,1531.3 L1114.80,1531.3 L1116.40,1531.3 L1118.00,1531.3 L1119.60,1531.3 L1121.20,1531.3 L1122.80,1531.3 L1124.40,1531.3 L1126.00,1531.3 L1127.60,1531.3 L1129.20,1531.3 L1130.80,1531.3 L1132.40,1531.3 L1134.00,1531.3 L1135.60,1531.3 L1137.20,1531.3 L1138.80,1531.3 L1140.40,1531.3 L1142.00,1531.3 L1143.60,1531.3 L1145.20,1531.3 L1146.80,1531.3 L1148.40,1531.3 L1150.00,1531.3 L1151.60,1531.3 L1153.20,1531.3 L1154.80,1531.3 L1156.40,1531.3 L1158.00,1531.3 L1159.60,1531.3 L1161.20,1531.3 L1162.80,1531.3 L1164.40,1531.3 L1166.00,1531.3 L1167.60,1531.3 L1169.20,1531.3 L1170.80,1531.3 L1172.40,1531.3 L1174.00,1531.3 L1175.60,1531.3 L1177.20,1531.3 L1178.80,1531.3 L1180.40,1531.3 L1182.00,1531.3 L1183.60,1531.3 L1185.20,1531.3 L1186.80,1531.3 L1188.40,1531.2 L1190.00,1531.2 L1191.60,1531.2 L1193.20,1531.2 L1194.80,1531.2 L1196.40,1531.2 L1198.00,1531.2 L1199.60,1531.2 L1201.20,1531.2 L1202.80,1531.2 L1204.40,1531.2 L1206.00,1531.2 L1207.60,1531.2 L1209.20,1531.2 L1210.80,1531.2 L1212.40,1531.2 L1214.00,1531.2 L1215.60,1531.2 L1217.20,1531.2 L1218.80,1531.2 L1220.40,1531.2 L1222.00,1531.2 L1223.60,1531.2 L1225.20,1531.2 L1226.80,1531.2 L1228.40,1531.2 L1230.00,1531.2 L1231.60,1531.2 L1233.20,1531.2 L1234.80,1531.2 L1236.40,1531.2 L1238.00,1531.2 L1238.40,1531.2" stroke="#747474"/>
<path d="M217.20,1462 L218.80,1461.7 L220.40,1461.5 L222.00,1472.5 L223.60,1479.5 L225.20,1481.7 L226.80,1483.9 L228.40,1486.1 L230.00,1488.4 L231.60,1490.6 L233.20,1492.9 L234.80,1495 L236.40,1496.7 L238.00,1498.2 L239.60,1499.1 L241.20,1499.5 L242.80,1499.7 L244.40,1499.8 L246.00,1499.5 L247.60,1498.6 L249.20,1497.5 L250.80,1496.1 L252.40,1494.5 L254.00,1492.9 L255.60,1491.3 L257.20,1489.6 L258.80,1487.9 L260.40,1485.7 L262.00,1483.1 L263.60,1480.5 L265.20,1477.9 L266.80,1475.3 L268.40,1472.7 L270.00,1470.1 L271.60,1467.3 L273.20,1464.5 L274.80,1461.6 L276.40,1458.8 L278.00,1456 L279.60,1453.3 L281.20,1451.1 L282.80,1449.2 L284.40,1447.3 L286.00,1445.4 L287.60,1443.6 L289.20,1441.7 L290.80,1440 L292.40,1438.3 L294.00,1436.6 L295.60,1434.9 L297.20,1433.3 L298.80,1431.6 L300.40,1430.1 L302.00,1428.7 L303.60,1427.3 L305.20,1425.8 L306.80,1424.4 L308.40,1423.1 L310.00,1421.9 L311.60,1420.9 L313.20,1419.9 L314.80,1418.8 L316.40,1418 L318.00,1417.9 L319.60,1418.4 L321.20,1419.1 L322.80,1419.8 L324.40,1420.9 L326.00,1422.8 L327.60,1425.3 L329.20,1428.1 L330.80,1431.5 L332.40,1435.6 L334.00,1440.1 L335.60,1445.2 L337.20,1450.4 L338.80,1455.6 L340.40,1460.9 L342.00,1466.1 L343.60,1471.3 L345.20,1476.6 L346.80,1481.8 L348.40,1486.6 L350.00,1490.4 L351.60,1493.5 L353.20,1496.4 L354.80,1498.6 L356.40,1500.2 L358.00,1501.6 L359.60,1502.8 L361.20,1503.7 L362.80,1504.3 L364.40,1504.8 L366.00,1505 L367.60,1504.7 L369.20,1504 L370.80,1503.5 L372.40,1503.6 L374.00,1504.6 L375.60,1506.1 L377.20,1507.7 L378.80,1509.1 L380.40,1510 L382.00,1510.5 L383.60,1511.1 L385.20,1511.4 L386.80,1511 L388.40,1509.7 L390.00,1508.3 L391.60,1506.8 L393.20,1505.3 L394.80,1504.1 L396.40,1503.5 L398.00,1503.3 L399.60,1503.2 L401.20,1502.7 L402.80,1501.9 L404.40,1501 L406.00,1500.1 L407.60,1498.8 L409.20,1497.1 L410.80,1495.4 L412.40,1493.7 L414.00,1492 L415.60,1490.3 L417.20,1488.6 L418.80,1487.3 L420.40,1486.7 L422.00,1486.7 L423.60,1486.6 L425.20,1486.6 L426.80,1486.2 L428.40,1485.4 L430.00,1484.5 L431.60,1483.5 L433.20,1482.5 L434.80,1481.2 L436.40,1479.3 L438.00,1477.2 L439.60,1475.1 L441.20,1473.6 L442.80,1473.1 L444.40,1473.3 L446.00,1473.7 L447.60,1474.4 L449.20,1475.1 L450.80,1475.8 L452.40,1476.2 L454.00,1476.5 L455.60,1476.7 L457.20,1477 L458.80,1477.2 L460.40,1477.4 L462.00,1477.7 L463.60,1478.1 L465.20,1478.5 L466.80,1479 L468.40,1479.6 L470.00,1480.6 L471.60,1481.7 L473.20,1482.9 L474.80,1484.1 L476.40,1485.3 L478.00,1486.6 L479.60,1488 L481.20,1489.6 L482.80,1491.1 L484.40,1492.6 L486.00,1494.1 L487.60,1495.6 L489.20,1497.3 L490.80,1499.1 L492.40,1500.8 L494.00,1502.6 L495.60,1504.4 L497.20,1506.2 L498.80,1508 L500.40,1509.8 L502.00,1511.5 L503.60,1513 L505.20,1514.4 L506.80,1515.9 L508.40,1517.3 L510.00,1518.7 L511.60,1520.1 L513.20,1521.5 L514.80,1522.9 L516.40,1524.1 L518.00,1524.9 L519.60,1525.5 L521.20,1526.1 L522.80,1526.6 L524.40,1526.9 L526.00,1527.1 L527.60,1527.2 L529.20,1527.3 L530.80,1527.4 L532.40,1527.5 L534.00,1527.5 L535.60,1527.4 L537.20,1527.3 L538.80,1527.2 L540.40,1527.2 L542.00,1527.1 L543.60,1527 L545.20,1526.9 L546.80,1526.8 L548.40,1526.6 L550.00,1526.3 L551.60,1526.1 L553.20,1525.8 L554.80,1525.5 L556.40,1525.3 L558.00,1525 L559.60,1524.8 L561.20,1524.5 L562.80,1524.2 L564.40,1524 L566.00,1523.7 L567.60,1523.4 L569.20,1523 L570.80,1522.5 L572.40,1522 L574.00,1521.5 L575.60,1521.1 L577.20,1520.6 L578.80,1520.1 L580.40,1519.7 L582.00,1519.2 L583.60,1518.7 L585.20,1518.3 L586.80,1517.8 L588.40,1517.3 L590.00,1516.8 L591.60,1516.1 L593.20,1515.5 L594.80,1514.8 L596.40,1514.2 L598.00,1513.5 L599.60,1512.9 L601.20,1512.2 L602.80,1511.5 L604.40,1510.9 L606.00,1510.2 L607.60,1509.6 L609.20,1508.9 L610.80,1508.2 L612.40,1507.5 L614.00,1506.7 L615.60,1505.8 L617.20,1505 L618.80,1504.2 L620.40,1503.4 L622.00,1502.5 L623.60,1501.7 L625.20,1500.9 L626.80,1500 L628.40,1499.2 L630.00,1498.4 L631.60,1497.5 L633.20,1496.7 L634.80,1495.8 L636.40,1495 L638.00,1494.1 L639.60,1493.3 L641.20,1492.4 L642.80,1491.5 L644.40,1490.4 L646.00,1489.1 L647.60,1487.9 L649.20,1486.7 L650.80,1485.5 L652.40,1484.2 L654.00,1483 L655.60,1481.8 L657.20,1480.4 L658.80,1478.8 L660.40,1477.2 L662.00,1475.5 L663.60,1473.8 L665.20,1472.1 L666.80,1470.4 L668.40,1468.7 L670.00,1467 L671.60,1465.2 L673.20,1463.2 L674.80,1461.2 L676.40,1459.1 L678.00,1457 L679.60,1455 L681.20,1452.9 L682.80,1450.9 L684.40,1448.8 L686.00,1446.5 L687.60,1444.1 L689.20,1441.7 L690.80,1439.2 L692.40,1436.8 L694.00,1434.3 L695.60,1431.9 L697.20,1429.4 L698.80,1426.9 L700.40,1424.2 L702.00,1421.4 L703.60,1418.6 L705.20,1415.8 L706.80,1412.9 L708.40,1410.1 L710.00,1407.3 L711.60,1404.5 L713.20,1401.5 L714.80,1398.3 L716.40,1394.9 L718.00,1391.5 L719.60,1388.2 L721.20,1384.8 L722.80,1381.4 L724.40,1378.1 L726.00,1374.6 L727.60,1370.8 L729.20,1366.5 L730.80,1362 L732.40,1357.6 L734.00,1353.1 L735.60,1348.8 L737.20,1344.5 L738.80,1340.2 L740.40,1336 L742.00,1331.8 L743.60,1327.8 L745.20,1323.7 L746.80,1319.7 L748.40,1315.6 L750.00,1311.6 L751.60,1307.6 L753.20,1303.5 L754.80,1299.5 L756.40,1295.4 L758.00,1291.4 L759.60,1287.3 L761.20,1283.1 L762.80,1278.8 L764.40,1274.5 L766.00,1270.1 L767.60,1265.8 L769.20,1261.5 L770.80,1257.1 L772.40,1252.8 L774.00,1248.4 L775.60,1244.1 L777.20,1239.7 L778.80,1235 L780.40,1229.8 L782.00,1224.5 L783.60,1219.1 L785.20,1213.7 L786.80,1208.4 L788.40,1203 L790.00,1197.6 L791.60,1192.2 L793.20,1186 L794.80,1178.5 L796.40,1170.5 L798.00,1162.4 L799.60,1154.4 L801.20,1146.3 L802.80,1138.3 L804.40,1130.3 L806.00,1122.2 L807.60,1114.2 L809.20,1106.2 L810.80,1098.1 L812.40,1089.7 L814.00,1080.8 L815.60,1071.8 L817.20,1062.8 L818.80,1054.3 L820.40,1046.2 L822.00,1038.1 L823.60,1030 L825.20,1021.6 L826.80,1012.9 L828.40,1004.2 L830.00,995.5 L831.60,986.7 L833.20,977.8 L834.80,969.9 L836.40,963.1 L838.00,956.7 L839.60,951.6 L841.20,947.6 L842.80,945.6 L844.40,945 L846.00,946.1 L847.60,949 L849.20,952.4 L850.80,958.9 L852.40,964.6 L854.00,973 L855.60,981.5 L857.20,994.9 L858.80,1009.9 L860.40,1024.9 L862.00,1038.9 L863.60,1052.8 L865.20,1067.1 L866.80,1081.8 L868.40,1096.9 L870.00,1112.6 L871.60,1128.3 L873.20,1144.3 L874.80,1161.3 L876.40,1179.7 L878.00,1198.5 L879.60,1217.3 L881.20,1236.2 L882.80,1255 L884.40,1273.3 L886.00,1289.4 L887.60,1303 L889.20,1315.9 L890.80,1328.7 L892.40,1341.3 L894.00,1353.5 L895.60,1365 L897.20,1375.8 L898.80,1386.1 L900.40,1395.8 L902.00,1405.3 L903.60,1415.4 L905.20,1425.8 L906.80,1435.7 L908.40,1444.6 L910.00,1453 L911.60,1460.5 L913.20,1466.5 L914.80,1471.7 L916.40,1476.8 L918.00,1481.3 L919.60,1485 L921.20,1488.5 L922.80,1491.9 L924.40,1495.1 L926.00,1497.8 L927.60,1500.4 L929.20,1502.9 L930.80,1505.3 L932.40,1507.4 L934.00,1509.3 L935.60,1511.2 L937.20,1513.1 L938.80,1514.9 L940.40,1516.5 L942.00,1517.9 L943.60,1519.1 L945.20,1520.2 L946.80,1521.4 L948.40,1522.5 L950.00,1523.5 L951.60,1524.1 L953.20,1524.7 L954.80,1525.3 L956.40,1525.8 L958.00,1526.4 L959.60,1527 L961.20,1527.4 L962.80,1527.7 L964.40,1528 L966.00,1528.1 L967.60,1528.3 L969.20,1528.5 L970.80,1528.7 L972.40,1528.9 L974.00,1529.1 L975.60,1529.3 L977.20,1529.5 L978.80,1529.7 L980.40,1529.9 L982.00,1530 L983.60,1530.2 L985.20,1530.4 L986.80,1530.6 L988.40,1530.7 L990.00,1530.8 L991.60,1530.9 L993.20,1530.9 L994.80,1530.9 L996.40,1530.9 L998.00,1531 L999.60,1531 L1001.20,1531 L1002.80,1531 L1004.40,1531 L1006.00,1531.1 L1007.60,1531.1 L1009.20,1531.1 L1010.80,1531.1 L1012.40,1531.2 L1014.00,1531.2 L1015.60,1531.2 L1017.20,1531.2 L1018.80,1531.2 L1020.40,1531.3 L1022.00,1531.3 L1023.60,1531.3 L1025.20,1531.3 L1026.80,1531.3 L1028.40,1531.4 L1030.00,1531.4 L1031.60,1531.4 L1033.20,1531.4 L1034.80,1531.5 L1036.40,1531.5 L1038.00,1531.5 L1039.60,1531.5 L1041.20,1531.5 L1042.80,1531.5 L1044.40,1531.5 L1046.00,1531.5 L1047.60,1531.5 L1049.20,1531.5 L1050.80,1531.5 L1052.40,1531.5 L1054.00,1531.5 L1055.60,1531.5 L1057.20,1531.5 L1058.80,1531.5 L1060.40,1531.5 L1062.00,1531.5 L1063.60,1531.5 L1065.20,1531.5 L1066.80,1531.5 L1068.40,1531.5 L1070.00,1531.5 L1071.60,1531.5 L1073.20,1531.5 L1074.80,1531.5 L1076.40,1531.5 L1078.00,1531.5 L1079.60,1531.5 L1081.20,1531.5 L1082.80,1531.5 L1084.40,1531.5 L1086.00,1531.5 L1087.60,1531.5 L1089.20,1531.5 L1090.80,1531.4 L1092.40,1531.4 L1094.00,1531.4 L1095.60,1531.4 L1097.20,1531.4 L1098.80,1531.4 L1100.40,1531.4 L1102.00,1531.4 L1103.60,1531.4 L1105.20,1531.4 L1106.80,1531.4 L1108.40,1531.4 L1110.00,1531.4 L1111.60,1531.4 L1113.20,1531.4 L1114.80,1531.4 L1116.40,1531.4 L1118.00,1531.4 L1119.60,1531.4 L1121.20,1531.4 L1122.80,1531.4 L1124.40,1531.4 L1126.00,1531.4 L1127.60,1531.4 L1129.20,1531.4 L1130.80,1531.4 L1132.40,1531.4 L1134.00,1531.4 L1135.60,1531.4 L1137.20,1531.4 L1138.80,1531.4 L1140.40,1531.4 L1142.00,1531.4 L1143.60,1531.4 L1145.20,1531.4 L1146.80,1531.4 L1148.40,1531.4 L1150.00,1531.4 L1151.60,1531.4 L1153.20,1531.4 L1154.80,1531.4 L1156.40,1531.4 L1158.00,1531.4 L1159.60,1531.4 L1161.20,1531.4 L1162.80,1531.4 L1164.40,1531.4 L1166.00,1531.4 L1167.60,1531.4 L1169.20,1531.4 L1170.80,1531.4 L1172.40,1531.4 L1174.00,1531.4 L1175.60,1531.4 L1177.20,1531.4 L1178.80,1531.4 L1180.40,1531.4 L1182.00,1531.4 L1183.60,1531.4 L1185.20,1531.4 L1186.80,1531.4 L1188.40,1531.4 L1190.00,1531.4 L1191.60,1531.4 L1193.20,1531.4 L1194.80,1531.4 L1196.40,1531.4 L1198.00,1531.3 L1199.60,1531.3 L1201.20,1531.3 L1202.80,1531.3 L1204.40,1531.3 L1206.00,1531.3 L1207.60,1531.3 L1209.20,1531.3 L1210.80,1531.3 L1212.40,1531.3 L1214.00,1531.3 L1215.60,1531.3 L1217.20,1531.3 L1218.80,1531.3 L1220.40,1531.3 L1222.00,1531.3 L1223.60,1531.3 L1225.20,1531.3 L1226.80,1531.3 L1228.40,1531.3 L1230.00,1531.3 L1231.60,1531.3 L1233.20,1531.3 L1234.80,1531.3 L1236.40,1531.3 L1238.00,1531.3 L1238.40,1531.3" stroke="#ff4040"/>
<path d="M217.20,1465.5 L218.80,1465.2 L220.40,1465 L222.00,1475.5 L223.60,1482.1 L225.20,1484.2 L226.80,1486.3 L228.40,1488.4 L230.00,1490.5 L231.60,1492.7 L233.20,1494.8 L234.80,1496.9 L236.40,1498.5 L238.00,1499.9 L239.60,1500.8 L241.20,1501.2 L242.80,1501.3 L244.40,1501.4 L246.00,1501.1 L247.60,1500.3 L249.20,1499.2 L250.80,1497.9 L252.40,1496.4 L254.00,1494.9 L255.60,1493.3 L257.20,1491.8 L258.80,1490.1 L260.40,1488 L262.00,1485.6 L263.60,1483.1 L265.20,1480.6 L266.80,1478.2 L268.40,1475.7 L270.00,1473.1 L271.60,1470.5 L273.20,1467.8 L274.80,1465.1 L276.40,1462.4 L278.00,1459.7 L279.60,1457.2 L281.20,1455.1 L282.80,1453.3 L284.40,1451.5 L286.00,1449.7 L287.60,1448 L289.20,1446.2 L290.80,1444.5 L292.40,1442.9 L294.00,1441.3 L295.60,1439.7 L297.20,1438.1 L298.80,1436.6 L300.40,1435.1 L302.00,1433.8 L303.60,1432.4 L305.20,1431.1 L306.80,1429.8 L308.40,1428.5 L310.00,1427.4 L311.60,1426.4 L313.20,1425.4 L314.80,1424.4 L316.40,1423.7 L318.00,1423.5 L319.60,1424 L321.20,1424.7 L322.80,1425.4 L324.40,1426.4 L326.00,1428.2 L327.60,1430.6 L329.20,1433.2 L330.80,1436.5 L332.40,1440.4 L334.00,1444.7 L335.60,1449.5 L337.20,1454.4 L338.80,1459.4 L340.40,1464.4 L342.00,1469.4 L343.60,1474.4 L345.20,1479.3 L346.80,1484.3 L348.40,1488.9 L350.00,1492.5 L351.60,1495.5 L353.20,1498.2 L354.80,1500.3 L356.40,1501.8 L358.00,1503.1 L359.60,1504.3 L361.20,1505.1 L362.80,1505.7 L364.40,1506.2 L366.00,1506.4 L367.60,1506.1 L369.20,1505.5 L370.80,1505 L372.40,1505 L374.00,1506 L375.60,1507.4 L377.20,1508.9 L378.80,1510.2 L380.40,1511.1 L382.00,1511.6 L383.60,1512.1 L385.20,1512.5 L386.80,1512.1 L388.40,1510.9 L390.00,1509.5 L391.60,1508.1 L393.20,1506.7 L394.80,1505.5 L396.40,1504.9 L398.00,1504.8 L399.60,1504.6 L401.20,1504.1 L402.80,1503.4 L404.40,1502.6 L406.00,1501.7 L407.60,1500.4 L409.20,1498.9 L410.80,1497.3 L412.40,1495.6 L414.00,1494 L415.60,1492.4 L417.20,1490.8 L418.80,1489.5 L420.40,1489 L422.00,1488.9 L423.60,1488.9 L425.20,1488.8 L426.80,1488.5 L428.40,1487.7 L430.00,1486.9 L431.60,1486 L433.20,1485 L434.80,1483.7 L436.40,1481.9 L438.00,1479.9 L439.60,1477.9 L441.20,1476.5 L442.80,1476.1 L444.40,1476.2 L446.00,1476.6 L447.60,1477.3 L449.20,1478 L450.80,1478.6 L452.40,1479 L454.00,1479.3 L455.60,1479.5 L457.20,1479.7 L458.80,1479.9 L460.40,1480.2 L462.00,1480.4 L463.60,1480.8 L465.20,1481.2 L466.80,1481.6 L468.40,1482.2 L470.00,1483.2 L471.60,1484.3 L473.20,1485.4 L474.80,1486.5 L476.40,1487.6 L478.00,1488.9 L479.60,1490.3 L481.20,1491.7 L482.80,1493.1 L484.40,1494.6 L486.00,1496 L487.60,1497.5 L489.20,1499 L490.80,1500.7 L492.40,1502.4 L494.00,1504.1 L495.60,1505.8 L497.20,1507.5 L498.80,1509.2 L500.40,1510.9 L502.00,1512.5 L503.60,1514 L505.20,1515.4 L506.80,1516.7 L508.40,1518 L510.00,1519.4 L511.60,1520.7 L513.20,1522.1 L514.80,1523.4 L516.40,1524.5 L518.00,1525.3 L519.60,1525.9 L521.20,1526.4 L522.80,1526.9 L524.40,1527.2 L526.00,1527.4 L527.60,1527.5 L529.20,1527.6 L530.80,1527.7 L532.40,1527.8 L534.00,1527.7 L535.60,1527.7 L537.20,1527.6 L538.80,1527.5 L540.40,1527.5 L542.00,1527.4 L543.60,1527.3 L545.20,1527.2 L546.80,1527.1 L548.40,1526.9 L550.00,1526.6 L551.60,1526.4 L553.20,1526.1 L554.80,1525.9 L556.40,1525.7 L558.00,1525.4 L559.60,1525.2 L561.20,1524.9 L562.80,1524.7 L564.40,1524.4 L566.00,1524.2 L567.60,1523.9 L569.20,1523.4 L570.80,1523 L572.40,1522.6 L574.00,1522.1 L575.60,1521.7 L577.20,1521.2 L578.80,1520.8 L580.40,1520.3 L582.00,1519.9 L583.60,1519.4 L585.20,1519 L586.80,1518.5 L588.40,1518.1 L590.00,1517.6 L591.60,1517 L593.20,1516.3 L594.80,1515.7 L596.40,1515.1 L598.00,1514.5 L599.60,1513.8 L601.20,1513.2 L602.80,1512.6 L604.40,1512 L606.00,1511.3 L607.60,1510.7 L609.20,1510.1 L610.80,1509.5 L612.40,1508.7 L614.00,1508 L615.60,1507.2 L617.20,1506.4 L618.80,1505.6 L620.40,1504.8 L622.00,1504 L623.60,1503.2 L625.20,1502.4 L626.80,1501.7 L628.40,1500.9 L630.00,1500.1 L631.60,1499.3 L633.20,1498.5 L634.80,1497.6 L636.40,1496.8 L638.00,1496 L639.60,1495.2 L641.20,1494.4 L642.80,1493.5 L644.40,1492.4 L646.00,1491.3 L647.60,1490.1 L649.20,1489 L650.80,1487.8 L652.40,1486.6 L654.00,1485.5 L655.60,1484.3 L657.20,1483 L658.80,1481.5 L660.40,1479.9 L662.00,1478.3 L663.60,1476.7 L665.20,1475.1 L666.80,1473.5 L668.40,1471.9 L670.00,1470.3 L671.60,1468.5 L673.20,1466.6 L674.80,1464.7 L676.40,1462.7 L678.00,1460.8 L679.60,1458.8 L681.20,1456.9 L682.80,1454.9 L684.40,1452.9 L686.00,1450.8 L687.60,1448.5 L689.20,1446.1 L690.80,1443.8 L692.40,1441.5 L694.00,1439.1 L695.60,1436.8 L697.20,1434.5 L698.80,1432.1 L700.40,1429.5 L702.00,1426.9 L703.60,1424.2 L705.20,1421.5 L706.80,1418.8 L708.40,1416.1 L710.00,1413.5 L711.60,1410.8 L713.20,1407.9 L714.80,1404.9 L716.40,1401.7 L718.00,1398.5 L719.60,1395.3 L721.20,1392.1 L722.80,1388.9 L724.40,1385.7 L726.00,1382.4 L727.60,1378.8 L729.20,1374.7 L730.80,1370.4 L732.40,1366.2 L734.00,1361.9 L735.60,1357.8 L737.20,1353.7 L738.80,1349.7 L740.40,1345.6 L742.00,1341.7 L743.60,1337.8 L745.20,1334 L746.80,1330.2 L748.40,1326.3 L750.00,1322.5 L751.60,1318.6 L753.20,1314.8 L754.80,1310.9 L756.40,1307.1 L758.00,1303.2 L759.60,1299.3 L761.20,1295.4 L762.80,1291.3 L764.40,1287.1 L766.00,1283 L767.60,1278.9 L769.20,1274.8 L770.80,1270.6 L772.40,1266.5 L774.00,1262.4 L775.60,1258.3 L777.20,1254.1 L778.80,1249.6 L780.40,1244.7 L782.00,1239.6 L783.60,1234.5 L785.20,1229.4 L786.80,1224.3 L788.40,1219.2 L790.00,1214.1 L791.60,1208.9 L793.20,1203 L794.80,1195.9 L796.40,1188.3 L798.00,1180.6 L799.60,1173 L801.20,1165.3 L802.80,1157.6 L804.40,1150 L806.00,1142.4 L807.60,1134.8 L809.20,1127.1 L810.80,1119.5 L812.40,1111.5 L814.00,1103 L815.60,1094.4 L817.20,1085.9 L818.80,1077.8 L820.40,1070.1 L822.00,1062.4 L823.60,1054.7 L825.20,1046.7 L826.80,1038.4 L828.40,1030.1 L830.00,1021.8 L831.60,1013.5 L833.20,1005 L834.80,997.5 L836.40,991.1 L838.00,985 L839.60,980.1 L841.20,976.3 L842.80,974.4 L844.40,973.8 L846.00,974.9 L847.60,977.6 L849.20,980.9 L850.80,987.1 L852.40,992.5 L854.00,1000.4 L855.60,1008.5 L857.20,1021.3 L858.80,1035.6 L860.40,1049.9 L862.00,1063.1 L863.60,1076.4 L865.20,1090 L866.80,1104 L868.40,1118.3 L870.00,1133.2 L871.60,1148.1 L873.20,1163.3 L874.80,1179.5 L876.40,1197 L878.00,1214.9 L879.60,1232.8 L881.20,1250.7 L882.80,1268.7 L884.40,1286.1 L886.00,1301.4 L887.60,1314.3 L889.20,1326.5 L890.80,1338.7 L892.40,1350.7 L894.00,1362.3 L895.60,1373.3 L897.20,1383.5 L898.80,1393.3 L900.40,1402.5 L902.00,1411.6 L903.60,1421.1 L905.20,1431 L906.80,1440.5 L908.40,1449 L910.00,1456.9 L911.60,1464 L913.20,1469.7 L914.80,1474.7 L916.40,1479.5 L918.00,1483.8 L919.60,1487.4 L921.20,1490.7 L922.80,1493.9 L924.40,1496.9 L926.00,1499.6 L927.60,1502 L929.20,1504.4 L930.80,1506.7 L932.40,1508.7 L934.00,1510.5 L935.60,1512.3 L937.20,1514 L938.80,1515.8 L940.40,1517.4 L942.00,1518.6 L943.60,1519.7 L945.20,1520.8 L946.80,1522 L948.40,1523 L950.00,1523.9 L951.60,1524.6 L953.20,1525.1 L954.80,1525.7 L956.40,1526.2 L958.00,1526.7 L959.60,1527.3 L961.20,1527.7 L962.80,1528 L964.40,1528.2 L966.00,1528.4 L967.60,1528.6 L969.20,1528.8 L970.80,1528.9 L972.40,1529.1 L974.00,1529.3 L975.60,1529.5 L977.20,1529.7 L978.80,1529.8 L980.40,1530 L982.00,1530.2 L983.60,1530.4 L985.20,1530.5 L986.80,1530.7 L988.40,1530.8 L990.00,1530.9 L991.60,1531 L993.20,1531 L994.80,1531 L996.40,1531 L998.00,1531.1 L999.60,1531.1 L1001.20,1531.1 L1002.80,1531.1 L1004.40,1531.1 L1006.00,1531.2 L1007.60,1531.2 L1009.20,1531.2 L1010.80,1531.2 L1012.40,1531.2 L1014.00,1531.3 L1015.60,1531.3 L1017.20,1531.3 L1018.80,1531.3 L1020.40,1531.3 L1022.00,1531.4 L1023.60,1531.4 L1025.20,1531.4 L1026.80,1531.4 L1028.40,1531.4 L1030.00,1531.5 L1031.60,1531.5 L1033.20,1531.5 L1034.80,1531.5 L1036.40,1531.5 L1038.00,1531.6 L1039.60,1531.6 L1041.20,1531.6 L1042.80,1531.6 L1044.40,1531.6 L1046.00,1531.6 L1047.60,1531.6 L1049.20,1531.6 L1050.80,1531.6 L1052.40,1531.6 L1054.00,1531.6 L1055.60,1531.6 L1057.20,1531.6 L1058.80,1531.6 L1060.40,1531.6 L1062.00,1531.6 L1063.60,1531.6 L1065.20,1531.5 L1066.80,1531.5 L1068.40,1531.5 L1070.00,1531.5 L1071.60,1531.5 L1073.20,1531.5 L1074.80,1531.5 L1076.40,1531.5 L1078.00,1531.5 L1079.60,1531.5 L1081.20,1531.5 L1082.80,1531.5 L1084.40,1531.5 L1086.00,1531.5 L1087.60,1531.5 L1089.20,1531.5 L1090.80,1531.5 L1092.40,1531.5 L1094.00,1531.5 L1095.60,1531.5 L1097.20,1531.5 L1098.80,1531.5 L1100.40,1531.5 L1102.00,1531.5 L1103.60,1531.5 L1105.20,1531.5 L1106.80,1531.5 L1108.40,1531.5 L1110.00,1531.5 L1111.60,1531.5 L1113.20,1531.5 L1114.80,1531.5 L1116.40,1531.5 L1118.00,1531.5 L1119.60,1531.5 L1121.20,1531.5 L1122.80,1531.5 L1124.40,1531.5 L1126.00,1531.5 L1127.60,1531.5 L1129.20,1531.5 L1130.80,1531.5 L1132.40,1531.5 L1134.00,1531.5 L1135.60,1531.5 L1137.20,1531.5 L1138.80,1531.5 L1140.40,1531.5 L1142.00,1531.5 L1143.60,1531.5 L1145.20,1531.5 L1146.80,1531.5 L1148.40,1531.5 L1150.00,1531.5 L1151.60,1531.5 L1153.20,1531.5 L1154.80,1531.5 L1156.40,1531.5 L1158.00,1531.5 L1159.60,1531.5 L1161.20,1531.5 L1162.80,1531.5 L1164.40,1531.5 L1166.00,1531.5 L1167.60,1531.5 L1169.20,1531.5 L1170.80,1531.5 L1172.40,1531.5 L1174.00,1531.5 L1175.60,1531.5 L1177.20,1531.4 L1178.80,1531.4 L1180.40,1531.4 L1182.00,1531.4 L1183.60,1531.4 L1185.20,1531.4 L1186.80,1531.4 L1188.40,1531.4 L1190.00,1531.4 L1191.60,1531.4 L1193.20,1531.4 L1194.80,1531.4 L1196.40,1531.4 L1198.00,1531.4 L1199.60,1531.4 L1201.20,1531.4 L1202.80,1531.4 L1204.40,1531.4 L1206.00,1531.4 L1207.60,1531.4 L1209.20,1531.4 L1210.80,1531.4 L1212.40,1531.4 L1214.00,1531.4 L1215.60,1531.4 L1217.20,1531.4 L1218.80,1531.4 L1220.40,1531.4 L1222.00,1531.4 L1223.60,1531.4 L1225.20,1531.4 L1226.80,1531.4 L1228.40,1531.4 L1230.00,1531.4 L1231.60,1531.4 L1233.20,1531.4 L1234.80,1531.4 L1236.40,1531.4 L1238.00,1531.4 L1238.40,1531.4" stroke="#0070e4"/>
<path d="M217.20,1469 L218.80,1468.7 L220.40,1468.5 L222.00,1478.5 L223.60,1484.7 L225.20,1486.7 L226.80,1488.7 L228.40,1490.7 L230.00,1492.7 L231.60,1494.8 L233.20,1496.8 L234.80,1498.7 L236.40,1500.3 L238.00,1501.6 L239.60,1502.4 L241.20,1502.8 L242.80,1503 L244.40,1503 L246.00,1502.8 L247.60,1502 L249.20,1501 L250.80,1499.7 L252.40,1498.3 L254.00,1496.8 L255.60,1495.4 L257.20,1493.9 L258.80,1492.3 L260.40,1490.3 L262.00,1488 L263.60,1485.7 L265.20,1483.3 L266.80,1481 L268.40,1478.6 L270.00,1476.2 L271.60,1473.7 L273.20,1471.2 L274.80,1468.6 L276.40,1466.1 L278.00,1463.5 L279.60,1461.1 L281.20,1459.1 L282.80,1457.4 L284.40,1455.7 L286.00,1454 L287.60,1452.3 L289.20,1450.7 L290.80,1449.1 L292.40,1447.6 L294.00,1446.1 L295.60,1444.6 L297.20,1443 L298.80,1441.6 L300.40,1440.2 L302.00,1438.9 L303.60,1437.6 L305.20,1436.4 L306.80,1435.1 L308.40,1433.9 L310.00,1432.8 L311.60,1431.9 L313.20,1430.9 L314.80,1430 L316.40,1429.3 L318.00,1429.2 L319.60,1429.6 L321.20,1430.3 L322.80,1430.9 L324.40,1431.9 L326.00,1433.6 L327.60,1435.8 L329.20,1438.3 L330.80,1441.4 L332.40,1445.2 L334.00,1449.3 L335.60,1453.8 L337.20,1458.5 L338.80,1463.2 L340.40,1467.9 L342.00,1472.7 L343.60,1477.4 L345.20,1482.1 L346.80,1486.8 L348.40,1491.2 L350.00,1494.6 L351.60,1497.4 L353.20,1500 L354.80,1502 L356.40,1503.4 L358.00,1504.7 L359.60,1505.8 L361.20,1506.6 L362.80,1507.1 L364.40,1507.6 L366.00,1507.8 L367.60,1507.5 L369.20,1506.9 L370.80,1506.4 L372.40,1506.4 L374.00,1507.4 L375.60,1508.8 L377.20,1510.2 L378.80,1511.4 L380.40,1512.2 L382.00,1512.7 L383.60,1513.2 L385.20,1513.5 L386.80,1513.1 L388.40,1512 L390.00,1510.7 L391.60,1509.3 L393.20,1508 L394.80,1506.9 L396.40,1506.4 L398.00,1506.2 L399.60,1506.1 L401.20,1505.6 L402.80,1504.9 L404.40,1504.1 L406.00,1503.3 L407.60,1502.1 L409.20,1500.7 L410.80,1499.1 L412.40,1497.6 L414.00,1496 L415.60,1494.4 L417.20,1492.9 L418.80,1491.8 L420.40,1491.3 L422.00,1491.2 L423.60,1491.2 L425.20,1491.1 L426.80,1490.8 L428.40,1490.1 L430.00,1489.2 L431.60,1488.4 L433.20,1487.5 L434.80,1486.3 L436.40,1484.6 L438.00,1482.6 L439.60,1480.8 L441.20,1479.4 L442.80,1479 L444.40,1479.1 L446.00,1479.5 L447.60,1480.1 L449.20,1480.8 L450.80,1481.4 L452.40,1481.8 L454.00,1482 L455.60,1482.2 L457.20,1482.5 L458.80,1482.7 L460.40,1482.9 L462.00,1483.1 L463.60,1483.5 L465.20,1483.8 L466.80,1484.3 L468.40,1484.8 L470.00,1485.7 L471.60,1486.8 L473.20,1487.8 L474.80,1488.9 L476.40,1490 L478.00,1491.1 L479.60,1492.5 L481.20,1493.8 L482.80,1495.2 L484.40,1496.5 L486.00,1497.9 L487.60,1499.3 L489.20,1500.8 L490.80,1502.4 L492.40,1504 L494.00,1505.6 L495.60,1507.2 L497.20,1508.8 L498.80,1510.5 L500.40,1512.1 L502.00,1513.6 L503.60,1515 L505.20,1516.3 L506.80,1517.5 L508.40,1518.8 L510.00,1520.1 L511.60,1521.3 L513.20,1522.6 L514.80,1523.9 L516.40,1524.9 L518.00,1525.7 L519.60,1526.2 L521.20,1526.7 L522.80,1527.2 L524.40,1527.5 L526.00,1527.6 L527.60,1527.8 L529.20,1527.9 L530.80,1528 L532.40,1528 L534.00,1528 L535.60,1527.9 L537.20,1527.9 L538.80,1527.8 L540.40,1527.7 L542.00,1527.7 L543.60,1527.6 L545.20,1527.5 L546.80,1527.4 L548.40,1527.2 L550.00,1527 L551.60,1526.7 L553.20,1526.5 L554.80,1526.3 L556.40,1526 L558.00,1525.8 L559.60,1525.6 L561.20,1525.3 L562.80,1525.1 L564.40,1524.9 L566.00,1524.6 L567.60,1524.3 L569.20,1523.9 L570.80,1523.5 L572.40,1523.1 L574.00,1522.7 L575.60,1522.2 L577.20,1521.8 L578.80,1521.4 L580.40,1521 L582.00,1520.6 L583.60,1520.1 L585.20,1519.7 L586.80,1519.3 L588.40,1518.8 L590.00,1518.3 L591.60,1517.8 L593.20,1517.2 L594.80,1516.6 L596.40,1516 L598.00,1515.4 L599.60,1514.8 L601.20,1514.2 L602.80,1513.6 L604.40,1513.1 L606.00,1512.5 L607.60,1511.9 L609.20,1511.3 L610.80,1510.7 L612.40,1510 L614.00,1509.3 L615.60,1508.5 L617.20,1507.8 L618.80,1507 L620.40,1506.3 L622.00,1505.5 L623.60,1504.8 L625.20,1504 L626.80,1503.3 L628.40,1502.5 L630.00,1501.8 L631.60,1501 L633.20,1500.2 L634.80,1499.5 L636.40,1498.7 L638.00,1497.9 L639.60,1497.2 L641.20,1496.4 L642.80,1495.5 L644.40,1494.5 L646.00,1493.4 L647.60,1492.3 L649.20,1491.2 L650.80,1490.1 L652.40,1489 L654.00,1487.9 L655.60,1486.8 L657.20,1485.6 L658.80,1484.1 L660.40,1482.6 L662.00,1481.1 L663.60,1479.6 L665.20,1478.1 L666.80,1476.6 L668.40,1475 L670.00,1473.5 L671.60,1471.9 L673.20,1470.1 L674.80,1468.2 L676.40,1466.4 L678.00,1464.5 L679.60,1462.6 L681.20,1460.8 L682.80,1458.9 L684.40,1457 L686.00,1455 L687.60,1452.8 L689.20,1450.6 L690.80,1448.4 L692.40,1446.2 L694.00,1444 L695.60,1441.8 L697.20,1439.6 L698.80,1437.3 L700.40,1434.9 L702.00,1432.3 L703.60,1429.8 L705.20,1427.3 L706.80,1424.7 L708.40,1422.2 L710.00,1419.6 L711.60,1417.1 L713.20,1414.4 L714.80,1411.5 L716.40,1408.4 L718.00,1405.4 L719.60,1402.4 L721.20,1399.3 L722.80,1396.3 L724.40,1393.3 L726.00,1390.2 L727.60,1386.7 L729.20,1382.8 L730.80,1378.8 L732.40,1374.8 L734.00,1370.8 L735.60,1366.8 L737.20,1363 L738.80,1359.1 L740.40,1355.3 L742.00,1351.6 L743.60,1347.9 L745.20,1344.3 L746.80,1340.6 L748.40,1337 L750.00,1333.3 L751.60,1329.7 L753.20,1326 L754.80,1322.4 L756.40,1318.7 L758.00,1315.1 L759.60,1311.4 L761.20,1307.6 L762.80,1303.7 L764.40,1299.8 L766.00,1295.9 L767.60,1292 L769.20,1288.1 L770.80,1284.2 L772.40,1280.3 L774.00,1276.4 L775.60,1272.4 L777.20,1268.5 L778.80,1264.2 L780.40,1259.5 L782.00,1254.7 L783.60,1249.9 L785.20,1245 L786.80,1240.2 L788.40,1235.4 L790.00,1230.5 L791.60,1225.6 L793.20,1220 L794.80,1213.3 L796.40,1206.1 L798.00,1198.8 L799.60,1191.5 L801.20,1184.3 L802.80,1177 L804.40,1169.8 L806.00,1162.5 L807.60,1155.3 L809.20,1148.1 L810.80,1140.8 L812.40,1133.2 L814.00,1125.2 L815.60,1117 L817.20,1108.9 L818.80,1101.3 L820.40,1093.9 L822.00,1086.6 L823.60,1079.3 L825.20,1071.8 L826.80,1063.9 L828.40,1056 L830.00,1048.2 L831.60,1040.3 L833.20,1032.2 L834.80,1025.1 L836.40,1019 L838.00,1013.2 L839.60,1008.6 L841.20,1005.1 L842.80,1003.2 L844.40,1002.6 L846.00,1003.7 L847.60,1006.3 L849.20,1009.4 L850.80,1015.2 L852.40,1020.4 L854.00,1027.9 L855.60,1035.6 L857.20,1047.7 L858.80,1061.2 L860.40,1074.8 L862.00,1087.3 L863.60,1099.9 L865.20,1112.8 L866.80,1126.1 L868.40,1139.7 L870.00,1153.8 L871.60,1168 L873.20,1182.4 L874.80,1197.8 L876.40,1214.3 L878.00,1231.3 L879.60,1248.3 L881.20,1265.3 L882.80,1282.3 L884.40,1298.8 L886.00,1313.3 L887.60,1325.6 L889.20,1337.2 L890.80,1348.7 L892.40,1360.1 L894.00,1371.1 L895.60,1381.5 L897.20,1391.2 L898.80,1400.5 L900.40,1409.2 L902.00,1417.9 L903.60,1426.9 L905.20,1436.3 L906.80,1445.3 L908.40,1453.3 L910.00,1460.8 L911.60,1467.6 L913.20,1473 L914.80,1477.7 L916.40,1482.3 L918.00,1486.4 L919.60,1489.8 L921.20,1492.9 L922.80,1495.9 L924.40,1498.8 L926.00,1501.3 L927.60,1503.6 L929.20,1505.8 L930.80,1508 L932.40,1509.9 L934.00,1511.6 L935.60,1513.3 L937.20,1515 L938.80,1516.7 L940.40,1518.2 L942.00,1519.4 L943.60,1520.4 L945.20,1521.5 L946.80,1522.5 L948.40,1523.5 L950.00,1524.4 L951.60,1525 L953.20,1525.5 L954.80,1526 L956.40,1526.5 L958.00,1527.1 L959.60,1527.6 L961.20,1528 L962.80,1528.3 L964.40,1528.4 L966.00,1528.6 L967.60,1528.8 L969.20,1529 L970.80,1529.1 L972.40,1529.3 L974.00,1529.5 L975.60,1529.7 L977.20,1529.8 L978.80,1530 L980.40,1530.2 L982.00,1530.3 L983.60,1530.5 L985.20,1530.7 L986.80,1530.8 L988.40,1531 L990.00,1531 L991.60,1531.1 L993.20,1531.1 L994.80,1531.1 L996.40,1531.1 L998.00,1531.2 L999.60,1531.2 L1001.20,1531.2 L1002.80,1531.2 L1004.40,1531.2 L1006.00,1531.3 L1007.60,1531.3 L1009.20,1531.3 L1010.80,1531.3 L1012.40,1531.3 L1014.00,1531.4 L1015.60,1531.4 L1017.20,1531.4 L1018.80,1531.4 L1020.40,1531.4 L1022.00,1531.4 L1023.60,1531.5 L1025.20,1531.5 L1026.80,1531.5 L1028.40,1531.5 L1030.00,1531.5 L1031.60,1531.6 L1033.20,1531.6 L1034.80,1531.6 L1036.40,1531.6 L1038.00,1531.6 L1039.60,1531.6 L1041.20,1531.6 L1042.80,1531.6 L1044.40,1531.6 L1046.00,1531.6 L1047.60,1531.6 L1049.20,1531.6 L1050.80,1531.6 L1052.40,1531.6 L1054.00,1531.6 L1055.60,1531.6 L1057.20,1531.6 L1058.80,1531.6 L1060.40,1531.6 L1062.00,1531.6 L1063.60,1531.6 L1065.20,1531.6 L1066.80,1531.6 L1068.40,1531.6 L1070.00,1531.6 L1071.60,1531.6 L1073.20,1531.6 L1074.80,1531.6 L1076.40,1531.6 L1078.00,1531.6 L1079.60,1531.6 L1081.20,1531.6 L1082.80,1531.6 L1084.40,1531.6 L1086.00,1531.6 L1087.60,1531.6 L1089.20,1531.6 L1090.80,1531.6 L1092.40,1531.6 L1094.00,1531.6 L1095.60,1531.6 L1097.20,1531.6 L1098.80,1531.6 L1100.40,1531.6 L1102.00,1531.6 L1103.60,1531.6 L1105.20,1531.6 L1106.80,1531.6 L1108.40,1531.6 L1110.00,1531.6 L1111.60,1531.6 L1113.20,1531.6 L1114.80,1531.6 L1116.40,1531.6 L1118.00,1531.6 L1119.60,1531.6 L1121.20,1531.6 L1122.80,1531.6 L1124.40,1531.6 L1126.00,1531.6 L1127.60,1531.6 L1129.20,1531.6 L1130.80,1531.6 L1132.40,1531.6 L1134.00,1531.6 L1135.60,1531.6 L1137.20,1531.6 L1138.80,1531.6 L1140.40,1531.6 L1142.00,1531.6 L1143.60,1531.6 L1145.20,1531.6 L1146.80,1531.6 L1148.40,1531.6 L1150.00,1531.6 L1151.60,1531.6 L1153.20,1531.5 L1154.80,1531.5 L1156.40,1531.5 L1158.00,1531.5 L1159.60,1531.5 L1161.20,1531.5 L1162.80,1531.5 L1164.40,1531.5 L1166.00,1531.5 L1167.60,1531.5 L1169.20,1531.5 L1170.80,1531.5 L1172.40,1531.5 L1174.00,1531.5 L1175.60,1531.5 L1177.20,1531.5 L1178.80,1531.5 L1180.40,1531.5 L1182.00,1531.5 L1183.60,1531.5 L1185.20,1531.5 L1186.80,1531.5 L1188.40,1531.5 L1190.00,1531.5 L1191.60,1531.5 L1193.20,1531.5 L1194.80,1531.5 L1196.40,1531.5 L1198.00,1531.5 L1199.60,1531.5 L1201.20,1531.5 L1202.80,1531.5 L1204.40,1531.5 L1206.00,1531.5 L1207.60,1531.5 L1209.20,1531.5 L1210.80,1531.5 L1212.40,1531.5 L1214.00,1531.5 L1215.60,1531.5 L1217.20,1531.5 L1218.80,1531.5 L1220.40,1531.5 L1222.00,1531.5 L1223.60,1531.5 L1225.20,1531.5 L1226.80,1531.5 L1228.40,1531.5 L1230.00,1531.5 L1231.60,1531.5 L1233.20,1531.5 L1234.80,1531.5 L1236.40,1531.5 L1238.00,1531.5 L1238.40,1531.5" stroke="#00af66"/>
<path d="M217.20,1473.3 L218.80,1473.1 L220.40,1472.9 L222.00,1482.2 L223.60,1488 L225.20,1489.9 L226.80,1491.8 L228.40,1493.6 L230.00,1495.5 L231.60,1497.4 L233.20,1499.3 L234.80,1501.1 L236.40,1502.5 L238.00,1503.7 L239.60,1504.5 L241.20,1504.9 L242.80,1505 L244.40,1505.1 L246.00,1504.8 L247.60,1504.1 L249.20,1503.2 L250.80,1502 L252.40,1500.7 L254.00,1499.3 L255.60,1497.9 L257.20,1496.6 L258.80,1495.1 L260.40,1493.2 L262.00,1491.1 L263.60,1488.9 L265.20,1486.7 L266.80,1484.6 L268.40,1482.4 L270.00,1480.1 L271.60,1477.8 L273.20,1475.4 L274.80,1473 L276.40,1470.7 L278.00,1468.3 L279.60,1466.1 L281.20,1464.2 L282.80,1462.6 L284.40,1461 L286.00,1459.4 L287.60,1457.9 L289.20,1456.3 L290.80,1454.9 L292.40,1453.4 L294.00,1452 L295.60,1450.6 L297.20,1449.2 L298.80,1447.8 L300.40,1446.5 L302.00,1445.3 L303.60,1444.2 L305.20,1443 L306.80,1441.8 L308.40,1440.7 L310.00,1439.7 L311.60,1438.8 L313.20,1437.9 L314.80,1437.1 L316.40,1436.4 L318.00,1436.3 L319.60,1436.7 L321.20,1437.3 L322.80,1437.9 L324.40,1438.8 L326.00,1440.4 L327.60,1442.5 L329.20,1444.8 L330.80,1447.7 L332.40,1451.2 L334.00,1455 L335.60,1459.2 L337.20,1463.6 L338.80,1468 L340.40,1472.4 L342.00,1476.8 L343.60,1481.2 L345.20,1485.6 L346.80,1490 L348.40,1494 L350.00,1497.2 L351.60,1499.9 L353.20,1502.2 L354.80,1504.1 L356.40,1505.4 L358.00,1506.6 L359.60,1507.7 L361.20,1508.4 L362.80,1508.9 L364.40,1509.3 L366.00,1509.5 L367.60,1509.2 L369.20,1508.7 L370.80,1508.2 L372.40,1508.3 L374.00,1509.1 L375.60,1510.4 L377.20,1511.7 L378.80,1512.9 L380.40,1513.6 L382.00,1514.1 L383.60,1514.6 L385.20,1514.9 L386.80,1514.5 L388.40,1513.4 L390.00,1512.2 L391.60,1511 L393.20,1509.7 L394.80,1508.7 L396.40,1508.2 L398.00,1508.1 L399.60,1507.9 L401.20,1507.5 L402.80,1506.8 L404.40,1506.1 L406.00,1505.3 L407.60,1504.2 L409.20,1502.9 L410.80,1501.4 L412.40,1500 L414.00,1498.5 L415.60,1497.1 L417.20,1495.7 L418.80,1494.6 L420.40,1494.1 L422.00,1494.1 L423.60,1494.1 L425.20,1494 L426.80,1493.7 L428.40,1493 L430.00,1492.2 L431.60,1491.4 L433.20,1490.6 L434.80,1489.5 L436.40,1487.9 L438.00,1486.1 L439.60,1484.3 L441.20,1483.1 L442.80,1482.7 L444.40,1482.8 L446.00,1483.2 L447.60,1483.8 L449.20,1484.4 L450.80,1485 L452.40,1485.3 L454.00,1485.5 L455.60,1485.7 L457.20,1485.9 L458.80,1486.1 L460.40,1486.3 L462.00,1486.5 L463.60,1486.9 L465.20,1487.2 L466.80,1487.6 L468.40,1488.1 L470.00,1489 L471.60,1489.9 L473.20,1490.9 L474.80,1491.9 L476.40,1492.9 L478.00,1494 L479.60,1495.2 L481.20,1496.5 L482.80,1497.8 L484.40,1499 L486.00,1500.3 L487.60,1501.6 L489.20,1503 L490.80,1504.5 L492.40,1506 L494.00,1507.5 L495.60,1509 L497.20,1510.5 L498.80,1512 L500.40,1513.5 L502.00,1514.9 L503.60,1516.2 L505.20,1517.4 L506.80,1518.6 L508.40,1519.8 L510.00,1521 L511.60,1522.1 L513.20,1523.3 L514.80,1524.5 L516.40,1525.5 L518.00,1526.2 L519.60,1526.7 L521.20,1527.2 L522.80,1527.6 L524.40,1527.9 L526.00,1528 L527.60,1528.1 L529.20,1528.2 L530.80,1528.3 L532.40,1528.4 L534.00,1528.4 L535.60,1528.3 L537.20,1528.2 L538.80,1528.2 L540.40,1528.1 L542.00,1528 L543.60,1528 L545.20,1527.9 L546.80,1527.8 L548.40,1527.6 L550.00,1527.4 L551.60,1527.2 L553.20,1526.9 L554.80,1526.7 L556.40,1526.5 L558.00,1526.3 L559.60,1526.1 L561.20,1525.9 L562.80,1525.6 L564.40,1525.4 L566.00,1525.2 L567.60,1524.9 L569.20,1524.6 L570.80,1524.2 L572.40,1523.8 L574.00,1523.4 L575.60,1523 L577.20,1522.6 L578.80,1522.2 L580.40,1521.8 L582.00,1521.4 L583.60,1521 L585.20,1520.6 L586.80,1520.2 L588.40,1519.8 L590.00,1519.4 L591.60,1518.8 L593.20,1518.3 L594.80,1517.7 L596.40,1517.2 L598.00,1516.6 L599.60,1516.1 L601.20,1515.5 L602.80,1515 L604.40,1514.4 L606.00,1513.9 L607.60,1513.3 L609.20,1512.8 L610.80,1512.2 L612.40,1511.6 L614.00,1510.9 L615.60,1510.2 L617.20,1509.5 L618.80,1508.8 L620.40,1508.1 L622.00,1507.4 L623.60,1506.7 L625.20,1506 L626.80,1505.3 L628.40,1504.6 L630.00,1503.9 L631.60,1503.2 L633.20,1502.5 L634.80,1501.8 L636.40,1501.1 L638.00,1500.3 L639.60,1499.6 L641.20,1498.9 L642.80,1498.1 L644.40,1497.2 L646.00,1496.2 L647.60,1495.1 L649.20,1494.1 L650.80,1493.1 L652.40,1492 L654.00,1491 L655.60,1490 L657.20,1488.8 L658.80,1487.5 L660.40,1486.1 L662.00,1484.7 L663.60,1483.3 L665.20,1481.8 L666.80,1480.4 L668.40,1479 L670.00,1477.6 L671.60,1476.1 L673.20,1474.4 L674.80,1472.7 L676.40,1470.9 L678.00,1469.2 L679.60,1467.5 L681.20,1465.7 L682.80,1464 L684.40,1462.2 L686.00,1460.3 L687.60,1458.3 L689.20,1456.3 L690.80,1454.2 L692.40,1452.1 L694.00,1450.1 L695.60,1448 L697.20,1446 L698.80,1443.9 L700.40,1441.6 L702.00,1439.2 L703.60,1436.9 L705.20,1434.5 L706.80,1432.1 L708.40,1429.8 L710.00,1427.4 L711.60,1425 L713.20,1422.5 L714.80,1419.8 L716.40,1417 L718.00,1414.2 L719.60,1411.3 L721.20,1408.5 L722.80,1405.7 L724.40,1402.9 L726.00,1400 L727.60,1396.8 L729.20,1393.1 L730.80,1389.4 L732.40,1385.6 L734.00,1381.9 L735.60,1378.2 L737.20,1374.6 L738.80,1371.1 L740.40,1367.5 L742.00,1364 L743.60,1360.6 L745.20,1357.2 L746.80,1353.8 L748.40,1350.4 L750.00,1347 L751.60,1343.6 L753.20,1340.2 L754.80,1336.8 L756.40,1333.4 L758.00,1330 L759.60,1326.6 L761.20,1323.1 L762.80,1319.4 L764.40,1315.8 L766.00,1312.2 L767.60,1308.5 L769.20,1304.9 L770.80,1301.2 L772.40,1297.6 L774.00,1293.9 L775.60,1290.3 L777.20,1286.6 L778.80,1282.6 L780.40,1278.3 L782.00,1273.8 L783.60,1269.3 L785.20,1264.8 L786.80,1260.3 L788.40,1255.8 L790.00,1251.3 L791.60,1246.7 L793.20,1241.5 L794.80,1235.2 L796.40,1228.5 L798.00,1221.7 L799.60,1214.9 L801.20,1208.2 L802.80,1201.4 L804.40,1194.7 L806.00,1187.9 L807.60,1181.2 L809.20,1174.5 L810.80,1167.7 L812.40,1160.6 L814.00,1153.1 L815.60,1145.5 L817.20,1138 L818.80,1130.9 L820.40,1124 L822.00,1117.2 L823.60,1110.4 L825.20,1103.4 L826.80,1096.1 L828.40,1088.7 L830.00,1081.4 L831.60,1074 L833.20,1066.6 L834.80,1059.9 L836.40,1054.3 L838.00,1048.9 L839.60,1044.6 L841.20,1041.2 L842.80,1039.5 L844.40,1039 L846.00,1040 L847.60,1042.4 L849.20,1045.3 L850.80,1050.7 L852.40,1055.5 L854.00,1062.5 L855.60,1069.7 L857.20,1081 L858.80,1093.6 L860.40,1106.2 L862.00,1117.9 L863.60,1129.6 L865.20,1141.6 L866.80,1154 L868.40,1166.7 L870.00,1179.8 L871.60,1193 L873.20,1206.4 L874.80,1220.7 L876.40,1236.2 L878.00,1252 L879.60,1267.8 L881.20,1283.7 L882.80,1299.5 L884.40,1314.9 L886.00,1328.4 L887.60,1339.8 L889.20,1350.6 L890.80,1361.3 L892.40,1371.9 L894.00,1382.2 L895.60,1391.9 L897.20,1400.9 L898.80,1409.6 L900.40,1417.7 L902.00,1425.8 L903.60,1434.2 L905.20,1442.9 L906.80,1451.3 L908.40,1458.8 L910.00,1465.8 L911.60,1472.1 L913.20,1477.1 L914.80,1481.5 L916.40,1485.7 L918.00,1489.6 L919.60,1492.7 L921.20,1495.6 L922.80,1498.5 L924.40,1501.1 L926.00,1503.5 L927.60,1505.6 L929.20,1507.7 L930.80,1509.7 L932.40,1511.5 L934.00,1513.1 L935.60,1514.7 L937.20,1516.2 L938.80,1517.8 L940.40,1519.2 L942.00,1520.3 L943.60,1521.3 L945.20,1522.3 L946.80,1523.2 L948.40,1524.2 L950.00,1525 L951.60,1525.6 L953.20,1526 L954.80,1526.5 L956.40,1527 L958.00,1527.5 L959.60,1527.9 L961.20,1528.3 L962.80,1528.6 L964.40,1528.8 L966.00,1528.9 L967.60,1529.1 L969.20,1529.2 L970.80,1529.4 L972.40,1529.6 L974.00,1529.7 L975.60,1529.9 L977.20,1530.1 L978.80,1530.2 L980.40,1530.4 L982.00,1530.5 L983.60,1530.7 L985.20,1530.8 L986.80,1531 L988.40,1531.1 L990.00,1531.2 L991.60,1531.2 L993.20,1531.2 L994.80,1531.2 L996.40,1531.3 L998.00,1531.3 L999.60,1531.3 L1001.20,1531.3 L1002.80,1531.3 L1004.40,1531.4 L1006.00,1531.4 L1007.60,1531.4 L1009.20,1531.4 L1010.80,1531.4 L1012.40,1531.4 L1014.00,1531.5 L1015.60,1531.5 L1017.20,1531.5 L1018.80,1531.5 L1020.40,1531.5 L1022.00,1531.6 L1023.60,1531.6 L1025.20,1531.6 L1026.80,1531.6 L1028.40,1531.6 L1030.00,1531.6 L1031.60,1531.7 L1033.20,1531.7 L1034.80,1531.7 L1036.40,1531.7 L1038.00,1531.7 L1039.60,1531.7 L1041.20,1531.7 L1042.80,1531.7 L1044.40,1531.7 L1046.00,1531.7 L1047.60,1531.7 L1049.20,1531.7 L1050.80,1531.7 L1052.40,1531.7 L1054.00,1531.7 L1055.60,1531.7 L1057.20,1531.7 L1058.80,1531.7 L1060.40,1531.7 L1062.00,1531.7 L1063.60,1531.7 L1065.20,1531.7 L1066.80,1531.7 L1068.40,1531.7 L1070.00,1531.7 L1071.60,1531.7 L1073.20,1531.7 L1074.80,1531.7 L1076.40,1531.7 L1078.00,1531.7 L1079.60,1531.7 L1081.20,1531.7 L1082.80,1531.7 L1084.40,1531.7 L1086.00,1531.7 L1087.60,1531.7 L1089.20,1531.7 L1090.80,1531.7 L1092.40,1531.7 L1094.00,1531.7 L1095.60,1531.7 L1097.20,1531.7 L1098.80,1531.7 L1100.40,1531.7 L1102.00,1531.7 L1103.60,1531.7 L1105.20,1531.7 L1106.80,1531.7 L1108.40,1531.7 L1110.00,1531.7 L1111.60,1531.7 L1113.20,1531.7 L1114.80,1531.7 L1116.40,1531.7 L1118.00,1531.7 L1119.60,1531.7 L1121.20,1531.7 L1122.80,1531.7 L1124.40,1531.7 L1126.00,1531.7 L1127.60,1531.7 L1129.20,1531.7 L1130.80,1531.7 L1132.40,1531.7 L1134.00,1531.7 L1135.60,1531.7 L1137.20,1531.7 L1138.80,1531.7 L1140.40,1531.7 L1142.00,1531.7 L1143.60,1531.7 L1145.20,1531.7 L1146.80,1531.7 L1148.40,1531.7 L1150.00,1531.7 L1151.60,1531.6 L1153.20,1531.6 L1154.80,1531.6 L1156.40,1531.6 L1158.00,1531.6 L1159.60,1531.6 L1161.20,1531.6 L1162.80,1531.6 L1164.40,1531.6 L1166.00,1531.6 L1167.60,1531.6 L1169.20,1531.6 L1170.80,1531.6 L1172.40,1531.6 L1174.00,1531.6 L1175.60,1531.6 L1177.20,1531.6 L1178.80,1531.6 L1180.40,1531.6 L1182.00,1531.6 L1183.60,1531.6 L1185.20,1531.6 L1186.80,1531.6 L1188.40,1531.6 L1190.00,1531.6 L1191.60,1531.6 L1193.20,1531.6 L1194.80,1531.6 L1196.40,1531.6 L1198.00,1531.6 L1199.60,1531.6 L1201.20,1531.6 L1202.80,1531.6 L1204.40,1531.6 L1206.00,1531.6 L1207.60,1531.6 L1209.20,1531.6 L1210.80,1531.6 L1212.40,1531.6 L1214.00,1531.6 L1215.60,1531.6 L1217.20,1531.6 L1218.80,1531.6 L1220.40,1531.6 L1222.00,1531.6 L1223.60,1531.6 L1225.20,1531.6 L1226.80,1531.6 L1228.40,1531.6 L1230.00,1531.6 L1231.60,1531.6 L1233.20,1531.6 L1234.80,1531.6 L1236.40,1531.6 L1238.00,1531.6 L1238.40,1531.6" stroke="#c279e3"/>
<path d="M217.20,1479.6 L218.80,1479.4 L220.40,1479.2 L222.00,1487.5 L223.60,1492.7 L225.20,1494.4 L226.80,1496.1 L228.40,1497.7 L230.00,1499.4 L231.60,1501.1 L233.20,1502.8 L234.80,1504.4 L236.40,1505.7 L238.00,1506.8 L239.60,1507.5 L241.20,1507.8 L242.80,1507.9 L244.40,1508 L246.00,1507.8 L247.60,1507.1 L249.20,1506.3 L250.80,1505.2 L252.40,1504 L254.00,1502.8 L255.60,1501.6 L257.20,1500.4 L258.80,1499 L260.40,1497.4 L262.00,1495.5 L263.60,1493.5 L265.20,1491.6 L266.80,1489.6 L268.40,1487.6 L270.00,1485.6 L271.60,1483.5 L273.20,1481.4 L274.80,1479.3 L276.40,1477.1 L278.00,1475 L279.60,1473 L281.20,1471.4 L282.80,1469.9 L284.40,1468.5 L286.00,1467.1 L287.60,1465.7 L289.20,1464.3 L290.80,1463 L292.40,1461.7 L294.00,1460.5 L295.60,1459.2 L297.20,1457.9 L298.80,1456.7 L300.40,1455.5 L302.00,1454.5 L303.60,1453.4 L305.20,1452.3 L306.80,1451.3 L308.40,1450.3 L310.00,1449.4 L311.60,1448.6 L313.20,1447.8 L314.80,1447.1 L316.40,1446.5 L318.00,1446.4 L319.60,1446.7 L321.20,1447.3 L322.80,1447.8 L324.40,1448.6 L326.00,1450 L327.60,1451.9 L329.20,1454 L330.80,1456.6 L332.40,1459.7 L334.00,1463.1 L335.60,1466.9 L337.20,1470.8 L338.80,1474.8 L340.40,1478.7 L342.00,1482.6 L343.60,1486.6 L345.20,1490.5 L346.80,1494.5 L348.40,1498.1 L350.00,1500.9 L351.60,1503.3 L353.20,1505.4 L354.80,1507.1 L356.40,1508.3 L358.00,1509.4 L359.60,1510.3 L361.20,1511 L362.80,1511.4 L364.40,1511.8 L366.00,1512 L367.60,1511.7 L369.20,1511.2 L370.80,1510.8 L372.40,1510.8 L374.00,1511.6 L375.60,1512.8 L377.20,1513.9 L378.80,1515 L380.40,1515.7 L382.00,1516.1 L383.60,1516.5 L385.20,1516.7 L386.80,1516.4 L388.40,1515.5 L390.00,1514.4 L391.60,1513.3 L393.20,1512.2 L394.80,1511.2 L396.40,1510.8 L398.00,1510.7 L399.60,1510.6 L401.20,1510.2 L402.80,1509.6 L404.40,1508.9 L406.00,1508.2 L407.60,1507.2 L409.20,1506 L410.80,1504.7 L412.40,1503.4 L414.00,1502.1 L415.60,1500.8 L417.20,1499.6 L418.80,1498.6 L420.40,1498.2 L422.00,1498.1 L423.60,1498.1 L425.20,1498.1 L426.80,1497.8 L428.40,1497.2 L430.00,1496.5 L431.60,1495.8 L433.20,1495 L434.80,1494 L436.40,1492.6 L438.00,1491 L439.60,1489.4 L441.20,1488.3 L442.80,1487.9 L444.40,1488.1 L446.00,1488.4 L447.60,1488.9 L449.20,1489.5 L450.80,1490 L452.40,1490.3 L454.00,1490.5 L455.60,1490.6 L457.20,1490.8 L458.80,1491 L460.40,1491.2 L462.00,1491.4 L463.60,1491.7 L465.20,1492 L466.80,1492.3 L468.40,1492.8 L470.00,1493.6 L471.60,1494.4 L473.20,1495.3 L474.80,1496.2 L476.40,1497.1 L478.00,1498.1 L479.60,1499.2 L481.20,1500.3 L482.80,1501.4 L484.40,1502.6 L486.00,1503.7 L487.60,1504.9 L489.20,1506.1 L490.80,1507.5 L492.40,1508.8 L494.00,1510.1 L495.60,1511.5 L497.20,1512.8 L498.80,1514.2 L500.40,1515.5 L502.00,1516.8 L503.60,1518 L505.20,1519 L506.80,1520.1 L508.40,1521.2 L510.00,1522.2 L511.60,1523.3 L513.20,1524.3 L514.80,1525.4 L516.40,1526.3 L518.00,1526.9 L519.60,1527.3 L521.20,1527.8 L522.80,1528.2 L524.40,1528.4 L526.00,1528.5 L527.60,1528.6 L529.20,1528.7 L530.80,1528.8 L532.40,1528.9 L534.00,1528.8 L535.60,1528.8 L537.20,1528.7 L538.80,1528.7 L540.40,1528.6 L542.00,1528.6 L543.60,1528.5 L545.20,1528.4 L546.80,1528.3 L548.40,1528.2 L550.00,1528 L551.60,1527.8 L553.20,1527.6 L554.80,1527.4 L556.40,1527.2 L558.00,1527 L559.60,1526.8 L561.20,1526.6 L562.80,1526.4 L564.40,1526.2 L566.00,1526 L567.60,1525.8 L569.20,1525.4 L570.80,1525.1 L572.40,1524.7 L574.00,1524.4 L575.60,1524 L577.20,1523.7 L578.80,1523.3 L580.40,1523 L582.00,1522.6 L583.60,1522.3 L585.20,1521.9 L586.80,1521.6 L588.40,1521.2 L590.00,1520.8 L591.60,1520.3 L593.20,1519.8 L594.80,1519.3 L596.40,1518.8 L598.00,1518.3 L599.60,1517.8 L601.20,1517.3 L602.80,1516.8 L604.40,1516.4 L606.00,1515.9 L607.60,1515.4 L609.20,1514.9 L610.80,1514.4 L612.40,1513.8 L614.00,1513.2 L615.60,1512.6 L617.20,1511.9 L618.80,1511.3 L620.40,1510.7 L622.00,1510.1 L623.60,1509.4 L625.20,1508.8 L626.80,1508.2 L628.40,1507.6 L630.00,1506.9 L631.60,1506.3 L633.20,1505.7 L634.80,1505 L636.40,1504.4 L638.00,1503.7 L639.60,1503.1 L641.20,1502.5 L642.80,1501.7 L644.40,1500.9 L646.00,1500 L647.60,1499.1 L649.20,1498.1 L650.80,1497.2 L652.40,1496.3 L654.00,1495.4 L655.60,1494.4 L657.20,1493.4 L658.80,1492.2 L660.40,1491 L662.00,1489.7 L663.60,1488.4 L665.20,1487.2 L666.80,1485.9 L668.40,1484.6 L670.00,1483.4 L671.60,1482 L673.20,1480.5 L674.80,1478.9 L676.40,1477.4 L678.00,1475.8 L679.60,1474.3 L681.20,1472.7 L682.80,1471.2 L684.40,1469.6 L686.00,1467.9 L687.60,1466.1 L689.20,1464.2 L690.80,1462.4 L692.40,1460.6 L694.00,1458.7 L695.60,1456.9 L697.20,1455 L698.80,1453.1 L700.40,1451.1 L702.00,1449 L703.60,1446.9 L705.20,1444.8 L706.80,1442.6 L708.40,1440.5 L710.00,1438.4 L711.60,1436.3 L713.20,1434 L714.80,1431.6 L716.40,1429.1 L718.00,1426.5 L719.60,1424 L721.20,1421.5 L722.80,1418.9 L724.40,1416.4 L726.00,1413.8 L727.60,1410.9 L729.20,1407.7 L730.80,1404.3 L732.40,1400.9 L734.00,1397.6 L735.60,1394.3 L737.20,1391.1 L738.80,1387.9 L740.40,1384.7 L742.00,1381.6 L743.60,1378.5 L745.20,1375.5 L746.80,1372.5 L748.40,1369.4 L750.00,1366.4 L751.60,1363.3 L753.20,1360.3 L754.80,1357.2 L756.40,1354.2 L758.00,1351.1 L759.60,1348.1 L761.20,1344.9 L762.80,1341.7 L764.40,1338.4 L766.00,1335.1 L767.60,1331.9 L769.20,1328.6 L770.80,1325.4 L772.40,1322.1 L774.00,1318.8 L775.60,1315.6 L777.20,1312.2 L778.80,1308.7 L780.40,1304.8 L782.00,1300.8 L783.60,1296.7 L785.20,1292.7 L786.80,1288.7 L788.40,1284.6 L790.00,1280.6 L791.60,1276.5 L793.20,1271.8 L794.80,1266.2 L796.40,1260.2 L798.00,1254.1 L799.60,1248 L801.20,1242 L802.80,1235.9 L804.40,1229.9 L806.00,1223.8 L807.60,1217.8 L809.20,1211.8 L810.80,1205.7 L812.40,1199.4 L814.00,1192.7 L815.60,1185.8 L817.20,1179.1 L818.80,1172.7 L820.40,1166.6 L822.00,1160.5 L823.60,1154.4 L825.20,1148.1 L826.80,1141.5 L828.40,1135 L830.00,1128.4 L831.60,1121.8 L833.20,1115.1 L834.80,1109.1 L836.40,1104.1 L838.00,1099.3 L839.60,1095.4 L841.20,1092.4 L842.80,1090.9 L844.40,1090.4 L846.00,1091.3 L847.60,1093.4 L849.20,1096 L850.80,1100.9 L852.40,1105.2 L854.00,1111.5 L855.60,1117.9 L857.20,1128 L858.80,1139.3 L860.40,1150.6 L862.00,1161.1 L863.60,1171.6 L865.20,1182.3 L866.80,1193.4 L868.40,1204.8 L870.00,1216.6 L871.60,1228.4 L873.20,1240.4 L874.80,1253.2 L876.40,1267.1 L878.00,1281.2 L879.60,1295.4 L881.20,1309.6 L882.80,1323.8 L884.40,1337.6 L886.00,1349.7 L887.60,1359.9 L889.20,1369.6 L890.80,1379.2 L892.40,1388.7 L894.00,1397.9 L895.60,1406.6 L897.20,1414.7 L898.80,1422.4 L900.40,1429.7 L902.00,1436.9 L903.60,1444.5 L905.20,1452.3 L906.80,1459.8 L908.40,1466.5 L910.00,1472.8 L911.60,1478.4 L913.20,1482.9 L914.80,1486.9 L916.40,1490.7 L918.00,1494.1 L919.60,1496.9 L921.20,1499.5 L922.80,1502 L924.40,1504.4 L926.00,1506.5 L927.60,1508.4 L929.20,1510.3 L930.80,1512.1 L932.40,1513.7 L934.00,1515.2 L935.60,1516.6 L937.20,1518 L938.80,1519.4 L940.40,1520.6 L942.00,1521.6 L943.60,1522.5 L945.20,1523.4 L946.80,1524.3 L948.40,1525.1 L950.00,1525.8 L951.60,1526.3 L953.20,1526.8 L954.80,1527.2 L956.40,1527.6 L958.00,1528 L959.60,1528.5 L961.20,1528.8 L962.80,1529 L964.40,1529.2 L966.00,1529.3 L967.60,1529.5 L969.20,1529.6 L970.80,1529.8 L972.40,1529.9 L974.00,1530.1 L975.60,1530.2 L977.20,1530.4 L978.80,1530.5 L980.40,1530.6 L982.00,1530.8 L983.60,1530.9 L985.20,1531 L986.80,1531.2 L988.40,1531.3 L990.00,1531.4 L991.60,1531.4 L993.20,1531.4 L994.80,1531.4 L996.40,1531.4 L998.00,1531.5 L999.60,1531.5 L1001.20,1531.5 L1002.80,1531.5 L1004.40,1531.5 L1006.00,1531.5 L1007.60,1531.6 L1009.20,1531.6 L1010.80,1531.6 L1012.40,1531.6 L1014.00,1531.6 L1015.60,1531.6 L1017.20,1531.7 L1018.80,1531.7 L1020.40,1531.7 L1022.00,1531.7 L1023.60,1531.7 L1025.20,1531.7 L1026.80,1531.8 L1028.40,1531.8 L1030.00,1531.8 L1031.60,1531.8 L1033.20,1531.8 L1034.80,1531.8 L1036.40,1531.9 L1038.00,1531.9 L1039.60,1531.9 L1041.20,1531.9 L1042.80,1531.9 L1044.40,1531.9 L1046.00,1531.9 L1047.60,1531.9 L1049.20,1531.9 L1050.80,1531.9 L1052.40,1531.9 L1054.00,1531.9 L1055.60,1531.9 L1057.20,1531.9 L1058.80,1531.9 L1060.40,1531.9 L1062.00,1531.9 L1063.60,1531.9 L1065.20,1531.9 L1066.80,1531.9 L1068.40,1531.8 L1070.00,1531.8 L1071.60,1531.8 L1073.20,1531.8 L1074.80,1531.8 L1076.40,1531.8 L1078.00,1531.8 L1079.60,1531.8 L1081.20,1531.8 L1082.80,1531.8 L1084.40,1531.8 L1086.00,1531.8 L1087.60,1531.8 L1089.20,1531.8 L1090.80,1531.8 L1092.40,1531.8 L1094.00,1531.8 L1095.60,1531.8 L1097.20,1531.8 L1098.80,1531.8 L1100.40,1531.8 L1102.00,1531.8 L1103.60,1531.8 L1105.20,1531.8 L1106.80,1531.8 L1108.40,1531.8 L1110.00,1531.8 L1111.60,1531.8 L1113.20,1531.8 L1114.80,1531.8 L1116.40,1531.8 L1118.00,1531.8 L1119.60,1531.8 L1121.20,1531.8 L1122.80,1531.8 L1124.40,1531.8 L1126.00,1531.8 L1127.60,1531.8 L1129.20,1531.8 L1130.80,1531.8 L1132.40,1531.8 L1134.00,1531.8 L1135.60,1531.8 L1137.20,1531.8 L1138.80,1531.8 L1140.40,1531.8 L1142.00,1531.8 L1143.60,1531.8 L1145.20,1531.8 L1146.80,1531.8 L1148.40,1531.8 L1150.00,1531.8 L1151.60,1531.8 L1153.20,1531.8 L1154.80,1531.8 L1156.40,1531.8 L1158.00,1531.8 L1159.60,1531.8 L1161.20,1531.8 L1162.80,1531.8 L1164.40,1531.8 L1166.00,1531.8 L1167.60,1531.8 L1169.20,1531.8 L1170.80,1531.8 L1172.40,1531.8 L1174.00,1531.8 L1175.60,1531.8 L1177.20,1531.8 L1178.80,1531.8 L1180.40,1531.8 L1182.00,1531.8 L1183.60,1531.8 L1185.20,1531.8 L1186.80,1531.8 L1188.40,1531.8 L1190.00,1531.8 L1191.60,1531.8 L1193.20,1531.8 L1194.80,1531.8 L1196.40,1531.8 L1198.00,1531.8 L1199.60,1531.8 L1201.20,1531.8 L1202.80,1531.8 L1204.40,1531.8 L1206.00,1531.8 L1207.60,1531.8 L1209.20,1531.7 L1210.80,1531.7 L1212.40,1531.7 L1214.00,1531.7 L1215.60,1531.7 L1217.20,1531.7 L1218.80,1531.7 L1220.40,1531.7 L1222.00,1531.7 L1223.60,1531.7 L1225.20,1531.7 L1226.80,1531.7 L1228.40,1531.7 L1230.00,1531.7 L1231.60,1531.7 L1233.20,1531.7 L1234.80,1531.7 L1236.40,1531.7 L1238.00,1531.7 L1238.40,1531.7" stroke="#dc9c00"/>
<path d="M217.20,1485.5 L218.80,1485.4 L220.40,1485.2 L222.00,1492.6 L223.60,1497.2 L225.20,1498.7 L226.80,1500.2 L228.40,1501.7 L230.00,1503.2 L231.60,1504.7 L233.20,1506.2 L234.80,1507.6 L236.40,1508.8 L238.00,1509.7 L239.60,1510.4 L241.20,1510.6 L242.80,1510.7 L244.40,1510.8 L246.00,1510.6 L247.60,1510 L249.20,1509.3 L250.80,1508.3 L252.40,1507.3 L254.00,1506.2 L255.60,1505.1 L257.20,1504 L258.80,1502.8 L260.40,1501.4 L262.00,1499.7 L263.60,1497.9 L265.20,1496.2 L266.80,1494.5 L268.40,1492.7 L270.00,1490.9 L271.60,1489.1 L273.20,1487.2 L274.80,1485.3 L276.40,1483.4 L278.00,1481.5 L279.60,1479.7 L281.20,1478.3 L282.80,1477 L284.40,1475.7 L286.00,1474.5 L287.60,1473.2 L289.20,1472 L290.80,1470.8 L292.40,1469.7 L294.00,1468.6 L295.60,1467.4 L297.20,1466.3 L298.80,1465.2 L300.40,1464.2 L302.00,1463.3 L303.60,1462.3 L305.20,1461.4 L306.80,1460.4 L308.40,1459.5 L310.00,1458.7 L311.60,1458 L313.20,1457.4 L314.80,1456.7 L316.40,1456.1 L318.00,1456 L319.60,1456.4 L321.20,1456.9 L322.80,1457.3 L324.40,1458.1 L326.00,1459.3 L327.60,1461 L329.20,1462.8 L330.80,1465.1 L332.40,1467.9 L334.00,1470.9 L335.60,1474.3 L337.20,1477.8 L338.80,1481.3 L340.40,1484.8 L342.00,1488.3 L343.60,1491.8 L345.20,1495.3 L346.80,1498.8 L348.40,1502 L350.00,1504.5 L351.60,1506.6 L353.20,1508.5 L354.80,1510 L356.40,1511.1 L358.00,1512 L359.60,1512.8 L361.20,1513.4 L362.80,1513.8 L364.40,1514.2 L366.00,1514.3 L367.60,1514.1 L369.20,1513.6 L370.80,1513.3 L372.40,1513.3 L374.00,1514 L375.60,1515 L377.20,1516.1 L378.80,1517 L380.40,1517.6 L382.00,1518 L383.60,1518.3 L385.20,1518.6 L386.80,1518.3 L388.40,1517.4 L390.00,1516.5 L391.60,1515.5 L393.20,1514.5 L394.80,1513.7 L396.40,1513.3 L398.00,1513.2 L399.60,1513.1 L401.20,1512.7 L402.80,1512.2 L404.40,1511.6 L406.00,1511 L407.60,1510.1 L409.20,1509 L410.80,1507.9 L412.40,1506.7 L414.00,1505.6 L415.60,1504.4 L417.20,1503.3 L418.80,1502.4 L420.40,1502.1 L422.00,1502 L423.60,1502 L425.20,1502 L426.80,1501.7 L428.40,1501.2 L430.00,1500.6 L431.60,1499.9 L433.20,1499.3 L434.80,1498.4 L436.40,1497.1 L438.00,1495.7 L439.60,1494.3 L441.20,1493.3 L442.80,1493 L444.40,1493.1 L446.00,1493.4 L447.60,1493.8 L449.20,1494.3 L450.80,1494.8 L452.40,1495.1 L454.00,1495.2 L455.60,1495.4 L457.20,1495.5 L458.80,1495.7 L460.40,1495.9 L462.00,1496 L463.60,1496.3 L465.20,1496.6 L466.80,1496.9 L468.40,1497.3 L470.00,1498 L471.60,1498.7 L473.20,1499.5 L474.80,1500.3 L476.40,1501.1 L478.00,1502 L479.60,1503 L481.20,1504 L482.80,1505 L484.40,1506 L486.00,1507 L487.60,1508 L489.20,1509.1 L490.80,1510.3 L492.40,1511.5 L494.00,1512.7 L495.60,1513.9 L497.20,1515.1 L498.80,1516.3 L500.40,1517.5 L502.00,1518.6 L503.60,1519.6 L505.20,1520.6 L506.80,1521.5 L508.40,1522.5 L510.00,1523.4 L511.60,1524.4 L513.20,1525.3 L514.80,1526.2 L516.40,1527 L518.00,1527.6 L519.60,1528 L521.20,1528.4 L522.80,1528.7 L524.40,1528.9 L526.00,1529 L527.60,1529.1 L529.20,1529.2 L530.80,1529.3 L532.40,1529.3 L534.00,1529.3 L535.60,1529.3 L537.20,1529.2 L538.80,1529.2 L540.40,1529.1 L542.00,1529.1 L543.60,1529 L545.20,1528.9 L546.80,1528.8 L548.40,1528.7 L550.00,1528.5 L551.60,1528.4 L553.20,1528.2 L554.80,1528 L556.40,1527.8 L558.00,1527.7 L559.60,1527.5 L561.20,1527.3 L562.80,1527.2 L564.40,1527 L566.00,1526.8 L567.60,1526.6 L569.20,1526.3 L570.80,1526 L572.40,1525.7 L574.00,1525.3 L575.60,1525 L577.20,1524.7 L578.80,1524.4 L580.40,1524.1 L582.00,1523.8 L583.60,1523.5 L585.20,1523.2 L586.80,1522.8 L588.40,1522.5 L590.00,1522.1 L591.60,1521.7 L593.20,1521.3 L594.80,1520.8 L596.40,1520.4 L598.00,1520 L599.60,1519.5 L601.20,1519.1 L602.80,1518.7 L604.40,1518.2 L606.00,1517.8 L607.60,1517.3 L609.20,1516.9 L610.80,1516.4 L612.40,1515.9 L614.00,1515.4 L615.60,1514.8 L617.20,1514.3 L618.80,1513.7 L620.40,1513.2 L622.00,1512.6 L623.60,1512.1 L625.20,1511.5 L626.80,1511 L628.40,1510.4 L630.00,1509.8 L631.60,1509.3 L633.20,1508.7 L634.80,1508.2 L636.40,1507.6 L638.00,1507 L639.60,1506.5 L641.20,1505.9 L642.80,1505.2 L644.40,1504.5 L646.00,1503.7 L647.60,1502.9 L649.20,1502 L650.80,1501.2 L652.40,1500.4 L654.00,1499.6 L655.60,1498.8 L657.20,1497.8 L658.80,1496.8 L660.40,1495.7 L662.00,1494.5 L663.60,1493.4 L665.20,1492.3 L666.80,1491.2 L668.40,1490 L670.00,1488.9 L671.60,1487.7 L673.20,1486.4 L674.80,1485 L676.40,1483.6 L678.00,1482.2 L679.60,1480.9 L681.20,1479.5 L682.80,1478.1 L684.40,1476.7 L686.00,1475.2 L687.60,1473.6 L689.20,1471.9 L690.80,1470.3 L692.40,1468.7 L694.00,1467 L695.60,1465.4 L697.20,1463.7 L698.80,1462.1 L700.40,1460.3 L702.00,1458.4 L703.60,1456.5 L705.20,1454.6 L706.80,1452.7 L708.40,1450.9 L710.00,1449 L711.60,1447.1 L713.20,1445.1 L714.80,1442.9 L716.40,1440.7 L718.00,1438.4 L719.60,1436.2 L721.20,1433.9 L722.80,1431.7 L724.40,1429.4 L726.00,1427.1 L727.60,1424.6 L729.20,1421.7 L730.80,1418.7 L732.40,1415.7 L734.00,1412.8 L735.60,1409.9 L737.20,1407 L738.80,1404.1 L740.40,1401.3 L742.00,1398.5 L743.60,1395.8 L745.20,1393.1 L746.80,1390.4 L748.40,1387.7 L750.00,1385 L751.60,1382.3 L753.20,1379.6 L754.80,1376.9 L756.40,1374.2 L758.00,1371.5 L759.60,1368.8 L761.20,1366 L762.80,1363.1 L764.40,1360.2 L766.00,1357.3 L767.60,1354.4 L769.20,1351.5 L770.80,1348.6 L772.40,1345.7 L774.00,1342.8 L775.60,1339.9 L777.20,1336.9 L778.80,1333.8 L780.40,1330.3 L782.00,1326.8 L783.60,1323.2 L785.20,1319.6 L786.80,1316 L788.40,1312.4 L790.00,1308.8 L791.60,1305.2 L793.20,1301 L794.80,1296 L796.40,1290.7 L798.00,1285.3 L799.60,1279.9 L801.20,1274.5 L802.80,1269.2 L804.40,1263.8 L806.00,1258.4 L807.60,1253.1 L809.20,1247.7 L810.80,1242.3 L812.40,1236.7 L814.00,1230.8 L815.60,1224.7 L817.20,1218.7 L818.80,1213 L820.40,1207.6 L822.00,1202.2 L823.60,1196.8 L825.20,1191.2 L826.80,1185.3 L828.40,1179.5 L830.00,1173.7 L831.60,1167.8 L833.20,1161.9 L834.80,1156.6 L836.40,1152.1 L838.00,1147.8 L839.60,1144.4 L841.20,1141.7 L842.80,1140.4 L844.40,1139.9 L846.00,1140.7 L847.60,1142.6 L849.20,1144.9 L850.80,1149.3 L852.40,1153.1 L854.00,1158.6 L855.60,1164.3 L857.20,1173.3 L858.80,1183.4 L860.40,1193.4 L862.00,1202.7 L863.60,1212 L865.20,1221.6 L866.80,1231.4 L868.40,1241.5 L870.00,1252 L871.60,1262.5 L873.20,1273.2 L874.80,1284.5 L876.40,1296.8 L878.00,1309.4 L879.60,1322 L881.20,1334.6 L882.80,1347.2 L884.40,1359.4 L886.00,1370.2 L887.60,1379.3 L889.20,1387.9 L890.80,1396.4 L892.40,1404.8 L894.00,1413 L895.60,1420.7 L897.20,1427.9 L898.80,1434.8 L900.40,1441.3 L902.00,1447.7 L903.60,1454.4 L905.20,1461.3 L906.80,1468 L908.40,1473.9 L910.00,1479.5 L911.60,1484.5 L913.20,1488.5 L914.80,1492 L916.40,1495.4 L918.00,1498.4 L919.60,1500.9 L921.20,1503.2 L922.80,1505.5 L924.40,1507.6 L926.00,1509.5 L927.60,1511.2 L929.20,1512.9 L930.80,1514.5 L932.40,1515.9 L934.00,1517.2 L935.60,1518.4 L937.20,1519.7 L938.80,1520.9 L940.40,1522 L942.00,1522.9 L943.60,1523.7 L945.20,1524.5 L946.80,1525.2 L948.40,1526 L950.00,1526.6 L951.60,1527.1 L953.20,1527.5 L954.80,1527.8 L956.40,1528.2 L958.00,1528.6 L959.60,1529 L961.20,1529.3 L962.80,1529.5 L964.40,1529.6 L966.00,1529.8 L967.60,1529.9 L969.20,1530 L970.80,1530.1 L972.40,1530.3 L974.00,1530.4 L975.60,1530.5 L977.20,1530.7 L978.80,1530.8 L980.40,1530.9 L982.00,1531 L983.60,1531.1 L985.20,1531.3 L986.80,1531.4 L988.40,1531.5 L990.00,1531.6 L991.60,1531.6 L993.20,1531.6 L994.80,1531.6 L996.40,1531.6 L998.00,1531.6 L999.60,1531.7 L1001.20,1531.7 L1002.80,1531.7 L1004.40,1531.7 L1006.00,1531.7 L1007.60,1531.7 L1009.20,1531.7 L1010.80,1531.8 L1012.40,1531.8 L1014.00,1531.8 L1015.60,1531.8 L1017.20,1531.8 L1018.80,1531.8 L1020.40,1531.8 L1022.00,1531.9 L1023.60,1531.9 L1025.20,1531.9 L1026.80,1531.9 L1028.40,1531.9 L1030.00,1531.9 L1031.60,1531.9 L1033.20,1532 L1034.80,1532 L1036.40,1532 L1038.00,1532 L1039.60,1532 L1041.20,1532 L1042.80,1532 L1044.40,1532 L1046.00,1532 L1047.60,1532 L1049.20,1532 L1050.80,1532 L1052.40,1532 L1054.00,1532 L1055.60,1532 L1057.20,1532 L1058.80,1532 L1060.40,1532 L1062.00,1532 L1063.60,1532 L1065.20,1532 L1066.80,1532 L1068.40,1532 L1070.00,1532 L1071.60,1532 L1073.20,1532 L1074.80,1532 L1076.40,1532 L1078.00,1532 L1079.60,1532 L1081.20,1532 L1082.80,1532 L1084.40,1532 L1086.00,1532 L1087.60,1532 L1089.20,1532 L1090.80,1532 L1092.40,1532 L1094.00,1532 L1095.60,1532 L1097.20,1532 L1098.80,1532 L1100.40,1532 L1102.00,1532 L1103.60,1532 L1105.20,1532 L1106.80,1532 L1108.40,1532 L1110.00,1532 L1111.60,1532 L1113.20,1531.9 L1114.80,1531.9 L1116.40,1531.9 L1118.00,1531.9 L1119.60,1531.9 L1121.20,1531.9 L1122.80,1531.9 L1124.40,1531.9 L1126.00,1531.9 L1127.60,1531.9 L1129.20,1531.9 L1130.80,1531.9 L1132.40,1531.9 L1134.00,1531.9 L1135.60,1531.9 L1137.20,1531.9 L1138.80,1531.9 L1140.40,1531.9 L1142.00,1531.9 L1143.60,1531.9 L1145.20,1531.9 L1146.80,1531.9 L1148.40,1531.9 L1150.00,1531.9 L1151.60,1531.9 L1153.20,1531.9 L1154.80,1531.9 L1156.40,1531.9 L1158.00,1531.9 L1159.60,1531.9 L1161.20,1531.9 L1162.80,1531.9 L1164.40,1531.9 L1166.00,1531.9 L1167.60,1531.9 L1169.20,1531.9 L1170.80,1531.9 L1172.40,1531.9 L1174.00,1531.9 L1175.60,1531.9 L1177.20,1531.9 L1178.80,1531.9 L1180.40,1531.9 L1182.00,1531.9 L1183.60,1531.9 L1185.20,1531.9 L1186.80,1531.9 L1188.40,1531.9 L1190.00,1531.9 L1191.60,1531.9 L1193.20,1531.9 L1194.80,1531.9 L1196.40,1531.9 L1198.00,1531.9 L1199.60,1531.9 L1201.20,1531.9 L1202.80,1531.9 L1204.40,1531.9 L1206.00,1531.9 L1207.60,1531.9 L1209.20,1531.9 L1210.80,1531.9 L1212.40,1531.9 L1214.00,1531.9 L1215.60,1531.9 L1217.20,1531.9 L1218.80,1531.9 L1220.40,1531.9 L1222.00,1531.9 L1223.60,1531.9 L1225.20,1531.9 L1226.80,1531.9 L1228.40,1531.9 L1230.00,1531.9 L1231.60,1531.9 L1233.20,1531.9 L1234.80,1531.9 L1236.40,1531.9 L1238.00,1531.9 L1238.40,1531.9" stroke="#00cccf"/>
<path d="M217.20,1490.5 L218.80,1490.4 L220.40,1490.2 L222.00,1496.8 L223.60,1501 L225.20,1502.3 L226.80,1503.6 L228.40,1505 L230.00,1506.3 L231.60,1507.6 L233.20,1509 L234.80,1510.3 L236.40,1511.3 L238.00,1512.2 L239.60,1512.7 L241.20,1513 L242.80,1513.1 L244.40,1513.1 L246.00,1512.9 L247.60,1512.4 L249.20,1511.8 L250.80,1510.9 L252.40,1510 L254.00,1509 L255.60,1508 L257.20,1507.1 L258.80,1506 L260.40,1504.7 L262.00,1503.2 L263.60,1501.6 L265.20,1500.1 L266.80,1498.5 L268.40,1496.9 L270.00,1495.4 L271.60,1493.7 L273.20,1492 L274.80,1490.3 L276.40,1488.6 L278.00,1486.9 L279.60,1485.3 L281.20,1484 L282.80,1482.9 L284.40,1481.8 L286.00,1480.6 L287.60,1479.5 L289.20,1478.4 L290.80,1477.4 L292.40,1476.4 L294.00,1475.4 L295.60,1474.3 L297.20,1473.3 L298.80,1472.4 L300.40,1471.5 L302.00,1470.6 L303.60,1469.8 L305.20,1468.9 L306.80,1468.1 L308.40,1467.3 L310.00,1466.6 L311.60,1465.9 L313.20,1465.3 L314.80,1464.7 L316.40,1464.2 L318.00,1464.1 L319.60,1464.5 L321.20,1464.9 L322.80,1465.3 L324.40,1465.9 L326.00,1467.1 L327.60,1468.6 L329.20,1470.2 L330.80,1472.3 L332.40,1474.7 L334.00,1477.5 L335.60,1480.5 L337.20,1483.6 L338.80,1486.7 L340.40,1489.8 L342.00,1493 L343.60,1496.1 L345.20,1499.3 L346.80,1502.4 L348.40,1505.3 L350.00,1507.5 L351.60,1509.4 L353.20,1511.1 L354.80,1512.4 L356.40,1513.4 L358.00,1514.2 L359.60,1515 L361.20,1515.5 L362.80,1515.8 L364.40,1516.1 L366.00,1516.3 L367.60,1516.1 L369.20,1515.7 L370.80,1515.4 L372.40,1515.4 L374.00,1516 L375.60,1516.9 L377.20,1517.9 L378.80,1518.7 L380.40,1519.2 L382.00,1519.6 L383.60,1519.9 L385.20,1520.1 L386.80,1519.8 L388.40,1519.1 L390.00,1518.2 L391.60,1517.3 L393.20,1516.4 L394.80,1515.7 L396.40,1515.3 L398.00,1515.3 L399.60,1515.2 L401.20,1514.8 L402.80,1514.4 L404.40,1513.9 L406.00,1513.3 L407.60,1512.5 L409.20,1511.5 L410.80,1510.5 L412.40,1509.5 L414.00,1508.5 L415.60,1507.4 L417.20,1506.4 L418.80,1505.6 L420.40,1505.3 L422.00,1505.3 L423.60,1505.3 L425.20,1505.2 L426.80,1505 L428.40,1504.5 L430.00,1504 L431.60,1503.4 L433.20,1502.8 L434.80,1502 L436.40,1500.9 L438.00,1499.6 L439.60,1498.4 L441.20,1497.5 L442.80,1497.2 L444.40,1497.3 L446.00,1497.5 L447.60,1497.9 L449.20,1498.4 L450.80,1498.8 L452.40,1499 L454.00,1499.2 L455.60,1499.3 L457.20,1499.5 L458.80,1499.6 L460.40,1499.8 L462.00,1499.9 L463.60,1500.1 L465.20,1500.4 L466.80,1500.7 L468.40,1501.1 L470.00,1501.7 L471.60,1502.3 L473.20,1503 L474.80,1503.7 L476.40,1504.5 L478.00,1505.2 L479.60,1506.1 L481.20,1507 L482.80,1507.9 L484.40,1508.8 L486.00,1509.7 L487.60,1510.7 L489.20,1511.6 L490.80,1512.7 L492.40,1513.8 L494.00,1514.8 L495.60,1515.9 L497.20,1517 L498.80,1518 L500.40,1519.1 L502.00,1520.1 L503.60,1521 L505.20,1521.9 L506.80,1522.7 L508.40,1523.6 L510.00,1524.4 L511.60,1525.3 L513.20,1526.1 L514.80,1526.9 L516.40,1527.7 L518.00,1528.1 L519.60,1528.5 L521.20,1528.9 L522.80,1529.2 L524.40,1529.4 L526.00,1529.4 L527.60,1529.5 L529.20,1529.6 L530.80,1529.7 L532.40,1529.7 L534.00,1529.7 L535.60,1529.7 L537.20,1529.6 L538.80,1529.6 L540.40,1529.5 L542.00,1529.5 L543.60,1529.4 L545.20,1529.4 L546.80,1529.3 L548.40,1529.2 L550.00,1529 L551.60,1528.8 L553.20,1528.7 L554.80,1528.5 L556.40,1528.4 L558.00,1528.2 L559.60,1528.1 L561.20,1527.9 L562.80,1527.8 L564.40,1527.6 L566.00,1527.4 L567.60,1527.2 L569.20,1527 L570.80,1526.7 L572.40,1526.4 L574.00,1526.2 L575.60,1525.9 L577.20,1525.6 L578.80,1525.3 L580.40,1525 L582.00,1524.7 L583.60,1524.5 L585.20,1524.2 L586.80,1523.9 L588.40,1523.6 L590.00,1523.3 L591.60,1522.9 L593.20,1522.5 L594.80,1522.1 L596.40,1521.7 L598.00,1521.3 L599.60,1520.9 L601.20,1520.6 L602.80,1520.2 L604.40,1519.8 L606.00,1519.4 L607.60,1519 L609.20,1518.6 L610.80,1518.2 L612.40,1517.7 L614.00,1517.3 L615.60,1516.8 L617.20,1516.3 L618.80,1515.8 L620.40,1515.3 L622.00,1514.8 L623.60,1514.3 L625.20,1513.8 L626.80,1513.3 L628.40,1512.8 L630.00,1512.3 L631.60,1511.8 L633.20,1511.3 L634.80,1510.8 L636.40,1510.3 L638.00,1509.8 L639.60,1509.2 L641.20,1508.7 L642.80,1508.2 L644.40,1507.5 L646.00,1506.8 L647.60,1506 L649.20,1505.3 L650.80,1504.6 L652.40,1503.8 L654.00,1503.1 L655.60,1502.4 L657.20,1501.5 L658.80,1500.6 L660.40,1499.6 L662.00,1498.6 L663.60,1497.6 L665.20,1496.6 L666.80,1495.6 L668.40,1494.6 L670.00,1493.6 L671.60,1492.5 L673.20,1491.3 L674.80,1490 L676.40,1488.8 L678.00,1487.6 L679.60,1486.3 L681.20,1485.1 L682.80,1483.9 L684.40,1482.6 L686.00,1481.3 L687.60,1479.8 L689.20,1478.4 L690.80,1476.9 L692.40,1475.4 L694.00,1474 L695.60,1472.5 L697.20,1471 L698.80,1469.5 L700.40,1467.9 L702.00,1466.3 L703.60,1464.6 L705.20,1462.9 L706.80,1461.2 L708.40,1459.5 L710.00,1457.8 L711.60,1456.1 L713.20,1454.3 L714.80,1452.4 L716.40,1450.4 L718.00,1448.4 L719.60,1446.4 L721.20,1444.4 L722.80,1442.4 L724.40,1440.3 L726.00,1438.3 L727.60,1436 L729.20,1433.4 L730.80,1430.7 L732.40,1428.1 L734.00,1425.4 L735.60,1422.8 L737.20,1420.3 L738.80,1417.7 L740.40,1415.2 L742.00,1412.7 L743.60,1410.3 L745.20,1407.8 L746.80,1405.4 L748.40,1403 L750.00,1400.6 L751.60,1398.2 L753.20,1395.7 L754.80,1393.3 L756.40,1390.9 L758.00,1388.5 L759.60,1386 L761.20,1383.5 L762.80,1381 L764.40,1378.4 L766.00,1375.8 L767.60,1373.2 L769.20,1370.6 L770.80,1368 L772.40,1365.4 L774.00,1362.8 L775.60,1360.2 L777.20,1357.6 L778.80,1354.8 L780.40,1351.7 L782.00,1348.5 L783.60,1345.3 L785.20,1342.1 L786.80,1338.8 L788.40,1335.6 L790.00,1332.4 L791.60,1329.2 L793.20,1325.4 L794.80,1321 L796.40,1316.2 L798.00,1311.4 L799.60,1306.6 L801.20,1301.7 L802.80,1296.9 L804.40,1292.1 L806.00,1287.3 L807.60,1282.5 L809.20,1277.7 L810.80,1272.9 L812.40,1267.9 L814.00,1262.6 L815.60,1257.1 L817.20,1251.8 L818.80,1246.7 L820.40,1241.8 L822.00,1237 L823.60,1232.2 L825.20,1227.2 L826.80,1221.9 L828.40,1216.7 L830.00,1211.5 L831.60,1206.3 L833.20,1200.9 L834.80,1196.2 L836.40,1192.2 L838.00,1188.3 L839.60,1185.3 L841.20,1182.9 L842.80,1181.7 L844.40,1181.3 L846.00,1182 L847.60,1183.7 L849.20,1185.8 L850.80,1189.7 L852.40,1193.1 L854.00,1198 L855.60,1203.1 L857.20,1211.2 L858.80,1220.2 L860.40,1229.1 L862.00,1237.5 L863.60,1245.8 L865.20,1254.4 L866.80,1263.2 L868.40,1272.2 L870.00,1281.5 L871.60,1291 L873.20,1300.5 L874.80,1310.7 L876.40,1321.7 L878.00,1332.9 L879.60,1344.2 L881.20,1355.5 L882.80,1366.8 L884.40,1377.7 L886.00,1387.3 L887.60,1395.4 L889.20,1403.1 L890.80,1410.8 L892.40,1418.3 L894.00,1425.7 L895.60,1432.5 L897.20,1439 L898.80,1445.1 L900.40,1450.9 L902.00,1456.7 L903.60,1462.6 L905.20,1468.9 L906.80,1474.8 L908.40,1480.2 L910.00,1485.1 L911.60,1489.6 L913.20,1493.2 L914.80,1496.3 L916.40,1499.4 L918.00,1502.1 L919.60,1504.3 L921.20,1506.4 L922.80,1508.4 L924.40,1510.3 L926.00,1512 L927.60,1513.5 L929.20,1515 L930.80,1516.4 L932.40,1517.7 L934.00,1518.8 L935.60,1520 L937.20,1521.1 L938.80,1522.2 L940.40,1523.2 L942.00,1523.9 L943.60,1524.7 L945.20,1525.4 L946.80,1526.1 L948.40,1526.7 L950.00,1527.3 L951.60,1527.7 L953.20,1528 L954.80,1528.4 L956.40,1528.7 L958.00,1529.1 L959.60,1529.4 L961.20,1529.7 L962.80,1529.9 L964.40,1530 L966.00,1530.1 L967.60,1530.2 L969.20,1530.3 L970.80,1530.4 L972.40,1530.6 L974.00,1530.7 L975.60,1530.8 L977.20,1530.9 L978.80,1531 L980.40,1531.1 L982.00,1531.2 L983.60,1531.3 L985.20,1531.4 L986.80,1531.6 L988.40,1531.6 L990.00,1531.7 L991.60,1531.7 L993.20,1531.7 L994.80,1531.8 L996.40,1531.8 L998.00,1531.8 L999.60,1531.8 L1001.20,1531.8 L1002.80,1531.8 L1004.40,1531.8 L1006.00,1531.8 L1007.60,1531.9 L1009.20,1531.9 L1010.80,1531.9 L1012.40,1531.9 L1014.00,1531.9 L1015.60,1531.9 L1017.20,1531.9 L1018.80,1531.9 L1020.40,1532 L1022.00,1532 L1023.60,1532 L1025.20,1532 L1026.80,1532 L1028.40,1532 L1030.00,1532 L1031.60,1532 L1033.20,1532.1 L1034.80,1532.1 L1036.40,1532.1 L1038.00,1532.1 L1039.60,1532.1 L1041.20,1532.1 L1042.80,1532.1 L1044.40,1532.1 L1046.00,1532.1 L1047.60,1532.1 L1049.20,1532.1 L1050.80,1532.1 L1052.40,1532.1 L1054.00,1532.1 L1055.60,1532.1 L1057.20,1532.1 L1058.80,1532.1 L1060.40,1532.1 L1062.00,1532.1 L1063.60,1532.1 L1065.20,1532.1 L1066.80,1532.1 L1068.40,1532.1 L1070.00,1532.1 L1071.60,1532.1 L1073.20,1532.1 L1074.80,1532.1 L1076.40,1532.1 L1078.00,1532.1 L1079.60,1532.1 L1081.20,1532.1 L1082.80,1532.1 L1084.40,1532.1 L1086.00,1532.1 L1087.60,1532.1 L1089.20,1532.1 L1090.80,1532.1 L1092.40,1532.1 L1094.00,1532.1 L1095.60,1532.1 L1097.20,1532.1 L1098.80,1532.1 L1100.40,1532.1 L1102.00,1532.1 L1103.60,1532.1 L1105.20,1532.1 L1106.80,1532.1 L1108.40,1532.1 L1110.00,1532.1 L1111.60,1532.1 L1113.20,1532.1 L1114.80,1532.1 L1116.40,1532.1 L1118.00,1532.1 L1119.60,1532.1 L1121.20,1532.1 L1122.80,1532.1 L1124.40,1532.1 L1126.00,1532.1 L1127.60,1532.1 L1129.20,1532.1 L1130.80,1532.1 L1132.40,1532 L1134.00,1532 L1135.60,1532 L1137.20,1532 L1138.80,1532 L1140.40,1532 L1142.00,1532 L1143.60,1532 L1145.20,1532 L1146.80,1532 L1148.40,1532 L1150.00,1532 L1151.60,1532 L1153.20,1532 L1154.80,1532 L1156.40,1532 L1158.00,1532 L1159.60,1532 L1161.20,1532 L1162.80,1532 L1164.40,1532 L1166.00,1532 L1167.60,1532 L1169.20,1532 L1170.80,1532 L1172.40,1532 L1174.00,1532 L1175.60,1532 L1177.20,1532 L1178.80,1532 L1180.40,1532 L1182.00,1532 L1183.60,1532 L1185.20,1532 L1186.80,1532 L1188.40,1532 L1190.00,1532 L1191.60,1532 L1193.20,1532 L1194.80,1532 L1196.40,1532 L1198.00,1532 L1199.60,1532 L1201.20,1532 L1202.80,1532 L1204.40,1532 L1206.00,1532 L1207.60,1532 L1209.20,1532 L1210.80,1532 L1212.40,1532 L1214.00,1532 L1215.60,1532 L1217.20,1532 L1218.80,1532 L1220.40,1532 L1222.00,1532 L1223.60,1532 L1225.20,1532 L1226.80,1532 L1228.40,1532 L1230.00,1532 L1231.60,1532 L1233.20,1532 L1234.80,1532 L1236.40,1532 L1238.00,1532 L1238.40,1532" stroke="#8c4e4f"/>
<path d="M217.20,1495.2 L218.80,1495.1 L220.40,1494.9 L222.00,1500.8 L223.60,1504.5 L225.20,1505.7 L226.80,1506.9 L228.40,1508.1 L230.00,1509.3 L231.60,1510.5 L233.20,1511.7 L234.80,1512.8 L236.40,1513.7 L238.00,1514.5 L239.60,1515 L241.20,1515.2 L242.80,1515.3 L244.40,1515.3 L246.00,1515.2 L247.60,1514.7 L249.20,1514.1 L250.80,1513.4 L252.40,1512.5 L254.00,1511.7 L255.60,1510.8 L257.20,1509.9 L258.80,1509 L260.40,1507.8 L262.00,1506.5 L263.60,1505.1 L265.20,1503.7 L266.80,1502.3 L268.40,1500.9 L270.00,1499.5 L271.60,1498 L273.20,1496.5 L274.80,1495 L276.40,1493.5 L278.00,1492 L279.60,1490.6 L281.20,1489.4 L282.80,1488.4 L284.40,1487.4 L286.00,1486.4 L287.60,1485.4 L289.20,1484.4 L290.80,1483.5 L292.40,1482.6 L294.00,1481.7 L295.60,1480.8 L297.20,1479.9 L298.80,1479.1 L300.40,1478.3 L302.00,1477.5 L303.60,1476.7 L305.20,1476 L306.80,1475.2 L308.40,1474.5 L310.00,1473.9 L311.60,1473.3 L313.20,1472.8 L314.80,1472.3 L316.40,1471.8 L318.00,1471.8 L319.60,1472 L321.20,1472.4 L322.80,1472.8 L324.40,1473.4 L326.00,1474.4 L327.60,1475.7 L329.20,1477.2 L330.80,1479 L332.40,1481.2 L334.00,1483.6 L335.60,1486.3 L337.20,1489 L338.80,1491.8 L340.40,1494.6 L342.00,1497.4 L343.60,1500.2 L345.20,1503 L346.80,1505.8 L348.40,1508.3 L350.00,1510.3 L351.60,1512 L353.20,1513.5 L354.80,1514.7 L356.40,1515.5 L358.00,1516.3 L359.60,1517 L361.20,1517.4 L362.80,1517.7 L364.40,1518 L366.00,1518.1 L367.60,1517.9 L369.20,1517.6 L370.80,1517.3 L372.40,1517.3 L374.00,1517.9 L375.60,1518.7 L377.20,1519.5 L378.80,1520.3 L380.40,1520.7 L382.00,1521.1 L383.60,1521.3 L385.20,1521.5 L386.80,1521.3 L388.40,1520.6 L390.00,1519.8 L391.60,1519 L393.20,1518.3 L394.80,1517.6 L396.40,1517.3 L398.00,1517.2 L399.60,1517.1 L401.20,1516.9 L402.80,1516.4 L404.40,1516 L406.00,1515.5 L407.60,1514.8 L409.20,1513.9 L410.80,1513 L412.40,1512.1 L414.00,1511.2 L415.60,1510.3 L417.20,1509.4 L418.80,1508.7 L420.40,1508.4 L422.00,1508.3 L423.60,1508.3 L425.20,1508.3 L426.80,1508.1 L428.40,1507.7 L430.00,1507.2 L431.60,1506.7 L433.20,1506.2 L434.80,1505.4 L436.40,1504.4 L438.00,1503.3 L439.60,1502.2 L441.20,1501.4 L442.80,1501.2 L444.40,1501.2 L446.00,1501.5 L447.60,1501.8 L449.20,1502.2 L450.80,1502.6 L452.40,1502.8 L454.00,1502.9 L455.60,1503.1 L457.20,1503.2 L458.80,1503.3 L460.40,1503.4 L462.00,1503.6 L463.60,1503.8 L465.20,1504 L466.80,1504.2 L468.40,1504.6 L470.00,1505.1 L471.60,1505.7 L473.20,1506.4 L474.80,1507 L476.40,1507.6 L478.00,1508.3 L479.60,1509.1 L481.20,1509.9 L482.80,1510.7 L484.40,1511.5 L486.00,1512.3 L487.60,1513.1 L489.20,1514 L490.80,1514.9 L492.40,1515.9 L494.00,1516.8 L495.60,1517.8 L497.20,1518.7 L498.80,1519.7 L500.40,1520.6 L502.00,1521.6 L503.60,1522.4 L505.20,1523.1 L506.80,1523.9 L508.40,1524.6 L510.00,1525.4 L511.60,1526.1 L513.20,1526.9 L514.80,1527.6 L516.40,1528.2 L518.00,1528.7 L519.60,1529 L521.20,1529.3 L522.80,1529.6 L524.40,1529.8 L526.00,1529.8 L527.60,1529.9 L529.20,1530 L530.80,1530 L532.40,1530.1 L534.00,1530.1 L535.60,1530 L537.20,1530 L538.80,1529.9 L540.40,1529.9 L542.00,1529.9 L543.60,1529.8 L545.20,1529.8 L546.80,1529.7 L548.40,1529.6 L550.00,1529.4 L551.60,1529.3 L553.20,1529.2 L554.80,1529 L556.40,1528.9 L558.00,1528.8 L559.60,1528.6 L561.20,1528.5 L562.80,1528.3 L564.40,1528.2 L566.00,1528.1 L567.60,1527.9 L569.20,1527.7 L570.80,1527.4 L572.40,1527.2 L574.00,1526.9 L575.60,1526.7 L577.20,1526.4 L578.80,1526.2 L580.40,1525.9 L582.00,1525.7 L583.60,1525.4 L585.20,1525.2 L586.80,1524.9 L588.40,1524.7 L590.00,1524.4 L591.60,1524 L593.20,1523.7 L594.80,1523.3 L596.40,1523 L598.00,1522.6 L599.60,1522.3 L601.20,1521.9 L602.80,1521.6 L604.40,1521.2 L606.00,1520.9 L607.60,1520.5 L609.20,1520.2 L610.80,1519.8 L612.40,1519.4 L614.00,1519 L615.60,1518.6 L617.20,1518.1 L618.80,1517.7 L620.40,1517.2 L622.00,1516.8 L623.60,1516.3 L625.20,1515.9 L626.80,1515.5 L628.40,1515 L630.00,1514.6 L631.60,1514.1 L633.20,1513.7 L634.80,1513.2 L636.40,1512.8 L638.00,1512.3 L639.60,1511.9 L641.20,1511.4 L642.80,1510.9 L644.40,1510.3 L646.00,1509.7 L647.60,1509 L649.20,1508.4 L650.80,1507.7 L652.40,1507.1 L654.00,1506.4 L655.60,1505.7 L657.20,1505 L658.80,1504.2 L660.40,1503.3 L662.00,1502.4 L663.60,1501.5 L665.20,1500.6 L666.80,1499.7 L668.40,1498.8 L670.00,1497.9 L671.60,1496.9 L673.20,1495.9 L674.80,1494.8 L676.40,1493.7 L678.00,1492.6 L679.60,1491.5 L681.20,1490.4 L682.80,1489.3 L684.40,1488.2 L686.00,1487 L687.60,1485.7 L689.20,1484.4 L690.80,1483.1 L692.40,1481.8 L694.00,1480.5 L695.60,1479.2 L697.20,1477.9 L698.80,1476.5 L700.40,1475.1 L702.00,1473.6 L703.60,1472.1 L705.20,1470.6 L706.80,1469.1 L708.40,1467.6 L710.00,1466.1 L711.60,1464.6 L713.20,1463 L714.80,1461.3 L716.40,1459.5 L718.00,1457.7 L719.60,1456 L721.20,1454.2 L722.80,1452.4 L724.40,1450.6 L726.00,1448.8 L727.60,1446.7 L729.20,1444.4 L730.80,1442.1 L732.40,1439.7 L734.00,1437.3 L735.60,1435 L737.20,1432.7 L738.80,1430.4 L740.40,1428.2 L742.00,1426 L743.60,1423.8 L745.20,1421.7 L746.80,1419.5 L748.40,1417.4 L750.00,1415.2 L751.60,1413.1 L753.20,1410.9 L754.80,1408.8 L756.40,1406.6 L758.00,1404.5 L759.60,1402.3 L761.20,1400.1 L762.80,1397.8 L764.40,1395.5 L766.00,1393.2 L767.60,1390.8 L769.20,1388.5 L770.80,1386.2 L772.40,1383.9 L774.00,1381.6 L775.60,1379.3 L777.20,1377 L778.80,1374.5 L780.40,1371.7 L782.00,1368.9 L783.60,1366 L785.20,1363.2 L786.80,1360.3 L788.40,1357.5 L790.00,1354.6 L791.60,1351.7 L793.20,1348.4 L794.80,1344.4 L796.40,1340.2 L798.00,1335.9 L799.60,1331.6 L801.20,1327.3 L802.80,1323 L804.40,1318.7 L806.00,1314.5 L807.60,1310.2 L809.20,1306 L810.80,1301.7 L812.40,1297.2 L814.00,1292.5 L815.60,1287.6 L817.20,1282.9 L818.80,1278.4 L820.40,1274 L822.00,1269.7 L823.60,1265.4 L825.20,1261 L826.80,1256.3 L828.40,1251.7 L830.00,1247 L831.60,1242.4 L833.20,1237.6 L834.80,1233.4 L836.40,1229.8 L838.00,1226.4 L839.60,1223.7 L841.20,1221.6 L842.80,1220.5 L844.40,1220.2 L846.00,1220.8 L847.60,1222.3 L849.20,1224.2 L850.80,1227.6 L852.40,1230.6 L854.00,1235.1 L855.60,1239.6 L857.20,1246.8 L858.80,1254.7 L860.40,1262.7 L862.00,1270.1 L863.60,1277.5 L865.20,1285.2 L866.80,1293 L868.40,1301 L870.00,1309.3 L871.60,1317.7 L873.20,1326.2 L874.80,1335.3 L876.40,1345 L878.00,1355 L879.60,1365.1 L881.20,1375.1 L882.80,1385.1 L884.40,1394.9 L886.00,1403.4 L887.60,1410.6 L889.20,1417.5 L890.80,1424.3 L892.40,1431 L894.00,1437.5 L895.60,1443.6 L897.20,1449.4 L898.80,1454.8 L900.40,1460 L902.00,1465.1 L903.60,1470.4 L905.20,1476 L906.80,1481.3 L908.40,1486 L910.00,1490.4 L911.60,1494.4 L913.20,1497.6 L914.80,1500.4 L916.40,1503.1 L918.00,1505.5 L919.60,1507.5 L921.20,1509.3 L922.80,1511.1 L924.40,1512.8 L926.00,1514.3 L927.60,1515.6 L929.20,1517 L930.80,1518.3 L932.40,1519.4 L934.00,1520.4 L935.60,1521.4 L937.20,1522.4 L938.80,1523.4 L940.40,1524.2 L942.00,1524.9 L943.60,1525.6 L945.20,1526.2 L946.80,1526.8 L948.40,1527.4 L950.00,1527.9 L951.60,1528.3 L953.20,1528.6 L954.80,1528.9 L956.40,1529.2 L958.00,1529.5 L959.60,1529.8 L961.20,1530 L962.80,1530.2 L964.40,1530.3 L966.00,1530.4 L967.60,1530.5 L969.20,1530.6 L970.80,1530.7 L972.40,1530.8 L974.00,1530.9 L975.60,1531 L977.20,1531.1 L978.80,1531.2 L980.40,1531.3 L982.00,1531.4 L983.60,1531.5 L985.20,1531.6 L986.80,1531.7 L988.40,1531.8 L990.00,1531.8 L991.60,1531.9 L993.20,1531.9 L994.80,1531.9 L996.40,1531.9 L998.00,1531.9 L999.60,1531.9 L1001.20,1531.9 L1002.80,1531.9 L1004.40,1532 L1006.00,1532 L1007.60,1532 L1009.20,1532 L1010.80,1532 L1012.40,1532 L1014.00,1532 L1015.60,1532 L1017.20,1532.1 L1018.80,1532.1 L1020.40,1532.1 L1022.00,1532.1 L1023.60,1532.1 L1025.20,1532.1 L1026.80,1532.1 L1028.40,1532.1 L1030.00,1532.1 L1031.60,1532.2 L1033.20,1532.2 L1034.80,1532.2 L1036.40,1532.2 L1038.00,1532.2 L1039.60,1532.2 L1041.20,1532.2 L1042.80,1532.2 L1044.40,1532.2 L1046.00,1532.2 L1047.60,1532.2 L1049.20,1532.2 L1050.80,1532.2 L1052.40,1532.2 L1054.00,1532.2 L1055.60,1532.2 L1057.20,1532.2 L1058.80,1532.2 L1060.40,1532.2 L1062.00,1532.2 L1063.60,1532.2 L1065.20,1532.2 L1066.80,1532.2 L1068.40,1532.2 L1070.00,1532.2 L1071.60,1532.2 L1073.20,1532.2 L1074.80,1532.2 L1076.40,1532.2 L1078.00,1532.2 L1079.60,1532.2 L1081.20,1532.2 L1082.80,1532.2 L1084.40,1532.2 L1086.00,1532.2 L1087.60,1532.2 L1089.20,1532.2 L1090.80,1532.2 L1092.40,1532.2 L1094.00,1532.2 L1095.60,1532.2 L1097.20,1532.2 L1098.80,1532.2 L1100.40,1532.2 L1102.00,1532.2 L1103.60,1532.2 L1105.20,1532.2 L1106.80,1532.2 L1108.40,1532.2 L1110.00,1532.2 L1111.60,1532.2 L1113.20,1532.2 L1114.80,1532.2 L1116.40,1532.2 L1118.00,1532.2 L1119.60,1532.2 L1121.20,1532.2 L1122.80,1532.2 L1124.40,1532.2 L1126.00,1532.2 L1127.60,1532.2 L1129.20,1532.2 L1130.80,1532.2 L1132.40,1532.2 L1134.00,1532.2 L1135.60,1532.2 L1137.20,1532.2 L1138.80,1532.2 L1140.40,1532.2 L1142.00,1532.1 L1143.60,1532.1 L1145.20,1532.1 L1146.80,1532.1 L1148.40,1532.1 L1150.00,1532.1 L1151.60,1532.1 L1153.20,1532.1 L1154.80,1532.1 L1156.40,1532.1 L1158.00,1532.1 L1159.60,1532.1 L1161.20,1532.1 L1162.80,1532.1 L1164.40,1532.1 L1166.00,1532.1 L1167.60,1532.1 L1169.20,1532.1 L1170.80,1532.1 L1172.40,1532.1 L1174.00,1532.1 L1175.60,1532.1 L1177.20,1532.1 L1178.80,1532.1 L1180.40,1532.1 L1182.00,1532.1 L1183.60,1532.1 L1185.20,1532.1 L1186.80,1532.1 L1188.40,1532.1 L1190.00,1532.1 L1191.60,1532.1 L1193.20,1532.1 L1194.80,1532.1 L1196.40,1532.1 L1198.00,1532.1 L1199.60,1532.1 L1201.20,1532.1 L1202.80,1532.1 L1204.40,1532.1 L1206.00,1532.1 L1207.60,1532.1 L1209.20,1532.1 L1210.80,1532.1 L1212.40,1532.1 L1214.00,1532.1 L1215.60,1532.1 L1217.20,1532.1 L1218.80,1532.1 L1220.40,1532.1 L1222.00,1532.1 L1223.60,1532.1 L1225.20,1532.1 L1226.80,1532.1 L1228.40,1532.1 L1230.00,1532.1 L1231.60,1532.1 L1233.20,1532.1 L1234.80,1532.1 L1236.40,1532.1 L1238.00,1532.1 L1238.40,1532.1" stroke="#8f8f00"/>
<path d="M217.20,1499.5 L218.80,1499.3 L220.40,1499.2 L222.00,1504.4 L223.60,1507.7 L225.20,1508.8 L226.80,1509.8 L228.40,1510.9 L230.00,1511.9 L231.60,1513 L233.20,1514 L234.80,1515.1 L236.40,1515.9 L238.00,1516.5 L239.60,1517 L241.20,1517.2 L242.80,1517.3 L244.40,1517.3 L246.00,1517.2 L247.60,1516.8 L249.20,1516.2 L250.80,1515.6 L252.40,1514.8 L254.00,1514.1 L255.60,1513.3 L257.20,1512.5 L258.80,1511.7 L260.40,1510.7 L262.00,1509.5 L263.60,1508.2 L265.20,1507 L266.80,1505.8 L268.40,1504.5 L270.00,1503.3 L271.60,1502 L273.20,1500.6 L274.80,1499.3 L276.40,1497.9 L278.00,1496.6 L279.60,1495.4 L281.20,1494.3 L282.80,1493.4 L284.40,1492.5 L286.00,1491.6 L287.60,1490.8 L289.20,1489.9 L290.80,1489.1 L292.40,1488.3 L294.00,1487.5 L295.60,1486.7 L297.20,1485.9 L298.80,1485.1 L300.40,1484.4 L302.00,1483.7 L303.60,1483.1 L305.20,1482.4 L306.80,1481.7 L308.40,1481.1 L310.00,1480.5 L311.60,1480 L313.20,1479.6 L314.80,1479.1 L316.40,1478.7 L318.00,1478.6 L319.60,1478.9 L321.20,1479.2 L322.80,1479.5 L324.40,1480 L326.00,1480.9 L327.60,1482.1 L329.20,1483.4 L330.80,1485.1 L332.40,1487 L334.00,1489.1 L335.60,1491.5 L337.20,1494 L338.80,1496.5 L340.40,1498.9 L342.00,1501.4 L343.60,1503.9 L345.20,1506.4 L346.80,1508.8 L348.40,1511.1 L350.00,1512.9 L351.60,1514.4 L353.20,1515.7 L354.80,1516.7 L356.40,1517.5 L358.00,1518.2 L359.60,1518.8 L361.20,1519.2 L362.80,1519.4 L364.40,1519.7 L366.00,1519.8 L367.60,1519.6 L369.20,1519.3 L370.80,1519.1 L372.40,1519.1 L374.00,1519.6 L375.60,1520.3 L377.20,1521 L378.80,1521.7 L380.40,1522.1 L382.00,1522.4 L383.60,1522.6 L385.20,1522.8 L386.80,1522.6 L388.40,1522 L390.00,1521.3 L391.60,1520.6 L393.20,1519.9 L394.80,1519.3 L396.40,1519 L398.00,1519 L399.60,1518.9 L401.20,1518.7 L402.80,1518.3 L404.40,1517.9 L406.00,1517.4 L407.60,1516.8 L409.20,1516.1 L410.80,1515.3 L412.40,1514.4 L414.00,1513.6 L415.60,1512.8 L417.20,1512 L418.80,1511.4 L420.40,1511.2 L422.00,1511.1 L423.60,1511.1 L425.20,1511.1 L426.80,1510.9 L428.40,1510.5 L430.00,1510.1 L431.60,1509.6 L433.20,1509.2 L434.80,1508.5 L436.40,1507.6 L438.00,1506.6 L439.60,1505.6 L441.20,1504.9 L442.80,1504.7 L444.40,1504.8 L446.00,1505 L447.60,1505.3 L449.20,1505.7 L450.80,1506 L452.40,1506.2 L454.00,1506.3 L455.60,1506.4 L457.20,1506.5 L458.80,1506.6 L460.40,1506.8 L462.00,1506.9 L463.60,1507.1 L465.20,1507.3 L466.80,1507.5 L468.40,1507.8 L470.00,1508.3 L471.60,1508.8 L473.20,1509.3 L474.80,1509.9 L476.40,1510.5 L478.00,1511.1 L479.60,1511.8 L481.20,1512.5 L482.80,1513.2 L484.40,1513.9 L486.00,1514.6 L487.60,1515.4 L489.20,1516.1 L490.80,1517 L492.40,1517.8 L494.00,1518.7 L495.60,1519.5 L497.20,1520.3 L498.80,1521.2 L500.40,1522 L502.00,1522.8 L503.60,1523.6 L505.20,1524.2 L506.80,1524.9 L508.40,1525.6 L510.00,1526.2 L511.60,1526.9 L513.20,1527.6 L514.80,1528.2 L516.40,1528.8 L518.00,1529.2 L519.60,1529.5 L521.20,1529.7 L522.80,1530 L524.40,1530.1 L526.00,1530.2 L527.60,1530.3 L529.20,1530.3 L530.80,1530.4 L532.40,1530.4 L534.00,1530.4 L535.60,1530.4 L537.20,1530.3 L538.80,1530.3 L540.40,1530.2 L542.00,1530.2 L543.60,1530.2 L545.20,1530.1 L546.80,1530.1 L548.40,1530 L550.00,1529.8 L551.60,1529.7 L553.20,1529.6 L554.80,1529.5 L556.40,1529.4 L558.00,1529.2 L559.60,1529.1 L561.20,1529 L562.80,1528.9 L564.40,1528.7 L566.00,1528.6 L567.60,1528.5 L569.20,1528.3 L570.80,1528 L572.40,1527.8 L574.00,1527.6 L575.60,1527.4 L577.20,1527.1 L578.80,1526.9 L580.40,1526.7 L582.00,1526.5 L583.60,1526.3 L585.20,1526 L586.80,1525.8 L588.40,1525.6 L590.00,1525.3 L591.60,1525 L593.20,1524.7 L594.80,1524.4 L596.40,1524.1 L598.00,1523.8 L599.60,1523.5 L601.20,1523.2 L602.80,1522.9 L604.40,1522.6 L606.00,1522.2 L607.60,1521.9 L609.20,1521.6 L610.80,1521.3 L612.40,1520.9 L614.00,1520.6 L615.60,1520.2 L617.20,1519.8 L618.80,1519.4 L620.40,1519 L622.00,1518.6 L623.60,1518.2 L625.20,1517.8 L626.80,1517.4 L628.40,1517 L630.00,1516.6 L631.60,1516.2 L633.20,1515.8 L634.80,1515.4 L636.40,1515 L638.00,1514.6 L639.60,1514.2 L641.20,1513.8 L642.80,1513.4 L644.40,1512.9 L646.00,1512.3 L647.60,1511.7 L649.20,1511.1 L650.80,1510.5 L652.40,1510 L654.00,1509.4 L655.60,1508.8 L657.20,1508.2 L658.80,1507.4 L660.40,1506.6 L662.00,1505.8 L663.60,1505 L665.20,1504.2 L666.80,1503.4 L668.40,1502.7 L670.00,1501.8 L671.60,1501 L673.20,1500 L674.80,1499.1 L676.40,1498.1 L678.00,1497.1 L679.60,1496.2 L681.20,1495.2 L682.80,1494.2 L684.40,1493.2 L686.00,1492.2 L687.60,1491 L689.20,1489.9 L690.80,1488.7 L692.40,1487.5 L694.00,1486.4 L695.60,1485.2 L697.20,1484.1 L698.80,1482.9 L700.40,1481.6 L702.00,1480.3 L703.60,1479 L705.20,1477.6 L706.80,1476.3 L708.40,1475 L710.00,1473.6 L711.60,1472.3 L713.20,1470.9 L714.80,1469.4 L716.40,1467.8 L718.00,1466.2 L719.60,1464.6 L721.20,1463 L722.80,1461.4 L724.40,1459.8 L726.00,1458.2 L727.60,1456.4 L729.20,1454.4 L730.80,1452.3 L732.40,1450.1 L734.00,1448 L735.60,1446 L737.20,1444 L738.80,1442 L740.40,1440 L742.00,1438 L743.60,1436.1 L745.20,1434.2 L746.80,1432.3 L748.40,1430.3 L750.00,1428.4 L751.60,1426.5 L753.20,1424.6 L754.80,1422.7 L756.40,1420.8 L758.00,1418.9 L759.60,1417 L761.20,1415 L762.80,1412.9 L764.40,1410.9 L766.00,1408.8 L767.60,1406.8 L769.20,1404.8 L770.80,1402.7 L772.40,1400.7 L774.00,1398.6 L775.60,1396.6 L777.20,1394.5 L778.80,1392.3 L780.40,1389.8 L782.00,1387.3 L783.60,1384.7 L785.20,1382.2 L786.80,1379.7 L788.40,1377.2 L790.00,1374.6 L791.60,1372 L793.20,1369.1 L794.80,1365.6 L796.40,1361.8 L798.00,1358 L799.60,1354.2 L801.20,1350.4 L802.80,1346.6 L804.40,1342.8 L806.00,1339 L807.60,1335.2 L809.20,1331.4 L810.80,1327.6 L812.40,1323.6 L814.00,1319.4 L815.60,1315.2 L817.20,1310.9 L818.80,1306.9 L820.40,1303.1 L822.00,1299.3 L823.60,1295.4 L825.20,1291.5 L826.80,1287.4 L828.40,1283.2 L830.00,1279.1 L831.60,1275 L833.20,1270.8 L834.80,1267 L836.40,1263.9 L838.00,1260.8 L839.60,1258.4 L841.20,1256.5 L842.80,1255.6 L844.40,1255.3 L846.00,1255.8 L847.60,1257.2 L849.20,1258.8 L850.80,1261.9 L852.40,1264.6 L854.00,1268.5 L855.60,1272.5 L857.20,1278.9 L858.80,1286 L860.40,1293.1 L862.00,1299.6 L863.60,1306.2 L865.20,1313 L866.80,1319.9 L868.40,1327.1 L870.00,1334.4 L871.60,1341.9 L873.20,1349.4 L874.80,1357.5 L876.40,1366.1 L878.00,1375 L879.60,1383.9 L881.20,1392.8 L882.80,1401.7 L884.40,1410.4 L886.00,1418 L887.60,1424.4 L889.20,1430.5 L890.80,1436.5 L892.40,1442.4 L894.00,1448.2 L895.60,1453.7 L897.20,1458.8 L898.80,1463.6 L900.40,1468.2 L902.00,1472.7 L903.60,1477.4 L905.20,1482.4 L906.80,1487.1 L908.40,1491.3 L910.00,1495.2 L911.60,1498.7 L913.20,1501.6 L914.80,1504.1 L916.40,1506.4 L918.00,1508.6 L919.60,1510.4 L921.20,1512 L922.80,1513.6 L924.40,1515.1 L926.00,1516.4 L927.60,1517.6 L929.20,1518.8 L930.80,1519.9 L932.40,1520.9 L934.00,1521.8 L935.60,1522.7 L937.20,1523.6 L938.80,1524.5 L940.40,1525.2 L942.00,1525.9 L943.60,1526.4 L945.20,1527 L946.80,1527.5 L948.40,1528 L950.00,1528.5 L951.60,1528.8 L953.20,1529.1 L954.80,1529.4 L956.40,1529.6 L958.00,1529.9 L959.60,1530.1 L961.20,1530.4 L962.80,1530.5 L964.40,1530.6 L966.00,1530.7 L967.60,1530.8 L969.20,1530.9 L970.80,1531 L972.40,1531.1 L974.00,1531.2 L975.60,1531.3 L977.20,1531.3 L978.80,1531.4 L980.40,1531.5 L982.00,1531.6 L983.60,1531.7 L985.20,1531.8 L986.80,1531.9 L988.40,1531.9 L990.00,1532 L991.60,1532 L993.20,1532 L994.80,1532 L996.40,1532 L998.00,1532 L999.60,1532 L1001.20,1532.1 L1002.80,1532.1 L1004.40,1532.1 L1006.00,1532.1 L1007.60,1532.1 L1009.20,1532.1 L1010.80,1532.1 L1012.40,1532.1 L1014.00,1532.1 L1015.60,1532.1 L1017.20,1532.2 L1018.80,1532.2 L1020.40,1532.2 L1022.00,1532.2 L1023.60,1532.2 L1025.20,1532.2 L1026.80,1532.2 L1028.40,1532.2 L1030.00,1532.2 L1031.60,1532.2 L1033.20,1532.3 L1034.80,1532.3 L1036.40,1532.3 L1038.00,1532.3 L1039.60,1532.3 L1041.20,1532.3 L1042.80,1532.3 L1044.40,1532.3 L1046.00,1532.3 L1047.60,1532.3 L1049.20,1532.3 L1050.80,1532.3 L1052.40,1532.3 L1054.00,1532.3 L1055.60,1532.3 L1057.20,1532.3 L1058.80,1532.3 L1060.40,1532.3 L1062.00,1532.3 L1063.60,1532.3 L1065.20,1532.3 L1066.80,1532.3 L1068.40,1532.3 L1070.00,1532.3 L1071.60,1532.3 L1073.20,1532.3 L1074.80,1532.3 L1076.40,1532.3 L1078.00,1532.3 L1079.60,1532.3 L1081.20,1532.3 L1082.80,1532.3 L1084.40,1532.3 L1086.00,1532.3 L1087.60,1532.3 L1089.20,1532.3 L1090.80,1532.3 L1092.40,1532.3 L1094.00,1532.3 L1095.60,1532.3 L1097.20,1532.3 L1098.80,1532.3 L1100.40,1532.3 L1102.00,1532.3 L1103.60,1532.3 L1105.20,1532.3 L1106.80,1532.3 L1108.40,1532.3 L1110.00,1532.3 L1111.60,1532.3 L1113.20,1532.3 L1114.80,1532.3 L1116.40,1532.3 L1118.00,1532.3 L1119.60,1532.3 L1121.20,1532.3 L1122.80,1532.3 L1124.40,1532.3 L1126.00,1532.3 L1127.60,1532.3 L1129.20,1532.3 L1130.80,1532.3 L1132.40,1532.2 L1134.00,1532.2 L1135.60,1532.2 L1137.20,1532.2 L1138.80,1532.2 L1140.40,1532.2 L1142.00,1532.2 L1143.60,1532.2 L1145.20,1532.2 L1146.80,1532.2 L1148.40,1532.2 L1150.00,1532.2 L1151.60,1532.2 L1153.20,1532.2 L1154.80,1532.2 L1156.40,1532.2 L1158.00,1532.2 L1159.60,1532.2 L1161.20,1532.2 L1162.80,1532.2 L1164.40,1532.2 L1166.00,1532.2 L1167.60,1532.2 L1169.20,1532.2 L1170.80,1532.2 L1172.40,1532.2 L1174.00,1532.2 L1175.60,1532.2 L1177.20,1532.2 L1178.80,1532.2 L1180.40,1532.2 L1182.00,1532.2 L1183.60,1532.2 L1185.20,1532.2 L1186.80,1532.2 L1188.40,1532.2 L1190.00,1532.2 L1191.60,1532.2 L1193.20,1532.2 L1194.80,1532.2 L1196.40,1532.2 L1198.00,1532.2 L1199.60,1532.2 L1201.20,1532.2 L1202.80,1532.2 L1204.40,1532.2 L1206.00,1532.2 L1207.60,1532.2 L1209.20,1532.2 L1210.80,1532.2 L1212.40,1532.2 L1214.00,1532.2 L1215.60,1532.2 L1217.20,1532.2 L1218.80,1532.2 L1220.40,1532.2 L1222.00,1532.2 L1223.60,1532.2 L1225.20,1532.2 L1226.80,1532.2 L1228.40,1532.2 L1230.00,1532.2 L1231.60,1532.2 L1233.20,1532.2 L1234.80,1532.2 L1236.40,1532.2 L1238.00,1532.2 L1238.40,1532.2" stroke="#ff6600"/>
<path d="M217.20,1503.2 L218.80,1503.1 L220.40,1503 L222.00,1507.6 L223.60,1510.5 L225.20,1511.4 L226.80,1512.4 L228.40,1513.3 L230.00,1514.2 L231.60,1515.2 L233.20,1516.1 L234.80,1517 L236.40,1517.8 L238.00,1518.4 L239.60,1518.8 L241.20,1518.9 L242.80,1519 L244.40,1519 L246.00,1518.9 L247.60,1518.5 L249.20,1518.1 L250.80,1517.5 L252.40,1516.8 L254.00,1516.2 L255.60,1515.5 L257.20,1514.8 L258.80,1514 L260.40,1513.1 L262.00,1512.1 L263.60,1511 L265.20,1509.9 L266.80,1508.8 L268.40,1507.7 L270.00,1506.6 L271.60,1505.4 L273.20,1504.2 L274.80,1503 L276.40,1501.8 L278.00,1500.6 L279.60,1499.5 L281.20,1498.6 L282.80,1497.8 L284.40,1497 L286.00,1496.2 L287.60,1495.4 L289.20,1494.7 L290.80,1493.9 L292.40,1493.2 L294.00,1492.5 L295.60,1491.8 L297.20,1491.1 L298.80,1490.4 L300.40,1489.8 L302.00,1489.2 L303.60,1488.6 L305.20,1488 L306.80,1487.4 L308.40,1486.8 L310.00,1486.3 L311.60,1485.9 L313.20,1485.5 L314.80,1485.1 L316.40,1484.7 L318.00,1484.6 L319.60,1484.9 L321.20,1485.2 L322.80,1485.5 L324.40,1485.9 L326.00,1486.7 L327.60,1487.8 L329.20,1488.9 L330.80,1490.4 L332.40,1492.1 L334.00,1494 L335.60,1496.1 L337.20,1498.3 L338.80,1500.5 L340.40,1502.7 L342.00,1504.9 L343.60,1507.1 L345.20,1509.3 L346.80,1511.5 L348.40,1513.5 L350.00,1515.1 L351.60,1516.4 L353.20,1517.6 L354.80,1518.5 L356.40,1519.2 L358.00,1519.8 L359.60,1520.3 L361.20,1520.7 L362.80,1520.9 L364.40,1521.2 L366.00,1521.3 L367.60,1521.1 L369.20,1520.8 L370.80,1520.6 L372.40,1520.6 L374.00,1521.1 L375.60,1521.7 L377.20,1522.4 L378.80,1522.9 L380.40,1523.3 L382.00,1523.6 L383.60,1523.8 L385.20,1523.9 L386.80,1523.7 L388.40,1523.2 L390.00,1522.6 L391.60,1522 L393.20,1521.4 L394.80,1520.8 L396.40,1520.6 L398.00,1520.5 L399.60,1520.5 L401.20,1520.3 L402.80,1519.9 L404.40,1519.6 L406.00,1519.2 L407.60,1518.6 L409.20,1517.9 L410.80,1517.2 L412.40,1516.5 L414.00,1515.8 L415.60,1515 L417.20,1514.3 L418.80,1513.8 L420.40,1513.6 L422.00,1513.5 L423.60,1513.5 L425.20,1513.5 L426.80,1513.3 L428.40,1513 L430.00,1512.6 L431.60,1512.2 L433.20,1511.8 L434.80,1511.2 L436.40,1510.4 L438.00,1509.6 L439.60,1508.7 L441.20,1508 L442.80,1507.9 L444.40,1507.9 L446.00,1508.1 L447.60,1508.4 L449.20,1508.7 L450.80,1509 L452.40,1509.2 L454.00,1509.3 L455.60,1509.4 L457.20,1509.5 L458.80,1509.6 L460.40,1509.7 L462.00,1509.8 L463.60,1509.9 L465.20,1510.1 L466.80,1510.3 L468.40,1510.6 L470.00,1511 L471.60,1511.5 L473.20,1512 L474.80,1512.5 L476.40,1513 L478.00,1513.5 L479.60,1514.1 L481.20,1514.8 L482.80,1515.4 L484.40,1516 L486.00,1516.7 L487.60,1517.3 L489.20,1518 L490.80,1518.7 L492.40,1519.5 L494.00,1520.2 L495.60,1521 L497.20,1521.7 L498.80,1522.5 L500.40,1523.2 L502.00,1524 L503.60,1524.6 L505.20,1525.2 L506.80,1525.8 L508.40,1526.4 L510.00,1527 L511.60,1527.6 L513.20,1528.2 L514.80,1528.7 L516.40,1529.2 L518.00,1529.6 L519.60,1529.8 L521.20,1530.1 L522.80,1530.3 L524.40,1530.4 L526.00,1530.5 L527.60,1530.6 L529.20,1530.6 L530.80,1530.7 L532.40,1530.7 L534.00,1530.7 L535.60,1530.6 L537.20,1530.6 L538.80,1530.6 L540.40,1530.6 L542.00,1530.5 L543.60,1530.5 L545.20,1530.5 L546.80,1530.4 L548.40,1530.3 L550.00,1530.2 L551.60,1530.1 L553.20,1530 L554.80,1529.9 L556.40,1529.8 L558.00,1529.6 L559.60,1529.5 L561.20,1529.4 L562.80,1529.3 L564.40,1529.2 L566.00,1529.1 L567.60,1529 L569.20,1528.8 L570.80,1528.6 L572.40,1528.4 L574.00,1528.2 L575.60,1528 L577.20,1527.8 L578.80,1527.6 L580.40,1527.4 L582.00,1527.2 L583.60,1527 L585.20,1526.8 L586.80,1526.6 L588.40,1526.4 L590.00,1526.2 L591.60,1525.9 L593.20,1525.6 L594.80,1525.4 L596.40,1525.1 L598.00,1524.8 L599.60,1524.5 L601.20,1524.3 L602.80,1524 L604.40,1523.7 L606.00,1523.4 L607.60,1523.2 L609.20,1522.9 L610.80,1522.6 L612.40,1522.3 L614.00,1521.9 L615.60,1521.6 L617.20,1521.2 L618.80,1520.9 L620.40,1520.5 L622.00,1520.2 L623.60,1519.9 L625.20,1519.5 L626.80,1519.2 L628.40,1518.8 L630.00,1518.5 L631.60,1518.1 L633.20,1517.7 L634.80,1517.4 L636.40,1517 L638.00,1516.7 L639.60,1516.3 L641.20,1516 L642.80,1515.6 L644.40,1515.1 L646.00,1514.6 L647.60,1514.1 L649.20,1513.5 L650.80,1513 L652.40,1512.5 L654.00,1512 L655.60,1511.5 L657.20,1510.9 L658.80,1510.2 L660.40,1509.5 L662.00,1508.8 L663.60,1508.1 L665.20,1507.4 L666.80,1506.7 L668.40,1506 L670.00,1505.3 L671.60,1504.5 L673.20,1503.7 L674.80,1502.8 L676.40,1502 L678.00,1501.1 L679.60,1500.2 L681.20,1499.4 L682.80,1498.5 L684.40,1497.6 L686.00,1496.7 L687.60,1495.7 L689.20,1494.6 L690.80,1493.6 L692.40,1492.6 L694.00,1491.5 L695.60,1490.5 L697.20,1489.5 L698.80,1488.4 L700.40,1487.3 L702.00,1486.1 L703.60,1484.9 L705.20,1483.8 L706.80,1482.6 L708.40,1481.4 L710.00,1480.2 L711.60,1479 L713.20,1477.8 L714.80,1476.4 L716.40,1475 L718.00,1473.6 L719.60,1472.2 L721.20,1470.8 L722.80,1469.3 L724.40,1467.9 L726.00,1466.5 L727.60,1464.9 L729.20,1463.1 L730.80,1461.2 L732.40,1459.3 L734.00,1457.4 L735.60,1455.6 L737.20,1453.8 L738.80,1452 L740.40,1450.2 L742.00,1448.5 L743.60,1446.8 L745.20,1445.1 L746.80,1443.4 L748.40,1441.7 L750.00,1440 L751.60,1438.3 L753.20,1436.6 L754.80,1434.9 L756.40,1433.2 L758.00,1431.5 L759.60,1429.8 L761.20,1428 L762.80,1426.2 L764.40,1424.4 L766.00,1422.6 L767.60,1420.8 L769.20,1418.9 L770.80,1417.1 L772.40,1415.3 L774.00,1413.5 L775.60,1411.7 L777.20,1409.8 L778.80,1407.8 L780.40,1405.6 L782.00,1403.4 L783.60,1401.1 L785.20,1398.9 L786.80,1396.6 L788.40,1394.4 L790.00,1392.1 L791.60,1389.8 L793.20,1387.2 L794.80,1384.1 L796.40,1380.7 L798.00,1377.4 L799.60,1374 L801.20,1370.6 L802.80,1367.2 L804.40,1363.8 L806.00,1360.5 L807.60,1357.1 L809.20,1353.7 L810.80,1350.3 L812.40,1346.8 L814.00,1343.1 L815.60,1339.3 L817.20,1335.5 L818.80,1331.9 L820.40,1328.5 L822.00,1325.1 L823.60,1321.7 L825.20,1318.2 L826.80,1314.5 L828.40,1310.9 L830.00,1307.2 L831.60,1303.5 L833.20,1299.8 L834.80,1296.5 L836.40,1293.6 L838.00,1290.9 L839.60,1288.8 L841.20,1287.1 L842.80,1286.3 L844.40,1286 L846.00,1286.5 L847.60,1287.7 L849.20,1289.1 L850.80,1291.9 L852.40,1294.3 L854.00,1297.8 L855.60,1301.3 L857.20,1307 L858.80,1313.3 L860.40,1319.6 L862.00,1325.4 L863.60,1331.3 L865.20,1337.3 L866.80,1343.5 L868.40,1349.8 L870.00,1356.4 L871.60,1363 L873.20,1369.7 L874.80,1376.9 L876.40,1384.6 L878.00,1392.5 L879.60,1400.4 L881.20,1408.3 L882.80,1416.2 L884.40,1423.9 L886.00,1430.7 L887.60,1436.4 L889.20,1441.8 L890.80,1447.2 L892.40,1452.5 L894.00,1457.6 L895.60,1462.4 L897.20,1467 L898.80,1471.3 L900.40,1475.4 L902.00,1479.4 L903.60,1483.6 L905.20,1488 L906.80,1492.1 L908.40,1495.9 L910.00,1499.4 L911.60,1502.5 L913.20,1505.1 L914.80,1507.3 L916.40,1509.4 L918.00,1511.3 L919.60,1512.9 L921.20,1514.3 L922.80,1515.7 L924.40,1517.1 L926.00,1518.2 L927.60,1519.3 L929.20,1520.4 L930.80,1521.4 L932.40,1522.2 L934.00,1523 L935.60,1523.8 L937.20,1524.6 L938.80,1525.4 L940.40,1526.1 L942.00,1526.6 L943.60,1527.1 L945.20,1527.6 L946.80,1528.1 L948.40,1528.6 L950.00,1529 L951.60,1529.3 L953.20,1529.5 L954.80,1529.8 L956.40,1530 L958.00,1530.2 L959.60,1530.5 L961.20,1530.7 L962.80,1530.8 L964.40,1530.9 L966.00,1531 L967.60,1531 L969.20,1531.1 L970.80,1531.2 L972.40,1531.3 L974.00,1531.4 L975.60,1531.4 L977.20,1531.5 L978.80,1531.6 L980.40,1531.7 L982.00,1531.8 L983.60,1531.8 L985.20,1531.9 L986.80,1532 L988.40,1532 L990.00,1532.1 L991.60,1532.1 L993.20,1532.1 L994.80,1532.1 L996.40,1532.1 L998.00,1532.1 L999.60,1532.2 L1001.20,1532.2 L1002.80,1532.2 L1004.40,1532.2 L1006.00,1532.2 L1007.60,1532.2 L1009.20,1532.2 L1010.80,1532.2 L1012.40,1532.2 L1014.00,1532.2 L1015.60,1532.2 L1017.20,1532.3 L1018.80,1532.3 L1020.40,1532.3 L1022.00,1532.3 L1023.60,1532.3 L1025.20,1532.3 L1026.80,1532.3 L1028.40,1532.3 L1030.00,1532.3 L1031.60,1532.3 L1033.20,1532.3 L1034.80,1532.4 L1036.40,1532.4 L1038.00,1532.4 L1039.60,1532.4 L1041.20,1532.4 L1042.80,1532.4 L1044.40,1532.4 L1046.00,1532.4 L1047.60,1532.4 L1049.20,1532.4 L1050.80,1532.4 L1052.40,1532.4 L1054.00,1532.4 L1055.60,1532.4 L1057.20,1532.4 L1058.80,1532.4 L1060.40,1532.4 L1062.00,1532.4 L1063.60,1532.4 L1065.20,1532.4 L1066.80,1532.4 L1068.40,1532.4 L1070.00,1532.4 L1071.60,1532.4 L1073.20,1532.4 L1074.80,1532.4 L1076.40,1532.4 L1078.00,1532.4 L1079.60,1532.4 L1081.20,1532.4 L1082.80,1532.4 L1084.40,1532.4 L1086.00,1532.4 L1087.60,1532.4 L1089.20,1532.3 L1090.80,1532.3 L1092.40,1532.3 L1094.00,1532.3 L1095.60,1532.3 L1097.20,1532.3 L1098.80,1532.3 L1100.40,1532.3 L1102.00,1532.3 L1103.60,1532.3 L1105.20,1532.3 L1106.80,1532.3 L1108.40,1532.3 L1110.00,1532.3 L1111.60,1532.3 L1113.20,1532.3 L1114.80,1532.3 L1116.40,1532.3 L1118.00,1532.3 L1119.60,1532.3 L1121.20,1532.3 L1122.80,1532.3 L1124.40,1532.3 L1126.00,1532.3 L1127.60,1532.3 L1129.20,1532.3 L1130.80,1532.3 L1132.40,1532.3 L1134.00,1532.3 L1135.60,1532.3 L1137.20,1532.3 L1138.80,1532.3 L1140.40,1532.3 L1142.00,1532.3 L1143.60,1532.3 L1145.20,1532.3 L1146.80,1532.3 L1148.40,1532.3 L1150.00,1532.3 L1151.60,1532.3 L1153.20,1532.3 L1154.80,1532.3 L1156.40,1532.3 L1158.00,1532.3 L1159.60,1532.3 L1161.20,1532.3 L1162.80,1532.3 L1164.40,1532.3 L1166.00,1532.3 L1167.60,1532.3 L1169.20,1532.3 L1170.80,1532.3 L1172.40,1532.3 L1174.00,1532.3 L1175.60,1532.3 L1177.20,1532.3 L1178.80,1532.3 L1180.40,1532.3 L1182.00,1532.3 L1183.60,1532.3 L1185.20,1532.3 L1186.80,1532.3 L1188.40,1532.3 L1190.00,1532.3 L1191.60,1532.3 L1193.20,1532.3 L1194.80,1532.3 L1196.40,1532.3 L1198.00,1532.3 L1199.60,1532.3 L1201.20,1532.3 L1202.80,1532.3 L1204.40,1532.3 L1206.00,1532.3 L1207.60,1532.3 L1209.20,1532.3 L1210.80,1532.3 L1212.40,1532.3 L1214.00,1532.3 L1215.60,1532.3 L1217.20,1532.3 L1218.80,1532.3 L1220.40,1532.3 L1222.00,1532.3 L1223.60,1532.3 L1225.20,1532.3 L1226.80,1532.3 L1228.40,1532.3 L1230.00,1532.3 L1231.60,1532.3 L1233.20,1532.3 L1234.80,1532.3 L1236.40,1532.3 L1238.00,1532.3 L1238.40,1532.3" stroke="#419ad0"/>
<path d="M217.20,1506.2 L218.80,1506.1 L220.40,1506 L222.00,1510.2 L223.60,1512.8 L225.20,1513.6 L226.80,1514.5 L228.40,1515.3 L230.00,1516.2 L231.60,1517 L233.20,1517.9 L234.80,1518.7 L236.40,1519.3 L238.00,1519.8 L239.60,1520.2 L241.20,1520.4 L242.80,1520.4 L244.40,1520.5 L246.00,1520.3 L247.60,1520 L249.20,1519.6 L250.80,1519.1 L252.40,1518.5 L254.00,1517.9 L255.60,1517.3 L257.20,1516.6 L258.80,1516 L260.40,1515.1 L262.00,1514.2 L263.60,1513.2 L265.20,1512.2 L266.80,1511.2 L268.40,1510.3 L270.00,1509.2 L271.60,1508.2 L273.20,1507.1 L274.80,1506.1 L276.40,1505 L278.00,1503.9 L279.60,1502.9 L281.20,1502.1 L282.80,1501.4 L284.40,1500.7 L286.00,1500 L287.60,1499.2 L289.20,1498.6 L290.80,1497.9 L292.40,1497.3 L294.00,1496.6 L295.60,1496 L297.20,1495.4 L298.80,1494.7 L300.40,1494.2 L302.00,1493.6 L303.60,1493.1 L305.20,1492.6 L306.80,1492 L308.40,1491.5 L310.00,1491.1 L311.60,1490.7 L313.20,1490.3 L314.80,1489.9 L316.40,1489.6 L318.00,1489.6 L319.60,1489.8 L321.20,1490 L322.80,1490.3 L324.40,1490.7 L326.00,1491.4 L327.60,1492.3 L329.20,1493.4 L330.80,1494.7 L332.40,1496.2 L334.00,1498 L335.60,1499.9 L337.20,1501.8 L338.80,1503.8 L340.40,1505.8 L342.00,1507.7 L343.60,1509.7 L345.20,1511.7 L346.80,1513.7 L348.40,1515.5 L350.00,1516.9 L351.60,1518.1 L353.20,1519.2 L354.80,1520 L356.40,1520.6 L358.00,1521.1 L359.60,1521.6 L361.20,1521.9 L362.80,1522.2 L364.40,1522.4 L366.00,1522.5 L367.60,1522.3 L369.20,1522.1 L370.80,1521.9 L372.40,1521.9 L374.00,1522.3 L375.60,1522.9 L377.20,1523.4 L378.80,1524 L380.40,1524.3 L382.00,1524.5 L383.60,1524.7 L385.20,1524.9 L386.80,1524.7 L388.40,1524.2 L390.00,1523.7 L391.60,1523.1 L393.20,1522.5 L394.80,1522.1 L396.40,1521.9 L398.00,1521.8 L399.60,1521.7 L401.20,1521.5 L402.80,1521.2 L404.40,1520.9 L406.00,1520.6 L407.60,1520.1 L409.20,1519.5 L410.80,1518.8 L412.40,1518.2 L414.00,1517.5 L415.60,1516.9 L417.20,1516.2 L418.80,1515.7 L420.40,1515.5 L422.00,1515.5 L423.60,1515.5 L425.20,1515.5 L426.80,1515.3 L428.40,1515 L430.00,1514.7 L431.60,1514.3 L433.20,1514 L434.80,1513.5 L436.40,1512.7 L438.00,1511.9 L439.60,1511.1 L441.20,1510.6 L442.80,1510.4 L444.40,1510.5 L446.00,1510.6 L447.60,1510.9 L449.20,1511.2 L450.80,1511.4 L452.40,1511.6 L454.00,1511.7 L455.60,1511.8 L457.20,1511.8 L458.80,1511.9 L460.40,1512 L462.00,1512.1 L463.60,1512.3 L465.20,1512.4 L466.80,1512.6 L468.40,1512.8 L470.00,1513.2 L471.60,1513.7 L473.20,1514.1 L474.80,1514.5 L476.40,1515 L478.00,1515.5 L479.60,1516 L481.20,1516.6 L482.80,1517.2 L484.40,1517.7 L486.00,1518.3 L487.60,1518.9 L489.20,1519.5 L490.80,1520.2 L492.40,1520.9 L494.00,1521.5 L495.60,1522.2 L497.20,1522.9 L498.80,1523.6 L500.40,1524.2 L502.00,1524.9 L503.60,1525.5 L505.20,1526 L506.80,1526.5 L508.40,1527.1 L510.00,1527.6 L511.60,1528.1 L513.20,1528.7 L514.80,1529.2 L516.40,1529.6 L518.00,1529.9 L519.60,1530.2 L521.20,1530.4 L522.80,1530.6 L524.40,1530.7 L526.00,1530.8 L527.60,1530.8 L529.20,1530.9 L530.80,1530.9 L532.40,1530.9 L534.00,1530.9 L535.60,1530.9 L537.20,1530.9 L538.80,1530.8 L540.40,1530.8 L542.00,1530.8 L543.60,1530.7 L545.20,1530.7 L546.80,1530.7 L548.40,1530.6 L550.00,1530.5 L551.60,1530.4 L553.20,1530.3 L554.80,1530.2 L556.40,1530.1 L558.00,1530 L559.60,1529.9 L561.20,1529.8 L562.80,1529.7 L564.40,1529.6 L566.00,1529.5 L567.60,1529.4 L569.20,1529.2 L570.80,1529 L572.40,1528.9 L574.00,1528.7 L575.60,1528.5 L577.20,1528.3 L578.80,1528.1 L580.40,1528 L582.00,1527.8 L583.60,1527.6 L585.20,1527.4 L586.80,1527.3 L588.40,1527.1 L590.00,1526.9 L591.60,1526.6 L593.20,1526.4 L594.80,1526.1 L596.40,1525.9 L598.00,1525.6 L599.60,1525.4 L601.20,1525.1 L602.80,1524.9 L604.40,1524.7 L606.00,1524.4 L607.60,1524.2 L609.20,1523.9 L610.80,1523.7 L612.40,1523.4 L614.00,1523.1 L615.60,1522.7 L617.20,1522.4 L618.80,1522.1 L620.40,1521.8 L622.00,1521.5 L623.60,1521.2 L625.20,1520.9 L626.80,1520.6 L628.40,1520.2 L630.00,1519.9 L631.60,1519.6 L633.20,1519.3 L634.80,1519 L636.40,1518.7 L638.00,1518.3 L639.60,1518 L641.20,1517.7 L642.80,1517.3 L644.40,1516.9 L646.00,1516.4 L647.60,1516 L649.20,1515.5 L650.80,1515.1 L652.40,1514.6 L654.00,1514.1 L655.60,1513.7 L657.20,1513.1 L658.80,1512.6 L660.40,1511.9 L662.00,1511.3 L663.60,1510.7 L665.20,1510 L666.80,1509.4 L668.40,1508.7 L670.00,1508.1 L671.60,1507.4 L673.20,1506.7 L674.80,1505.9 L676.40,1505.1 L678.00,1504.3 L679.60,1503.6 L681.20,1502.8 L682.80,1502 L684.40,1501.2 L686.00,1500.4 L687.60,1499.5 L689.20,1498.5 L690.80,1497.6 L692.40,1496.7 L694.00,1495.8 L695.60,1494.8 L697.20,1493.9 L698.80,1493 L700.40,1491.9 L702.00,1490.9 L703.60,1489.8 L705.20,1488.8 L706.80,1487.7 L708.40,1486.6 L710.00,1485.6 L711.60,1484.5 L713.20,1483.4 L714.80,1482.1 L716.40,1480.9 L718.00,1479.6 L719.60,1478.3 L721.20,1477.1 L722.80,1475.8 L724.40,1474.5 L726.00,1473.2 L727.60,1471.8 L729.20,1470.2 L730.80,1468.5 L732.40,1466.8 L734.00,1465.1 L735.60,1463.5 L737.20,1461.9 L738.80,1460.2 L740.40,1458.6 L742.00,1457.1 L743.60,1455.6 L745.20,1454 L746.80,1452.5 L748.40,1451 L750.00,1449.4 L751.60,1447.9 L753.20,1446.4 L754.80,1444.9 L756.40,1443.3 L758.00,1441.8 L759.60,1440.3 L761.20,1438.7 L762.80,1437.1 L764.40,1435.4 L766.00,1433.8 L767.60,1432.2 L769.20,1430.5 L770.80,1428.9 L772.40,1427.2 L774.00,1425.6 L775.60,1424 L777.20,1422.3 L778.80,1420.5 L780.40,1418.6 L782.00,1416.6 L783.60,1414.5 L785.20,1412.5 L786.80,1410.5 L788.40,1408.5 L790.00,1406.4 L791.60,1404.4 L793.20,1402 L794.80,1399.2 L796.40,1396.2 L798.00,1393.2 L799.60,1390.1 L801.20,1387.1 L802.80,1384 L804.40,1381 L806.00,1378 L807.60,1375 L809.20,1371.9 L810.80,1368.9 L812.40,1365.7 L814.00,1362.4 L815.60,1358.9 L817.20,1355.6 L818.80,1352.4 L820.40,1349.3 L822.00,1346.2 L823.60,1343.2 L825.20,1340 L826.80,1336.7 L828.40,1333.4 L830.00,1330.1 L831.60,1326.8 L833.20,1323.5 L834.80,1320.5 L836.40,1317.9 L838.00,1315.5 L839.60,1313.6 L841.20,1312.1 L842.80,1311.3 L844.40,1311.1 L846.00,1311.5 L847.60,1312.6 L849.20,1313.9 L850.80,1316.4 L852.40,1318.5 L854.00,1321.6 L855.60,1324.9 L857.20,1329.9 L858.80,1335.6 L860.40,1341.3 L862.00,1346.5 L863.60,1351.8 L865.20,1357.2 L866.80,1362.7 L868.40,1368.4 L870.00,1374.3 L871.60,1380.3 L873.20,1386.3 L874.80,1392.7 L876.40,1399.7 L878.00,1406.8 L879.60,1413.9 L881.20,1421 L882.80,1428.1 L884.40,1435 L886.00,1441.1 L887.60,1446.2 L889.20,1451.1 L890.80,1455.9 L892.40,1460.6 L894.00,1465.3 L895.60,1469.6 L897.20,1473.7 L898.80,1477.5 L900.40,1481.2 L902.00,1484.8 L903.60,1488.6 L905.20,1492.5 L906.80,1496.3 L908.40,1499.7 L910.00,1502.8 L911.60,1505.6 L913.20,1507.9 L914.80,1509.9 L916.40,1511.8 L918.00,1513.5 L919.60,1514.9 L921.20,1516.2 L922.80,1517.5 L924.40,1518.7 L926.00,1519.7 L927.60,1520.7 L929.20,1521.6 L930.80,1522.5 L932.40,1523.3 L934.00,1524.1 L935.60,1524.8 L937.20,1525.5 L938.80,1526.2 L940.40,1526.8 L942.00,1527.3 L943.60,1527.7 L945.20,1528.2 L946.80,1528.6 L948.40,1529 L950.00,1529.4 L951.60,1529.7 L953.20,1529.9 L954.80,1530.1 L956.40,1530.3 L958.00,1530.5 L959.60,1530.7 L961.20,1530.9 L962.80,1531 L964.40,1531.1 L966.00,1531.2 L967.60,1531.2 L969.20,1531.3 L970.80,1531.4 L972.40,1531.5 L974.00,1531.5 L975.60,1531.6 L977.20,1531.7 L978.80,1531.7 L980.40,1531.8 L982.00,1531.9 L983.60,1532 L985.20,1532 L986.80,1532.1 L988.40,1532.1 L990.00,1532.2 L991.60,1532.2 L993.20,1532.2 L994.80,1532.2 L996.40,1532.2 L998.00,1532.2 L999.60,1532.2 L1001.20,1532.2 L1002.80,1532.3 L1004.40,1532.3 L1006.00,1532.3 L1007.60,1532.3 L1009.20,1532.3 L1010.80,1532.3 L1012.40,1532.3 L1014.00,1532.3 L1015.60,1532.3 L1017.20,1532.3 L1018.80,1532.3 L1020.40,1532.3 L1022.00,1532.4 L1023.60,1532.4 L1025.20,1532.4 L1026.80,1532.4 L1028.40,1532.4 L1030.00,1532.4 L1031.60,1532.4 L1033.20,1532.4 L1034.80,1532.4 L1036.40,1532.4 L1038.00,1532.4 L1039.60,1532.4 L1041.20,1532.4 L1042.80,1532.4 L1044.40,1532.4 L1046.00,1532.4 L1047.60,1532.4 L1049.20,1532.4 L1050.80,1532.4 L1052.40,1532.4 L1054.00,1532.4 L1055.60,1532.4 L1057.20,1532.4 L1058.80,1532.4 L1060.40,1532.4 L1062.00,1532.4 L1063.60,1532.4 L1065.20,1532.4 L1066.80,1532.4 L1068.40,1532.4 L1070.00,1532.4 L1071.60,1532.4 L1073.20,1532.4 L1074.80,1532.4 L1076.40,1532.4 L1078.00,1532.4 L1079.60,1532.4 L1081.20,1532.4 L1082.80,1532.4 L1084.40,1532.4 L1086.00,1532.4 L1087.60,1532.4 L1089.20,1532.4 L1090.80,1532.4 L1092.40,1532.4 L1094.00,1532.4 L1095.60,1532.4 L1097.20,1532.4 L1098.80,1532.4 L1100.40,1532.4 L1102.00,1532.4 L1103.60,1532.4 L1105.20,1532.4 L1106.80,1532.4 L1108.40,1532.4 L1110.00,1532.4 L1111.60,1532.4 L1113.20,1532.4 L1114.80,1532.4 L1116.40,1532.4 L1118.00,1532.4 L1119.60,1532.4 L1121.20,1532.4 L1122.80,1532.4 L1124.40,1532.4 L1126.00,1532.4 L1127.60,1532.4 L1129.20,1532.4 L1130.80,1532.4 L1132.40,1532.4 L1134.00,1532.4 L1135.60,1532.4 L1137.20,1532.4 L1138.80,1532.4 L1140.40,1532.4 L1142.00,1532.4 L1143.60,1532.4 L1145.20,1532.4 L1146.80,1532.4 L1148.40,1532.4 L1150.00,1532.4 L1151.60,1532.4 L1153.20,1532.4 L1154.80,1532.4 L1156.40,1532.4 L1158.00,1532.4 L1159.60,1532.4 L1161.20,1532.4 L1162.80,1532.4 L1164.40,1532.4 L1166.00,1532.4 L1167.60,1532.4 L1169.20,1532.4 L1170.80,1532.4 L1172.40,1532.4 L1174.00,1532.4 L1175.60,1532.4 L1177.20,1532.4 L1178.80,1532.4 L1180.40,1532.4 L1182.00,1532.4 L1183.60,1532.4 L1185.20,1532.4 L1186.80,1532.4 L1188.40,1532.4 L1190.00,1532.4 L1191.60,1532.4 L1193.20,1532.4 L1194.80,1532.4 L1196.40,1532.4 L1198.00,1532.4 L1199.60,1532.4 L1201.20,1532.4 L1202.80,1532.4 L1204.40,1532.4 L1206.00,1532.4 L1207.60,1532.4 L1209.20,1532.4 L1210.80,1532.4 L1212.40,1532.4 L1214.00,1532.4 L1215.60,1532.4 L1217.20,1532.4 L1218.80,1532.4 L1220.40,1532.4 L1222.00,1532.4 L1223.60,1532.4 L1225.20,1532.4 L1226.80,1532.4 L1228.40,1532.4 L1230.00,1532.4 L1231.60,1532.4 L1233.20,1532.4 L1234.80,1532.4 L1236.40,1532.4 L1238.00,1532.4 L1238.40,1532.4" stroke="#32b800"/>
</g></g>
<g fill="#000">
<text transform="translate(160.27,755.56) scale(0.5313,0.4366)" font-family='"Liberation Sans", sans-serif' font-weight="bold" font-style="normal" font-size="100">0.0</text>
<text transform="translate(160.27,1545.56) scale(0.5313,0.4366)" font-family='"Liberation Sans", sans-serif' font-weight="bold" font-style="normal" font-size="100">0.0</text>
<text transform="translate(160.27,617.56) scale(0.5313,0.4366)" font-family='"Liberation Sans", sans-serif' font-weight="bold" font-style="normal" font-size="100">0.2</text>
<text transform="translate(160.27,1419.96) scale(0.5313,0.4366)" font-family='"Liberation Sans", sans-serif' font-weight="bold" font-style="normal" font-size="100">0.2</text>
<text transform="translate(160.15,479.56) scale(0.5313,0.4366)" font-family='"Liberation Sans", sans-serif' font-weight="bold" font-style="normal" font-size="100">0.4</text>
<text transform="translate(160.15,1294.36) scale(0.5313,0.4366)" font-family='"Liberation Sans", sans-serif' font-weight="bold" font-style="normal" font-size="100">0.4</text>
<text transform="translate(160.27,341.56) scale(0.5313,0.4366)" font-family='"Liberation Sans", sans-serif' font-weight="bold" font-style="normal" font-size="100">0.6</text>
<text transform="translate(160.27,1168.76) scale(0.5313,0.4366)" font-family='"Liberation Sans", sans-serif' font-weight="bold" font-style="normal" font-size="100">0.6</text>
<text transform="translate(159.74,203.56) scale(0.5313,0.4366)" font-family='"Liberation Sans", sans-serif' font-weight="bold" font-style="normal" font-size="100">0.8</text>
<text transform="translate(159.74,1043.16) scale(0.5313,0.4366)" font-family='"Liberation Sans", sans-serif' font-weight="bold" font-style="normal" font-size="100">0.8</text>
<text transform="translate(160.27,65.56) scale(0.5313,0.4366)" font-family='"Liberation Sans", sans-serif' font-weight="bold" font-style="normal" font-size="100">1.0</text>
<text transform="translate(160.27,917.56) scale(0.5313,0.4366)" font-family='"Liberation Sans", sans-serif' font-weight="bold" font-style="normal" font-size="100">1.0</text>
<text transform="translate(217.28,798.56) scale(0.5300,0.4366)" font-family='"Liberation Sans", sans-serif' font-weight="bold" font-style="normal" font-size="100">300</text>
<text transform="translate(334.22,1586.97) scale(0.5300,0.4338)" font-family='"Liberation Sans", sans-serif' font-weight="bold" font-style="normal" font-size="100">300</text>
<text transform="translate(451.17,798.56) scale(0.5300,0.4366)" font-family='"Liberation Sans", sans-serif' font-weight="bold" font-style="normal" font-size="100">400</text>
<text transform="translate(568.13,1586.97) scale(0.5300,0.4338)" font-family='"Liberation Sans", sans-serif' font-weight="bold" font-style="normal" font-size="100">400</text>
<text transform="translate(684.81,798.56) scale(0.5300,0.4366)" font-family='"Liberation Sans", sans-serif' font-weight="bold" font-style="normal" font-size="100">500</text>
<text transform="translate(801.76,1586.97) scale(0.5300,0.4338)" font-family='"Liberation Sans", sans-serif' font-weight="bold" font-style="normal" font-size="100">500</text>
<text transform="translate(918.45,798.56) scale(0.5300,0.4366)" font-family='"Liberation Sans", sans-serif' font-weight="bold" font-style="normal" font-size="100">600</text>
<text transform="translate(1035.40,1586.97) scale(0.5300,0.4338)" font-family='"Liberation Sans", sans-serif' font-weight="bold" font-style="normal" font-size="100">600</text>
<text transform="translate(1152.35,798.56) scale(0.5300,0.4366)" font-family='"Liberation Sans", sans-serif' font-weight="bold" font-style="normal" font-size="100">700</text>
<text transform="translate(1269.30,1586.97) scale(0.5300,0.4338)" font-family='"Liberation Sans", sans-serif' font-weight="bold" font-style="normal" font-size="100">700</text>
<text transform="translate(1386.51,798.56) scale(0.5300,0.4366)" font-family='"Liberation Sans", sans-serif' font-weight="bold" font-style="normal" font-size="100">800</text>
<text transform="translate(1503.46,1586.97) scale(0.5300,0.4338)" font-family='"Liberation Sans", sans-serif' font-weight="bold" font-style="normal" font-size="100">800</text>
<text transform="translate(74.65,692.32) rotate(-90) scale(0.7744,0.6596)" font-family='"Liberation Sans", sans-serif' font-weight="bold" font-size="100" letter-spacing="-6.6">Absorbance (a.<tspan dx="5.5"> </tspan>u.)</text>
<text transform="translate(74.65,1481.12) rotate(-90) scale(0.7744,0.6596)" font-family='"Liberation Sans", sans-serif' font-weight="bold" font-size="100" letter-spacing="-6.6">Absorbance (a.<tspan dx="5.5"> </tspan>u.)</text>
<text transform="translate(397.86,135.89) scale(0.7875,0.6149)" font-family='"Liberation Sans", sans-serif' font-weight="bold" font-style="normal" font-size="100">(a)</text>
<text transform="translate(344.04,947.02) scale(0.7720,0.6181)" font-family='"Liberation Sans", sans-serif' font-weight="bold" font-style="normal" font-size="100">(b)</text>
<text transform="translate(1367.74,669.36) scale(0.7906,0.6408)" font-family='"Liberation Sans", sans-serif' font-weight="bold" font-style="normal" font-size="100">CR</text>
<text transform="translate(1351.31,1478.90) scale(0.6700,0.5493)" font-family='"Liberation Sans", sans-serif' font-weight="bold" font-style="normal" font-size="100">PR</text>
<text transform="translate(768.54,1691.73) scale(0.7357,0.5944)" font-family='"Noto Serif CJK SC", serif' font-weight="bold" font-style="italic" font-size="100" stroke="#000" stroke-width="7" stroke-linejoin="round">λ</text>
<text transform="translate(859.69,1691.06) scale(0.8411,0.6447)" font-family='"Liberation Sans", sans-serif' font-weight="bold" font-style="normal" font-size="100">(nm)</text>
</g>
<rect x="1275" y="92" width="228.8" height="429.8" fill="#000"/>
<rect x="1257.2" y="77" width="228.6" height="429.8" fill="#fff" stroke="#000" stroke-width="2.4"/>
<line x1="1261.2" y1="97.1" x2="1343" y2="97.1" stroke="#747474" stroke-width="5.8" stroke-linecap="round"/>
<text transform="translate(1353.00,107.10) scale(0.3590,0.2901)" font-family='"Liberation Sans", sans-serif' font-size="100">0 min</text>
<line x1="1261.2" y1="132.6" x2="1343" y2="132.6" stroke="#ff4040" stroke-width="5.8" stroke-linecap="round"/>
<text transform="translate(1353.00,142.55) scale(0.3590,0.2901)" font-family='"Liberation Sans", sans-serif' font-size="100">10 min</text>
<line x1="1261.2" y1="168.0" x2="1343" y2="168.0" stroke="#0070e4" stroke-width="5.8" stroke-linecap="round"/>
<text transform="translate(1353.00,178.00) scale(0.3590,0.2901)" font-family='"Liberation Sans", sans-serif' font-size="100">20 min</text>
<line x1="1261.2" y1="203.4" x2="1343" y2="203.4" stroke="#00af66" stroke-width="5.8" stroke-linecap="round"/>
<text transform="translate(1353.00,213.45) scale(0.3590,0.2901)" font-family='"Liberation Sans", sans-serif' font-size="100">30 min</text>
<line x1="1261.2" y1="238.9" x2="1343" y2="238.9" stroke="#c279e3" stroke-width="5.8" stroke-linecap="round"/>
<text transform="translate(1353.00,248.90) scale(0.3590,0.2901)" font-family='"Liberation Sans", sans-serif' font-size="100">40 min</text>
<line x1="1261.2" y1="274.4" x2="1343" y2="274.4" stroke="#dc9c00" stroke-width="5.8" stroke-linecap="round"/>
<text transform="translate(1353.00,284.35) scale(0.3590,0.2901)" font-family='"Liberation Sans", sans-serif' font-size="100">60 min</text>
<line x1="1261.2" y1="309.8" x2="1343" y2="309.8" stroke="#00cccf" stroke-width="5.8" stroke-linecap="round"/>
<text transform="translate(1353.00,319.80) scale(0.3590,0.2901)" font-family='"Liberation Sans", sans-serif' font-size="100">80 min</text>
<line x1="1261.2" y1="345.2" x2="1343" y2="345.2" stroke="#8c4e4f" stroke-width="5.8" stroke-linecap="round"/>
<text transform="translate(1353.00,355.25) scale(0.3590,0.2901)" font-family='"Liberation Sans", sans-serif' font-size="100">100 min</text>
<line x1="1261.2" y1="380.7" x2="1343" y2="380.7" stroke="#8f8f00" stroke-width="5.8" stroke-linecap="round"/>
<text transform="translate(1353.00,390.70) scale(0.3590,0.2901)" font-family='"Liberation Sans", sans-serif' font-size="100">120 min</text>
<line x1="1261.2" y1="416.1" x2="1343" y2="416.1" stroke="#ff6600" stroke-width="5.8" stroke-linecap="round"/>
<text transform="translate(1353.00,426.15) scale(0.3590,0.2901)" font-family='"Liberation Sans", sans-serif' font-size="100">140 min</text>
<line x1="1261.2" y1="451.6" x2="1343" y2="451.6" stroke="#419ad0" stroke-width="5.8" stroke-linecap="round"/>
<text transform="translate(1353.00,461.60) scale(0.3590,0.2901)" font-family='"Liberation Sans", sans-serif' font-size="100">160 min</text>
<line x1="1261.2" y1="487.1" x2="1343" y2="487.1" stroke="#32b800" stroke-width="5.8" stroke-linecap="round"/>
<text transform="translate(1353.00,497.05) scale(0.3590,0.2901)" font-family='"Liberation Sans", sans-serif' font-size="100">180 min</text>
<rect x="1269.2" y="886" width="228.8" height="429.7" fill="#000"/>
<rect x="1250.2" y="872" width="229.6" height="429.70000000000005" fill="#fff" stroke="#000" stroke-width="2.4"/>
<line x1="1255.2" y1="891.7" x2="1337" y2="891.7" stroke="#747474" stroke-width="5.8" stroke-linecap="round"/>
<text transform="translate(1347.00,901.70) scale(0.3590,0.2901)" font-family='"Liberation Sans", sans-serif' font-size="100">0 min</text>
<line x1="1255.2" y1="927.1" x2="1337" y2="927.1" stroke="#ff4040" stroke-width="5.8" stroke-linecap="round"/>
<text transform="translate(1347.00,937.14) scale(0.3590,0.2901)" font-family='"Liberation Sans", sans-serif' font-size="100">10 min</text>
<line x1="1255.2" y1="962.6" x2="1337" y2="962.6" stroke="#0070e4" stroke-width="5.8" stroke-linecap="round"/>
<text transform="translate(1347.00,972.58) scale(0.3590,0.2901)" font-family='"Liberation Sans", sans-serif' font-size="100">20 min</text>
<line x1="1255.2" y1="998.0" x2="1337" y2="998.0" stroke="#00af66" stroke-width="5.8" stroke-linecap="round"/>
<text transform="translate(1347.00,1008.02) scale(0.3590,0.2901)" font-family='"Liberation Sans", sans-serif' font-size="100">30 min</text>
<line x1="1255.2" y1="1033.5" x2="1337" y2="1033.5" stroke="#c279e3" stroke-width="5.8" stroke-linecap="round"/>
<text transform="translate(1347.00,1043.46) scale(0.3590,0.2901)" font-family='"Liberation Sans", sans-serif' font-size="100">40 min</text>
<line x1="1255.2" y1="1068.9" x2="1337" y2="1068.9" stroke="#dc9c00" stroke-width="5.8" stroke-linecap="round"/>
<text transform="translate(1347.00,1078.90) scale(0.3590,0.2901)" font-family='"Liberation Sans", sans-serif' font-size="100">60 min</text>
<line x1="1255.2" y1="1104.3" x2="1337" y2="1104.3" stroke="#00cccf" stroke-width="5.8" stroke-linecap="round"/>
<text transform="translate(1347.00,1114.34) scale(0.3590,0.2901)" font-family='"Liberation Sans", sans-serif' font-size="100">80 min</text>
<line x1="1255.2" y1="1139.8" x2="1337" y2="1139.8" stroke="#8c4e4f" stroke-width="5.8" stroke-linecap="round"/>
<text transform="translate(1347.00,1149.78) scale(0.3590,0.2901)" font-family='"Liberation Sans", sans-serif' font-size="100">100 min</text>
<line x1="1255.2" y1="1175.2" x2="1337" y2="1175.2" stroke="#8f8f00" stroke-width="5.8" stroke-linecap="round"/>
<text transform="translate(1347.00,1185.22) scale(0.3590,0.2901)" font-family='"Liberation Sans", sans-serif' font-size="100">120 min</text>
<line x1="1255.2" y1="1210.7" x2="1337" y2="1210.7" stroke="#ff6600" stroke-width="5.8" stroke-linecap="round"/>
<text transform="translate(1347.00,1220.66) scale(0.3590,0.2901)" font-family='"Liberation Sans", sans-serif' font-size="100">140 min</text>
<line x1="1255.2" y1="1246.1" x2="1337" y2="1246.1" stroke="#419ad0" stroke-width="5.8" stroke-linecap="round"/>
<text transform="translate(1347.00,1256.10) scale(0.3590,0.2901)" font-family='"Liberation Sans", sans-serif' font-size="100">160 min</text>
<line x1="1255.2" y1="1281.5" x2="1337" y2="1281.5" stroke="#32b800" stroke-width="5.8" stroke-linecap="round"/>
<text transform="translate(1347.00,1291.54) scale(0.3590,0.2901)" font-family='"Liberation Sans", sans-serif' font-size="100">180 min</text>
</svg></body></html>
